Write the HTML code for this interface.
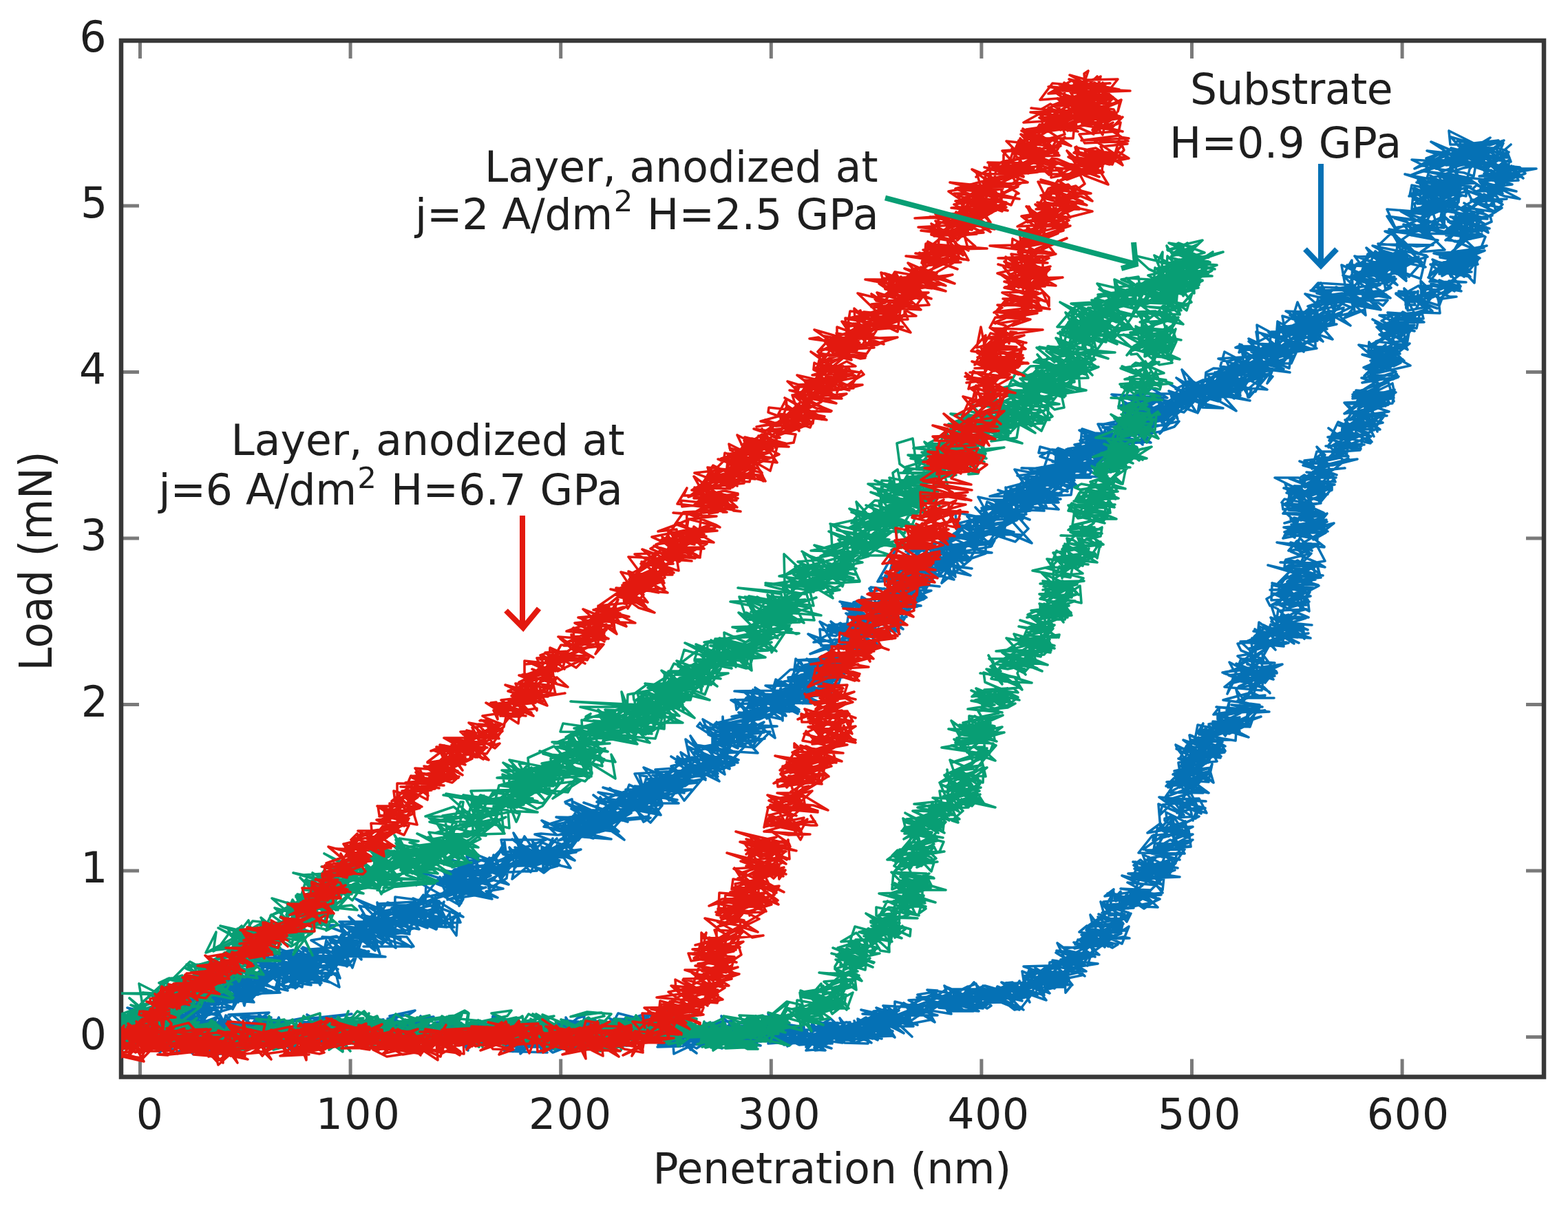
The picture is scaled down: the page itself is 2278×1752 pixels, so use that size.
<!DOCTYPE html>
<html><head><meta charset="utf-8"><title>Load vs Penetration</title>
<style>
html,body{margin:0;padding:0;background:#fff;}
svg{display:block;}
text{font-family:"DejaVu Sans","Liberation Sans",sans-serif;fill:#1e1e1e;}
</style></head>
<body>
<svg xmlns="http://www.w3.org/2000/svg" width="2278" height="1752" viewBox="0 0 2278 1752">
<rect x="0" y="0" width="2278" height="1752" fill="#fff"/>
<defs><clipPath id="ax"><rect x="176" y="59" width="2067" height="1505.5"/></clipPath></defs>
<g stroke="#7a7a7a" stroke-width="5">
<line x1="203.5" y1="1564.5" x2="203.5" y2="1538.5"/>
<line x1="203.5" y1="59.0" x2="203.5" y2="85.0"/>
<line x1="509.1" y1="1564.5" x2="509.1" y2="1538.5"/>
<line x1="509.1" y1="59.0" x2="509.1" y2="85.0"/>
<line x1="814.7" y1="1564.5" x2="814.7" y2="1538.5"/>
<line x1="814.7" y1="59.0" x2="814.7" y2="85.0"/>
<line x1="1120.3" y1="1564.5" x2="1120.3" y2="1538.5"/>
<line x1="1120.3" y1="59.0" x2="1120.3" y2="85.0"/>
<line x1="1425.9" y1="1564.5" x2="1425.9" y2="1538.5"/>
<line x1="1425.9" y1="59.0" x2="1425.9" y2="85.0"/>
<line x1="1731.5" y1="1564.5" x2="1731.5" y2="1538.5"/>
<line x1="1731.5" y1="59.0" x2="1731.5" y2="85.0"/>
<line x1="2037.1" y1="1564.5" x2="2037.1" y2="1538.5"/>
<line x1="2037.1" y1="59.0" x2="2037.1" y2="85.0"/>
<line x1="176.0" y1="1506.5" x2="202.0" y2="1506.5"/>
<line x1="2243.0" y1="1506.5" x2="2217.0" y2="1506.5"/>
<line x1="176.0" y1="1265.0" x2="202.0" y2="1265.0"/>
<line x1="2243.0" y1="1265.0" x2="2217.0" y2="1265.0"/>
<line x1="176.0" y1="1023.5" x2="202.0" y2="1023.5"/>
<line x1="2243.0" y1="1023.5" x2="2217.0" y2="1023.5"/>
<line x1="176.0" y1="782.0" x2="202.0" y2="782.0"/>
<line x1="2243.0" y1="782.0" x2="2217.0" y2="782.0"/>
<line x1="176.0" y1="540.5" x2="202.0" y2="540.5"/>
<line x1="2243.0" y1="540.5" x2="2217.0" y2="540.5"/>
<line x1="176.0" y1="299.0" x2="202.0" y2="299.0"/>
<line x1="2243.0" y1="299.0" x2="2217.0" y2="299.0"/>
</g>
<rect x="176" y="59" width="2067" height="1505.5" fill="none" stroke="#383838" stroke-width="6.5"/>
<g stroke-width="3.6" stroke-linejoin="round" stroke-linecap="round" clip-path="url(#ax)">
<path d="M185 1479L192 1500 182 1513 160 1514 188 1473 160 1490 168 1473 208 1510 192 1472 218 1494 214 1494 168 1500 164 1497 231 1516 205 1501 174 1486 168 1497 203 1481 206 1504 244 1500 234 1500 167 1516 213 1511 193 1493 157 1518 172 1522 189 1522 185 1496 237 1498 218 1510 171 1496 189 1498 229 1495 175 1498 168 1489 190 1502 199 1497 233 1488 167 1496 205 1492 214 1502 169 1488 194 1477 175 1495 218 1486 250 1463 233 1480 245 1509 220 1505 207 1478 226 1507 238 1507 260 1474 253 1520 223 1474 198 1481 206 1498 252 1492 199 1488 200 1481 205 1495 241 1489 230 1500 257 1480 205 1511 272 1509 224 1499 230 1477 216 1472 221 1497 247 1503 232 1487 185 1464 206 1469 204 1465 258 1485 276 1483 235 1472 244 1484 223 1480 262 1492 279 1466 284 1478 223 1487 307 1490 265 1456 271 1477 246 1488 263 1485 256 1497 268 1494 280 1464 226 1483 287 1483 275 1492 246 1465 252 1473 242 1455 258 1503 257 1465 230 1451 269 1470 241 1474 255 1451 291 1448 300 1462 253 1482 239 1473 281 1453 248 1466 302 1464 243 1490 263 1480 269 1494 242 1496 277 1459 249 1473 297 1478 278 1503 286 1486 240 1491 314 1503 252 1467 259 1491 266 1468 274 1475 272 1465 242 1486 275 1485 253 1489 269 1466 296 1453 297 1473 247 1454 248 1476 288 1472 252 1460 306 1472 284 1450 292 1440 300 1445 299 1453 307 1450 296 1472 284 1483 297 1472 294 1489 256 1482 314 1498 322 1506 279 1505 291 1488 303 1473 279 1483 279 1474 322 1510 305 1493 247 1475 298 1498 296 1469 296 1471 317 1475 267 1466 332 1463 257 1467 307 1503 283 1464 287 1469 309 1454 326 1486 313 1466 272 1475 277 1481 278 1462 328 1442 298 1463 316 1466 283 1459 270 1439 282 1458 275 1451 335 1445 307 1455 316 1454 307 1470 292 1444 339 1464 298 1476 325 1448 321 1470 274 1457 284 1441 322 1445 306 1436 283 1447 345 1444 283 1449 288 1460 310 1428 333 1449 274 1446 292 1443 298 1435 341 1454 355 1434 346 1456 317 1421 302 1461 307 1423 332 1453 324 1426 344 1445 317 1460 295 1428 366 1423 351 1443 338 1466 344 1439 364 1452 298 1442 293 1439 339 1431 357 1453 305 1460 355 1452 295 1438 324 1441 312 1451 369 1456 352 1433 363 1428 355 1461 347 1433 346 1437 343 1450 358 1445 381 1412 348 1421 351 1432 306 1436 342 1436 407 1442 314 1446 341 1414 372 1440 291 1432 319 1438 346 1422 311 1450 365 1452 381 1414 391 1416 361 1453 331 1415 355 1442 322 1421 377 1436 364 1429 351 1450 395 1440 328 1425 336 1439 325 1437 370 1443 333 1432 328 1451 387 1437 321 1428 363 1422 383 1406 374 1418 383 1434 327 1409 375 1445 354 1410 331 1442 338 1437 348 1444 359 1436 344 1411 332 1435 395 1420 358 1439 383 1431 407 1413 405 1440 362 1415 397 1419 341 1432 367 1450 404 1409 339 1443 342 1425 356 1436 384 1431 358 1416 390 1412 386 1411 418 1439 348 1423 414 1406 412 1432 430 1435 429 1396 360 1434 407 1391 352 1392 354 1398 431 1415 357 1393 361 1420 374 1389 402 1412 377 1384 432 1389 414 1423 438 1408 376 1387 384 1425 381 1421 426 1380 367 1392 441 1417 439 1400 424 1408 423 1385 395 1410 401 1420 398 1418 421 1412 407 1399 442 1407 382 1397 452 1428 384 1410 439 1434 442 1414 441 1402 416 1405 377 1427 390 1406 398 1407 439 1415 434 1396 424 1385 455 1387 433 1411 419 1394 444 1395 392 1384 440 1414 408 1414 462 1385 387 1394 396 1374 465 1403 433 1380 422 1404 430 1402 463 1393 390 1381 450 1401 405 1388 461 1410 471 1390 434 1403 468 1412 465 1431 447 1392 421 1398 429 1436 426 1430 429 1429 418 1436 441 1405 467 1428 449 1427 434 1410 435 1409 403 1407 432 1434 420 1399 410 1426 435 1419 401 1433 411 1397 470 1406 445 1402 433 1409 460 1410 418 1404 479 1427 429 1414 448 1422 431 1413 459 1412 451 1393 503 1403 414 1387 490 1389 457 1396 440 1386 494 1421 483 1392 430 1411 460 1425 414 1409 482 1416 436 1427 455 1393 440 1395 453 1416 491 1400 474 1424 493 1434 488 1414 441 1412 433 1428 452 1431 444 1425 435 1422 443 1415 431 1394 471 1425 486 1398 453 1395 454 1409 431 1412 490 1400 439 1408 481 1403 491 1408 438 1378 474 1384 508 1402 500 1385 483 1408 473 1396 471 1392 500 1392 488 1377 499 1399 498 1391 481 1409 482 1391 442 1396 440 1376 450 1380 519 1387 504 1404 484 1392 518 1377 476 1400 451 1384 536 1382 468 1392 509 1397 454 1405 519 1367 476 1397 511 1366 493 1367 512 1406 525 1367 475 1406 504 1384 479 1366 519 1371 525 1394 501 1370 528 1386 489 1360 452 1366 492 1390 474 1366 468 1395 451 1379 491 1376 530 1381 486 1384 494 1386 467 1379 480 1370 521 1367 481 1389 560 1390 511 1381 522 1351 533 1359 508 1350 503 1386 541 1388 528 1381 475 1362 468 1361 542 1364 545 1381 499 1344 472 1344 544 1372 538 1375 530 1349 494 1345 514 1367 555 1369 518 1357 533 1364 535 1350 552 1386 544 1359 483 1382 496 1358 495 1362 518 1347 499 1360 504 1384 502 1376 528 1341 501 1343 494 1344 501 1365 505 1375 501 1366 543 1333 538 1368 493 1339 575 1339 565 1333 561 1361 574 1347 532 1355 524 1341 518 1359 496 1374 521 1349 512 1339 575 1377 571 1352 580 1339 524 1360 534 1363 507 1332 555 1372 567 1358 521 1330 582 1364 522 1349 558 1355 529 1330 551 1360 582 1326 546 1325 512 1356 572 1324 520 1363 559 1346 530 1317 591 1330 585 1328 522 1316 532 1333 520 1349 518 1340 572 1358 553 1317 526 1357 561 1334 544 1349 561 1357 549 1361 551 1322 538 1338 582 1340 535 1350 587 1355 557 1359 600 1349 526 1329 554 1338 570 1375 528 1375 601 1375 591 1361 529 1359 562 1339 549 1361 598 1376 559 1353 541 1345 584 1352 540 1350 595 1357 572 1349 552 1315 609 1315 544 1345 546 1338 611 1325 571 1323 583 1341 574 1324 590 1325 603 1310 549 1313 561 1337 535 1341 617 1325 608 1344 584 1338 569 1344 599 1340 517 1306 589 1352 555 1329 548 1311 550 1331 592 1320 563 1311 546 1337 574 1326 609 1325 547 1326 615 1311 616 1337 615 1300 596 1326 568 1326 625 1309 627 1311 605 1325 582 1332 583 1320 609 1350 535 1335 603 1333 621 1348 594 1338 589 1323 591 1323 576 1315 628 1329 591 1329 633 1350 602 1321 642 1312 574 1303 573 1338 603 1336 577 1331 569 1319 634 1307 650 1339 626 1307 582 1328 634 1350 645 1310 636 1345 628 1325 592 1348 580 1333 639 1324 580 1339 603 1341 643 1332 592 1327 610 1332 605 1322 583 1338 642 1340 668 1327 658 1336 657 1348 653 1327 641 1344 607 1318 594 1357 590 1331 635 1319 663 1359 665 1331 669 1340 602 1343 660 1347 616 1324 635 1346 642 1341 600 1317 605 1319 644 1328 623 1338 638 1309 633 1319 600 1305 613 1324 620 1329 616 1344 649 1347 629 1315 673 1332 620 1299 600 1319 611 1334 627 1324 633 1301 658 1298 666 1314 607 1281 608 1282 605 1286 602 1282 619 1282 618 1310 653 1299 651 1272 682 1288 639 1277 649 1300 669 1265 632 1283 653 1291 678 1290 615 1304 639 1274 670 1312 673 1287 624 1271 605 1266 642 1286 678 1272 662 1283 662 1295 658 1288 648 1294 687 1283 677 1287 667 1316 673 1306 656 1284 645 1278 636 1281 639 1282 702 1298 694 1300 650 1307 706 1289 644 1297 691 1294 684 1287 669 1271 690 1292 665 1294 669 1262 705 1273 641 1264 676 1292 661 1285 647 1299 705 1279 657 1294 715 1306 660 1268 657 1290 691 1298 648 1293 640 1301 698 1277 695 1301 700 1289 648 1281 706 1302 646 1269 648 1277 663 1299 644 1274 699 1283 648 1303 710 1269 657 1272 731 1291 706 1295 723 1304 659 1285 681 1282 692 1288 669 1280 652 1267 669 1278 691 1259 651 1273 668 1268 666 1272 690 1283 723 1253 653 1285 658 1265 709 1264 723 1262 682 1271 680 1255 655 1249 693 1271 737 1244 720 1268 726 1257 678 1244 689 1272 670 1262 703 1248 728 1276 713 1257 672 1283 687 1274 672 1257 739 1263 713 1296 702 1268 666 1260 697 1282 676 1270 695 1242 689 1283 713 1272 679 1280 702 1283 712 1277 739 1285 726 1275 731 1268 696 1285 699 1267 714 1288 710 1291 736 1276 739 1253 726 1257 742 1247 716 1279 698 1284 712 1248 717 1268 726 1272 692 1256 702 1279 660 1263 704 1257 711 1246 701 1270 718 1248 700 1260 723 1264 707 1256 716 1246 708 1248 683 1238 678 1250 713 1249 731 1231 719 1249 733 1223 738 1262 726 1261 704 1272 771 1242 773 1257 715 1260 717 1242 723 1251 752 1239 744 1277 780 1248 771 1267 740 1231 749 1260 764 1237 780 1265 720 1268 790 1236 745 1235 789 1249 757 1256 775 1245 714 1268 739 1258 747 1256 732 1267 719 1249 727 1251 749 1243 788 1248 777 1225 776 1228 749 1233 757 1236 729 1238 731 1241 749 1247 766 1232 739 1252 727 1259 752 1235 793 1220 728 1220 732 1239 792 1255 799 1257 806 1234 762 1240 763 1238 764 1257 746 1210 772 1249 777 1232 793 1256 753 1233 762 1215 780 1241 759 1252 788 1224 797 1228 781 1241 785 1251 744 1219 810 1258 792 1263 803 1218 792 1240 779 1249 764 1252 781 1242 748 1231 813 1250 790 1268 776 1258 761 1234 792 1254 814 1257 790 1241 789 1266 789 1231 835 1250 826 1243 803 1237 801 1233 794 1264 751 1254 825 1223 782 1255 812 1252 787 1230 788 1252 825 1236 776 1255 829 1239 802 1239 844 1234 779 1257 806 1243 837 1238 826 1231 833 1223 838 1217 773 1254 809 1218 802 1226 792 1244 827 1227 788 1252 813 1230 809 1228 818 1237 798 1237 810 1254 782 1253 773 1220 783 1242 819 1246 829 1261 778 1249 809 1229 797 1235 825 1242 816 1204 849 1206 830 1232 777 1212 786 1211 809 1213 787 1192 824 1208 862 1218 832 1196 864 1214 865 1192 845 1216 833 1208 790 1201 792 1199 843 1183 849 1184 822 1188 829 1196 834 1207 888 1219 848 1216 869 1182 852 1180 830 1212 798 1203 858 1212 892 1203 811 1213 846 1203 854 1206 806 1198 826 1194 821 1223 852 1187 818 1211 866 1202 834 1184 813 1204 838 1196 808 1187 856 1188 840 1221 861 1194 811 1221 881 1205 880 1204 853 1185 820 1195 827 1210 877 1206 868 1185 874 1184 833 1165 862 1182 879 1186 822 1167 877 1188 844 1188 861 1177 859 1194 821 1165 831 1161 832 1171 892 1204 882 1202 886 1206 860 1206 878 1184 852 1196 819 1216 865 1177 831 1188 866 1181 885 1198 853 1191 849 1186 827 1199 897 1188 874 1199 866 1171 869 1186 886 1179 890 1180 860 1196 864 1195 830 1175 887 1182 842 1182 871 1188 824 1221 857 1213 870 1195 907 1220 894 1208 857 1204 859 1190 878 1197 864 1192 848 1195 846 1179 872 1176 886 1196 860 1209 838 1207 871 1194 884 1173 896 1175 885 1180 856 1181 878 1191 899 1208 851 1196 835 1182 841 1192 874 1206 917 1181 844 1188 876 1195 907 1188 848 1166 897 1183 842 1203 884 1172 879 1178 871 1209 900 1184 887 1196 859 1196 887 1196 868 1191 892 1203 894 1200 925 1165 886 1168 862 1197 882 1176 881 1200 893 1163 874 1177 880 1199 898 1191 872 1158 868 1173 888 1191 884 1185 912 1194 862 1155 903 1186 878 1168 867 1165 908 1150 886 1172 927 1144 941 1176 886 1169 904 1177 940 1169 881 1160 903 1167 921 1169 868 1164 939 1165 912 1158 869 1151 918 1177 900 1183 953 1159 903 1154 910 1163 886 1145 945 1195 957 1181 922 1171 935 1194 945 1188 904 1192 892 1183 949 1159 942 1186 890 1191 963 1157 904 1175 937 1148 960 1184 909 1174 943 1180 925 1170 913 1176 907 1168 924 1148 948 1155 959 1143 963 1144 947 1163 876 1144 936 1166 943 1143 962 1170 956 1177 910 1163 919 1155 927 1146 914 1140 904 1168 929 1174 962 1169 909 1152 984 1162 918 1150 961 1168 909 1147 1005 1147 951 1159 946 1154 945 1150 976 1128 919 1148 965 1127 920 1146 990 1128 932 1165 989 1137 943 1148 944 1167 986 1167 922 1142 983 1147 981 1118 916 1163 926 1163 962 1167 955 1147 992 1143 950 1159 943 1138 965 1133 945 1149 999 1119 922 1124 933 1145 1014 1137 938 1140 949 1139 947 1139 976 1118 936 1152 929 1126 940 1128 932 1151 950 1159 910 1163 966 1128 935 1115 972 1163 993 1136 940 1144 974 1159 932 1159 948 1152 960 1130 1007 1134 995 1142 976 1131 978 1150 968 1126 994 1163 1024 1127 938 1132 988 1142 939 1144 994 1152 981 1144 977 1143 956 1144 958 1129 1008 1127 948 1126 977 1141 970 1145 995 1118 1025 1131 988 1138 964 1144 984 1120 975 1113 987 1110 952 1143 976 1134 952 1118 979 1116 955 1134 965 1132 994 1125 993 1135 973 1130 1025 1117 969 1148 1002 1127 985 1122 973 1137 1002 1131 1005 1115 1036 1107 984 1124 978 1130 994 1116 982 1107 1024 1103 1019 1125 975 1099 992 1110 1041 1115 1022 1110 1047 1105 1021 1109 1004 1121 1043 1128 989 1093 1002 1130 1050 1117 1010 1116 1039 1123 1043 1124 1037 1113 1030 1105 997 1102 1022 1129 984 1099 986 1112 1016 1098 1045 1135 1003 1114 1007 1122 997 1109 1025 1133 984 1103 1013 1103 999 1115 1012 1127 1048 1106 1053 1125 1039 1116 1054 1108 986 1122 989 1126 1005 1120 1034 1098 1022 1100 1067 1111 1040 1118 1052 1107 1000 1085 1022 1116 1005 1100 1060 1116 1038 1077 1044 1099 1069 1104 1053 1096 1050 1079 1028 1088 1047 1111 1038 1104 1060 1099 1073 1104 1005 1116 996 1074 1040 1108 1042 1112 1008 1093 1059 1076 1055 1114 1050 1093 1060 1117 1032 1105 1072 1108 1011 1082 1074 1093 1051 1094 1055 1111 1065 1102 1083 1083 1053 1116 1022 1096 1003 1069 1015 1096 1049 1101 1062 1077 1019 1085 1035 1089 1035 1072 1038 1071 1013 1055 1017 1050 1022 1057 1082 1056 1078 1084 1042 1057 1021 1045 1031 1067 1048 1062 1033 1052 1032 1053 1095 1053 1095 1046 1086 1060 1070 1069 1072 1083 1101 1058 1072 1066 1041 1049 1072 1087 1029 1067 1098 1070 1040 1069 1023 1054 1054 1068 1074 1068 1038 1079 1068 1093 1037 1090 1101 1094 1078 1069 1036 1074 1059 1089 1075 1054 1099 1059 1076 1077 1069 1084 1111 1073 1061 1079 1051 1048 1110 1064 1088 1067 1073 1067 1055 1065 1075 1054 1099 1073 1071 1067 1110 1049 1087 1073 1093 1085 1111 1058 1043 1059 1072 1062 1119 1063 1096 1086 1041 1081 1101 1039 1078 1053 1080 1053 1075 1081 1073 1065 1094 1056 1065 1070 1105 1032 1081 1039 1076 1068 1052 1051 1097 1046 1073 1035 1116 1038 1126 1072 1088 1044 1050 1052 1050 1041 1051 1054 1074 1056 1054 1062 1129 1055 1039 1051 1125 1029 1063 1041 1095 1043 1092 1022 1087 1025 1090 1014 1114 1044 1133 1030 1094 1012 1096 1020 1131 1018 1085 1013 1070 1031 1068 1016 1088 1034 1062 1017 1135 1015 1137 1047 1137 1018 1093 1046 1103 1045 1127 1034 1092 1048 1111 1040 1089 1042 1127 1011 1067 1004 1143 1003 1125 1012 1142 1040 1105 1024 1146 1008 1125 1019 1126 1025 1135 997 1128 993 1119 1019 1080 1030 1076 1023 1109 1020 1112 1025 1091 1007 1122 1009 1103 1021 1081 1040 1155 1002 1114 1032 1082 1006 1116 1009 1132 1014 1080 1018 1095 1015 1136 1045 1081 1033 1093 1019 1100 1042 1116 1033 1092 1013 1135 1016 1115 1020 1147 1034 1141 1005 1145 998 1098 1026 1135 1011 1159 1037 1120 1017 1094 1002 1089 1029 1155 1033 1121 1035 1119 1012 1161 1034 1145 1030 1097 999 1114 1028 1161 1031 1145 1020 1159 993 1139 1025 1127 1023 1136 994 1154 1005 1164 1006 1135 990 1179 1022 1105 1020 1164 1004 1183 997 1112 996 1166 1022 1134 1003 1145 1002 1139 990 1183 984 1152 1009 1147 1013 1128 1029 1150 994 1179 999 1180 996 1170 988 1094 1020 1176 1020 1149 992 1125 1025 1173 1012 1192 1021 1139 1019 1121 1015 1181 1005 1144 1011 1171 990 1153 998 1170 1020 1177 1004 1122 1004 1127 987 1164 1010 1173 1003 1150 1008 1183 1019 1148 999 1143 1014 1201 1010 1134 1006 1144 1004 1159 1011 1152 1002 1149 1029 1169 1001 1155 990 1149 1017 1164 989 1137 1011 1194 1001 1143 1006 1158 1007 1203 983 1209 1013 1193 1006 1196 1010 1180 998 1196 1002 1182 981 1150 989 1219 998 1183 979 1164 980 1211 988 1194 980 1190 1008 1197 974 1219 996 1146 1022 1184 991 1186 975 1160 997 1216 988 1170 990 1146 990 1145 984 1172 982 1217 998 1225 972 1208 986 1200 999 1165 1003 1128 991 1148 973 1219 967 1227 979 1195 981 1158 972 1200 966 1173 980 1152 989 1156 957 1167 968 1162 959 1148 989 1193 972 1205 951 1202 985 1155 966 1199 987 1172 957 1195 972 1187 975 1184 962 1154 975 1181 962 1212 971 1194 973 1225 974 1217 986 1157 986 1228 955 1157 959 1229 960 1153 984 1169 966 1220 955 1176 992 1156 985 1204 987 1205 951 1177 983 1216 952 1181 984 1218 969 1158 975 1235 963 1216 976 1208 993 1214 984 1177 987 1187 966 1176 972 1230 968 1194 953 1177 966 1179 987 1196 962 1224 984 1210 974 1203 966 1172 970 1169 976 1216 954 1233 953 1194 972 1226 958 1247 931 1223 960 1174 921 1247 948 1251 917 1177 950 1231 933 1251 908 1248 942 1215 942 1191 903 1250 936 1207 903 1229 928 1182 933 1257 894 1214 924 1207 923 1216 908 1221 905 1232 915 1255 915 1247 936 1220 908 1240 917 1259 904 1204 908 1238 925 1191 914 1193 938 1260 934 1256 942 1244 945 1236 916 1257 937 1234 911 1257 922 1202 913 1265 940 1229 922 1225 932 1261 932 1232 905 1253 940 1228 934 1212 929 1277 940 1237 910 1231 911 1275 937 1247 896 1222 929 1267 922 1212 911 1271 917 1263 923 1238 930 1294 898 1280 877 1264 905 1249 893 1292 894 1220 874 1280 885 1257 884 1232 879 1239 904 1255 891 1223 877 1275 916 1304 917 1224 881 1271 912 1230 910 1233 891 1269 925 1229 891 1261 897 1285 903 1257 894 1236 889 1266 925 1231 915 1252 893 1255 904 1241 912 1287 881 1278 903 1245 901 1241 904 1247 893 1252 867 1288 887 1304 875 1304 890 1284 898 1253 881 1303 869 1257 871 1267 890 1265 870 1304 867 1270 880 1311 862 1253 903 1317 896 1277 900 1289 888 1262 888 1256 880 1284 897 1240 875 1247 873 1298 886 1252 899 1245 877 1305 907 1304 876 1312 891 1323 883 1308 909 1313 878 1276 886 1307 921 1276 884 1312 914 1264 887 1273 910 1291 877 1270 892 1299 890 1276 910 1298 881 1281 880 1286 892 1320 884 1261 881 1304 899 1280 887 1264 889 1313 860 1283 861 1308 892 1313 856 1273 877 1263 855 1290 883 1310 886 1333 881 1294 890 1264 898 1287 901 1273 888 1261 881 1298 865 1307 870 1261 905 1291 863 1302 858 1276 874 1342 865 1306 886 1339 862 1319 882 1338 880 1288 871 1334 862 1265 853 1266 860 1285 855 1291 862 1309 856 1336 865 1332 847 1320 836 1331 860 1297 868 1352 830 1342 855 1304 830 1297 854 1290 856 1353 858 1342 862 1355 837 1289 842 1346 839 1350 849 1286 870 1322 863 1284 869 1315 882 1344 869 1341 871 1299 854 1319 875 1318 871 1292 864 1346 868 1305 833 1349 845 1364 834 1295 862 1286 836 1332 856 1291 840 1300 801 1275 845 1291 844 1314 841 1346 844 1346 810 1322 848 1295 848 1338 843 1323 830 1299 827 1328 843 1288 860 1317 838 1332 861 1329 862 1311 848 1278 840 1375 825 1323 824 1371 837 1309 839 1284 839 1342 832 1308 841 1320 800 1320 815 1302 827 1322 800 1366 797 1305 822 1342 798 1362 838 1375 803 1355 828 1321 850 1335 805 1333 846 1323 845 1368 825 1318 848 1325 817 1315 846 1324 818 1316 854 1353 819 1348 850 1365 852 1327 848 1351 846 1362 814 1388 838 1383 808 1366 824 1330 808 1384 811 1358 801 1356 791 1369 787 1345 792 1379 819 1329 783 1316 801 1336 802 1320 811 1339 817 1335 820 1344 826 1343 808 1375 794 1403 812 1397 791 1327 811 1369 801 1373 818 1372 817 1381 801 1373 784 1381 833 1356 818 1373 829 1386 842 1364 836 1397 804 1378 827 1341 832 1344 814 1412 826 1345 818 1348 819 1410 813 1368 847 1387 800 1385 833 1337 797 1410 836 1373 828 1381 803 1395 815 1382 803 1394 824 1358 815 1394 811 1402 797 1376 798 1415 786 1360 802 1403 814 1373 793 1400 820 1385 802 1429 783 1428 780 1409 812 1432 804 1432 789 1357 774 1397 800 1409 811 1358 798 1387 775 1410 781 1376 783 1383 777 1402 777 1358 799 1386 775 1368 794 1417 787 1421 775 1408 783 1407 778 1403 777 1375 777 1418 798 1398 769 1370 796 1442 790 1374 796 1445 785 1440 794 1388 803 1441 803 1415 798 1408 774 1434 773 1444 770 1385 796 1452 770 1401 775 1441 793 1412 766 1410 780 1410 757 1383 778 1413 782 1391 764 1459 780 1398 765 1427 751 1415 753 1451 778 1437 774 1392 782 1417 782 1422 751 1388 744 1390 769 1393 763 1444 766 1417 737 1454 778 1424 752 1390 761 1427 781 1433 776 1483 777 1416 771 1455 760 1435 791 1459 772 1419 756 1416 782 1420 765 1461 773 1499 789 1470 757 1406 786 1420 769 1475 787 1494 768 1481 753 1453 768 1473 773 1443 775 1463 754 1474 757 1485 750 1459 745 1426 771 1405 750 1445 750 1442 754 1418 774 1428 777 1418 766 1460 747 1457 780 1468 729 1441 752 1418 755 1470 746 1444 739 1463 737 1429 752 1432 742 1413 765 1477 756 1454 746 1438 731 1496 755 1447 737 1423 743 1489 718 1506 721 1456 751 1460 714 1457 742 1451 747 1495 738 1421 722 1442 760 1426 738 1497 742 1461 746 1435 735 1444 742 1451 732 1460 748 1464 725 1503 725 1485 753 1425 756 1439 752 1491 747 1487 748 1428 751 1434 729 1474 746 1482 751 1451 750 1493 737 1465 747 1486 754 1442 726 1502 727 1456 714 1493 721 1438 746 1472 721 1438 721 1474 711 1503 705 1500 737 1485 743 1516 711 1480 706 1477 721 1450 712 1496 734 1481 730 1511 740 1515 715 1476 715 1478 745 1494 742 1472 717 1476 737 1469 715 1462 724 1483 730 1453 735 1486 699 1455 732 1447 731 1523 700 1470 724 1515 714 1503 724 1517 742 1429 738 1470 738 1468 709 1521 738 1509 709 1464 738 1461 708 1474 752 1494 723 1462 737 1511 713 1538 740 1480 735 1517 720 1508 714 1470 711 1534 699 1513 726 1518 702 1517 694 1464 708 1545 688 1525 726 1482 712 1492 698 1541 708 1499 695 1484 713 1542 717 1493 711 1527 710 1517 681 1496 700 1494 713 1474 682 1548 696 1530 697 1546 683 1478 691 1528 715 1557 685 1476 729 1487 720 1497 704 1538 725 1500 695 1530 702 1560 706 1523 724 1525 724 1487 694 1551 714 1538 709 1499 733 1541 725 1489 731 1538 730 1490 692 1558 695 1496 722 1556 719 1561 685 1542 706 1538 683 1498 685 1557 694 1498 707 1538 685 1532 703 1538 705 1513 684 1525 705 1558 673 1532 701 1496 682 1533 675 1566 707 1507 681 1484 680 1580 682 1556 698 1553 709 1505 685 1549 670 1518 686 1532 687 1582 673 1529 698 1562 670 1529 671 1582 662 1542 660 1561 698 1530 689 1539 694 1585 694 1529 658 1509 658 1511 649 1554 661 1569 684 1511 663 1525 655 1515 685 1592 669 1583 657 1566 645 1561 646 1589 661 1549 679 1545 675 1534 659 1533 683 1586 658 1528 653 1568 680 1597 680 1532 678 1518 690 1535 685 1583 664 1588 655 1581 665 1581 668 1561 659 1565 684 1563 678 1574 658 1569 676 1599 693 1527 689 1555 668 1553 691 1583 689 1586 685 1558 657 1536 652 1571 684 1606 663 1603 655 1565 657 1607 643 1577 653 1600 674 1568 678 1569 662 1570 658 1551 652 1604 643 1563 665 1538 694 1577 680 1558 663 1534 657 1551 656 1595 675 1609 653 1612 660 1586 680 1614 686 1599 652 1579 655 1588 676 1537 664 1537 675 1577 686 1554 684 1537 651 1605 676 1555 658 1549 653 1551 679 1592 636 1585 656 1562 674 1612 641 1563 658 1573 660 1523 687 1590 676 1571 678 1601 664 1615 667 1605 680 1579 667 1535 656 1560 677 1547 688 1602 647 1594 685 1600 673 1563 646 1577 642 1615 651 1590 677 1619 657 1571 666 1566 665 1549 670 1612 646 1558 665 1620 663 1569 640 1596 632 1569 654 1572 623 1629 642 1603 638 1557 660 1582 652 1623 642 1572 662 1638 632 1608 638 1602 665 1591 648 1560 654 1572 653 1596 630 1574 634 1625 651 1614 653 1612 656 1568 625 1617 634 1633 646 1641 651 1607 628 1663 620 1641 632 1572 628 1606 632 1625 631 1578 639 1645 640 1594 641 1573 652 1626 648 1621 636 1629 614 1635 625 1632 632 1637 625 1633 644 1600 617 1659 604 1643 618 1596 632 1641 637 1607 621 1590 662 1630 633 1592 640 1651 649 1633 649 1609 639 1617 651 1629 638 1648 657 1627 645 1668 636 1613 615 1610 646 1668 642 1602 630 1595 616 1657 617 1660 646 1647 633 1602 621 1640 618 1633 639 1667 619 1658 611 1625 632 1614 635 1672 643 1628 615 1663 604 1631 627 1645 608 1621 610 1637 639 1609 636 1660 605 1641 594 1648 624 1693 608 1643 598 1678 594 1645 618 1677 579 1663 601 1615 573 1696 578 1673 564 1640 593 1701 593 1682 597 1629 589 1685 594 1648 597 1625 590 1686 574 1686 579 1655 601 1645 585 1678 593 1717 572 1650 572 1650 602 1697 600 1632 577 1676 586 1658 592 1674 626 1650 610 1704 601 1713 599 1637 586 1633 599 1671 613 1656 612 1681 593 1649 625 1715 597 1697 612 1685 630 1706 608 1647 618 1695 618 1682 605 1660 632 1685 627 1706 620 1713 612 1645 627 1703 587 1695 605 1722 581 1686 598 1691 597 1659 599 1689 594 1699 604 1672 608 1723 585 1695 602 1721 571 1689 604 1709 582 1736 579 1714 591 1696 589 1663 598 1672 578 1704 584 1695 586 1669 582 1664 598 1700 582 1684 587 1698 593 1720 599 1734 584 1685 593 1683 599 1672 620 1696 585 1711 609 1701 573 1719 590 1716 579 1725 583 1678 609 1694 605 1684 605 1736 576 1737 580 1685 593 1701 587 1683 577 1694 608 1688 614 1707 598 1714 590 1738 599 1718 567 1716 598 1695 585 1746 564 1740 600 1748 584 1698 568 1760 592 1696 556 1712 566 1704 576 1746 563 1730 583 1739 566 1709 549 1752 586 1744 560 1721 558 1726 556 1754 578 1770 583 1708 565 1720 559 1715 575 1737 557 1774 572 1723 563 1746 568 1717 537 1726 563 1714 568 1728 579 1732 584 1715 580 1714 585 1755 550 1747 592 1777 593 1743 585 1766 553 1719 594 1750 562 1726 554 1726 577 1746 563 1766 563 1796 597 1730 559 1774 565 1750 573 1784 562 1751 584 1770 547 1773 581 1719 570 1763 579 1792 565 1739 567 1731 565 1802 570 1783 560 1802 575 1795 537 1735 558 1748 552 1796 561 1773 561 1772 537 1749 569 1744 569 1796 539 1753 544 1793 579 1762 560 1792 550 1789 547 1768 556 1740 561 1816 582 1760 572 1727 550 1765 577 1796 576 1792 548 1765 541 1818 567 1813 577 1809 559 1777 562 1757 567 1760 571 1842 545 1815 577 1794 544 1800 578 1751 552 1752 541 1763 535 1808 538 1787 537 1751 554 1805 520 1772 547 1828 543 1784 533 1765 542 1804 567 1815 551 1786 559 1767 541 1811 567 1831 550 1824 569 1834 548 1789 540 1774 560 1784 572 1794 543 1805 560 1803 542 1769 572 1783 572 1758 565 1832 540 1812 539 1837 538 1830 546 1790 557 1801 552 1817 553 1841 566 1796 562 1807 561 1810 545 1790 528 1818 534 1807 534 1780 543 1849 537 1841 557 1849 547 1770 521 1851 516 1814 550 1847 542 1816 516 1802 506 1801 504 1814 526 1826 540 1773 532 1779 511 1800 522 1811 535 1815 515 1833 524 1781 535 1850 524 1858 500 1855 537 1819 534 1874 541 1795 525 1859 532 1868 522 1823 538 1783 545 1837 503 1789 545 1820 544 1837 514 1843 529 1782 542 1822 525 1850 527 1790 543 1782 525 1859 507 1811 518 1801 500 1865 536 1838 529 1809 538 1808 531 1871 499 1842 510 1799 503 1819 503 1821 503 1800 512 1804 501 1795 505 1823 509 1873 500 1863 512 1840 512 1869 507 1818 511 1873 535 1876 510 1804 508 1806 519 1806 535 1884 511 1825 514 1822 532 1811 546 1858 535 1844 515 1840 513 1819 537 1809 540 1834 516 1881 517 1848 527 1868 508 1855 509 1865 517 1890 507 1855 515 1818 502 1826 517 1890 497 1876 528 1837 528 1830 520 1913 506 1872 508 1814 496 1821 502 1814 492 1878 522 1833 485 1858 507 1883 502 1839 504 1848 503 1855 500 1843 500 1823 499 1844 488 1889 501 1825 482 1829 507 1826 472 1878 500 1847 484 1894 511 1879 503 1866 519 1856 491 1843 483 1905 507 1871 501 1870 518 1912 488 1870 514 1897 486 1874 486 1843 511 1847 482 1918 482 1855 508 1862 511 1853 489 1863 494 1883 502 1907 495 1856 467 1853 507 1881 500 1860 489 1900 483 1922 496 1911 482 1911 504 1859 476 1857 506 1912 466 1885 470 1914 495 1871 503 1916 472 1855 494 1858 471 1870 498 1863 459 1904 471 1859 475 1918 487 1875 493 1865 471 1878 460 1909 495 1920 459 1868 481 1904 470 1926 461 1853 485 1900 462 1925 473 1898 469 1863 483 1928 478 1924 476 1926 460 1932 457 1882 493 1899 469 1887 488 1891 473 1879 454 1890 473 1937 471 1920 475 1936 493 1912 485 1880 472 1891 479 1945 455 1918 484 1875 485 1904 467 1898 453 1901 478 1872 474 1911 467 1874 458 1910 450 1893 473 1946 457 1904 479 1928 445 1938 472 1938 437 1896 427 1930 457 1889 470 1907 473 1881 452 1885 439 1897 466 1905 449 1918 470 1918 474 1948 443 1886 458 1930 465 1918 465 1889 469 1882 467 1942 471 1882 484 1903 471 1906 486 1914 454 1868 452 1899 470 1889 466 1933 452 1921 454 1887 481 1933 457 1962 473 1947 460 1952 447 1932 453 1928 460 1896 453 1915 437 1971 421 1900 445 1963 437 1968 452 1963 414 1915 411 1906 421 1919 411 1938 451 1942 439 1959 433 1904 422 1968 421 1911 453 1915 432 1950 426 1915 446 1909 446 1941 417 1973 432 1962 426 1917 439 1962 438 1970 419 1912 417 1952 436 1944 429 1958 425 1952 440 1924 429 1913 426 1969 414 1956 418 1993 430 1980 430 1984 458 1950 426 1929 429 2000 446 1986 433 1932 434 1998 445 1994 431 1931 462 1983 450 1953 462 1966 448 1926 431 1959 429 2006 422 1966 443 2006 450 1985 425 1964 424 2001 427 1956 427 1998 447 1951 430 2005 414 1951 400 1970 419 2009 444 2016 436 1966 437 2014 428 1979 428 1993 417 1979 443 1991 412 2020 433 2002 430 1964 419 2018 410 1991 395 1968 405 1998 429 1973 396 1974 423 1955 419 1949 385 2003 409 1970 403 1966 385 1987 387 1963 407 1995 389 1971 407 1982 396 1965 420 1964 378 1951 400 1982 410 2028 405 2013 421 2009 400 1991 396 2021 418 1996 429 1986 408 2026 402 2023 403 1988 387 2030 414 2003 386 2036 396 2006 400 1961 402 1974 407 1987 369 2034 371 2008 403 2011 401 2015 372 1972 373 2012 388 1985 400 2043 380 2011 389 1963 401 1971 383 2045 384 2029 398 1992 371 1976 383 1968 372 2032 392 2003 362 2033 399 2032 371 2000 388 1979 385 2039 391 1957 385 1971 397 2023 377 1978 405 2041 370 2033 397 2025 378 1986 391 2014 380 2043 404 2040 401 1993 372 2066 381 2047 402 2002 368 2014 369 2006 396 2055 380 2002 409 1998 392 1994 399 2040 384 2043 378 1989 366 1985 360 2043 408 2032 365 1992 384 2030 392 2018 389 1990 369 2042 383 2028 374 2033 393 1998 365 1987 391 2042 359 2042 397 2064 405 2072 371 2035 364 1990 400 2014 386 2032 366 2039 377 2019 401 2037 365 2071 388 2021 377 2033 388 2025 396 2035 387 2046 384 2061 373 1997 387 2036 370 2034 384 2038 366 1994 357 2040 383 2074 373 2034 357 2002 354 2008 364 2045 375 2029 355 2032 350 2065 380 2003 367 2015 376 2029 366 2031 345 2057 368 2037 348 2047 341 2089 349 2064 366 2099 363 2070 334 2012 336 2030 344 2023 337 2004 355 2082 356 2058 358 2031 353 2021 336 2073 343 2018 333 2079 345 2056 327 2051 337 2045 323 2026 317 2077 322 2015 314 2026 331 2055 326 2051 342 2039 326 2063 336 2069 302 2077 309 2015 304 2028 333 2095 305 2096 328 2047 311 2081 305 2070 327 2093 316 2096 299 2074 312 2035 307 2069 326 2074 324 2047 339 2081 330 2085 321 2072 336 2072 330 2098 331 2099 306 2083 305 2061 318 2091 337 2049 326 2110 340 2092 319 2074 339 2109 340 2067 339 2054 328 2063 327 2136 347 2098 314 2107 324 2126 329 2091 339 2081 306 2040 308 2063 305 2100 306 2104 290 2099 303 2060 306 2118 286 2101 308 2104 306 2044 311 2121 279 2084 283 2063 265 2090 267 2055 296 2057 307 2102 297 2111 295 2059 296 2082 290 2085 287 2114 306 2123 302 2084 299 2084 273 2090 296 2086 289 2053 274 2074 297 2048 284 2051 269 2130 285 2130 278 2105 285 2117 298 2124 261 2117 296 2086 275 2078 255 2095 265 2049 282 2075 297 2120 273 2047 285 2099 273 2066 278 2083 269 2131 266 2069 282 2127 260 2064 273 2081 270 2096 290 2107 270 2102 263 2119 294 2121 269 2107 281 2054 290 2120 301 2054 273 2051 304 2114 291 2119 276 2054 309 2076 293 2072 278 2070 302 2121 310 2098 303 2080 284 2095 297 2073 277 2084 299 2124 284 2058 265 2123 260 2091 282 2099 273 2089 253 2098 259 2119 255 2072 249 2073 235 2095 249 2131 237 2051 232 2078 245 2087 243 2051 254 2123 225 2100 231 2105 221 2067 241 2126 232 2065 248 2137 262 2073 277 2076 271 2122 269 2041 253 2109 275 2072 282 2060 262 2137 271 2098 281 2088 279 2103 267 2104 273 2095 267 2111 270 2112 261 2114 278 2074 263 2066 271 2143 266 2090 256 2073 259 2080 237 2108 234 2072 230 2109 217 2124 227 2145 234 2141 256 2127 251 2086 245 2142 220 2121 218 2055 245 2099 219 2079 206 2124 225 2135 222 2108 215 2120 220 2145 217 2114 219 2126 236 2087 223 2111 224 2117 253 2107 243 2156 234 2102 252 2132 258 2135 246 2156 219 2128 224 2153 228 2073 219 2162 249 2107 225 2154 243 2163 239 2113 239 2159 220 2101 240 2172 235 2127 244 2160 224 2095 234 2176 227 2119 239 2165 200 2111 232 2144 218 2122 233 2120 216 2132 206 2163 219 2105 190 2107 210 2145 210 2108 199 2119 212 2174 208 2114 218 2122 230 2150 209 2117 205 2121 206 2124 230 2122 223 2177 215 2164 215 2132 207 2148 216 2131 207 2141 208 2177 204 2124 214 2124 231 2139 239 2184 208 2174 231 2131 223 2182 230 2151 223 2148 223 2133 223 2153 230 2192 221 2156 248 2156 210 2158 210 2137 229 2158 215 2143 223 2142 233 2155 208 2164 211 2185 204 2153 228 2193 229 2147 211 2170 224 2175 227 2195 210 2169 232 2195 235 2189 219 2172 214 2186 234 2153 227 2175 241 2155 235 2158 228 2190 250 2193 232 2175 243 2213 246 2198 253 2153 235 2159 243 2168 251 2186 233 2175 245 2188 246 2187 239 2213 259 2196 241 2206 262 2174 264 2190 262 2216 252 2208 243 2167 239 2188 253 2163 238 2180 253 2198 247 2172 253 2198 256 2177 250 2197 256 2186 242 2191 245 2232 245 2205 250 2187 237 2182 250 2208 257 2149 256 2202 246 2199 242 2205 254 2156 252 2171 253 2205 251 2154 265 2175 244 2188 261 2166 247 2156 252 2166 254 2178 272 2170 272 2203 278 2156 265 2159 277 2150 263 2193 258 2165 278 2168 283 2168 271 2151 266 2149 263 2168 288 2173 277 2165 281 2149 289 2184 277 2170 269 2208 289 2186 285 2151 272 2154 273 2167 278 2156 255 2197 268 2162 272 2147 280 2163 258 2182 266 2174 271 2184 269 2168 278 2193 261 2157 256 2195 258 2174 263 2179 277 2145 278 2185 264 2131 258 2176 287 2159 265 2183 281 2171 278 2145 269 2139 275 2153 283 2132 271 2131 276 2138 290 2182 293 2128 276 2164 289 2171 298 2168 288 2173 306 2183 297 2156 282 2161 302 2171 291 2149 286 2125 301 2173 308 2137 291 2189 289 2147 293 2132 307 2148 295 2182 302 2163 314 2127 295 2156 311 2120 303 2158 326 2167 322 2165 314 2126 324 2144 329 2155 327 2158 326 2127 312 2126 316 2115 316 2137 318 2136 317 2156 306 2131 311 2113 309 2152 317 2146 331 2111 307 2131 315 2130 324 2168 313 2121 321 2152 328 2149 329 2164 332 2107 315 2161 318 2132 310 2097 338 2142 311 2118 329 2115 312 2112 336 2125 321 2140 341 2111 317 2121 321 2106 334 2128 341 2144 316 2148 338 2104 322 2127 321 2131 340 2137 347 2140 324 2122 353 2130 336 2141 328 2153 336 2154 333 2122 334 2139 337 2155 334 2159 330 2162 338 2148 330 2124 342 2123 337 2132 327 2112 332 2128 344 2107 341 2145 333 2111 333 2127 344 2115 336 2101 342 2153 340 2122 346 2127 336 2127 347 2134 331 2158 344 2152 359 2160 357 2139 361 2114 350 2104 349 2114 338 2100 349 2107 348 2114 351 2155 343 2131 348 2109 366 2156 360 2143 362 2124 344 2109 370 2148 363 2145 365 2148 362 2127 376 2157 364 2122 369 2138 367 2117 380 2125 378 2083 368 2150 364 2131 379 2131 367 2141 371 2103 387 2146 382 2130 375 2117 395 2124 374 2102 389 2143 376 2132 376 2135 364 2145 374 2144 382 2142 411 2112 379 2147 377 2097 381 2108 402 2100 383 2127 402 2149 375 2116 401 2106 377 2091 398 2138 395 2089 390 2108 377 2146 380 2092 368 2092 374 2147 384 2118 388 2111 384 2104 367 2150 375 2145 372 2130 371 2118 395 2104 392 2086 392 2140 373 2104 372 2121 397 2110 376 2131 388 2100 391 2095 401 2122 387 2078 384 2093 395 2136 402 2134 400 2081 377 2095 392 2137 384 2101 393 2110 374 2081 396 2126 390 2125 390 2100 391 2110 392 2116 393 2133 391 2083 379 2076 402 2095 386 2077 409 2130 410 2105 408 2108 414 2091 407 2121 419 2097 410 2122 416 2104 395 2124 399 2124 397 2098 416 2080 415 2123 423 2075 403 2088 409 2113 423 2099 416 2079 412 2081 432 2119 414 2090 435 2089 435 2116 431 2106 431 2067 415 2070 430 2105 415 2064 429 2060 429 2065 433 2064 408 2090 434 2080 424 2094 435 2105 413 2067 416 2073 419 2068 422 2070 432 2080 428 2050 431 2091 444 2102 415 2043 438 2028 427 2042 429 2043 425 2061 415 2076 437 2088 421 2072 420 2057 449 2066 434 2040 436 2060 423 2059 438 2088 448 2047 432 2078 449 2081 452 2062 454 2092 455 2089 429 2051 439 2042 431 2056 457 2075 453 2040 419 2043 448 2056 424 2028 426 2056 435 2032 423 2050 425 2056 443 2042 443 2045 427 2045 451 2078 445 2071 448 2061 436 2073 449 2019 467 2038 454 2030 462 2068 463 2066 455 2027 457 2068 453 2062 458 2058 477 2016 469 2069 468 2038 453 2021 470 2026 466 2008 478 2033 465 2062 465 2046 456 2037 479 2016 454 2060 457 2004 458 2055 481 1998 469 2045 481 2001 471 2043 472 2058 457 2056 459 2019 465 2032 476 2021 459 2007 466 2046 485 2055 472 2014 475 2019 472 2024 479 1994 464 2002 469 2032 492 2002 471 2011 492 2022 485 2025 497 2041 495 2047 483 2044 500 2041 493 2040 483 2034 492 2028 477 1996 502 2031 475 2042 479 2010 492 1999 496 2041 501 2033 491 2015 486 1993 503 2036 477 2004 486 2023 498 2000 475 2040 483 2019 494 2045 508 2037 493 2042 491 1992 516 1974 501 2016 508 1994 515 1991 501 2015 488 2032 506 2013 514 1991 518 2013 501 2000 519 2048 499 2030 513 2015 504 2004 504 2023 507 2019 496 2034 506 2019 510 1999 503 2004 505 2003 518 2034 514 2026 504 2000 536 1994 519 2020 503 2017 529 2023 531 2009 518 2005 528 1999 526 2003 515 1989 497 1988 510 1995 520 2033 522 1979 515 2010 525 2035 527 2025 532 2030 520 1999 521 2040 524 2007 516 2030 511 1988 509 1997 518 2023 538 2008 531 2011 516 1996 510 1992 529 2008 514 2000 507 2001 516 2014 535 1998 524 2017 531 1997 520 2038 522 2004 522 1989 534 1984 536 2005 539 2002 541 2030 515 2037 522 2004 512 2026 522 1991 524 2023 528 2009 523 2008 537 2030 529 2003 526 2001 542 2049 531 2027 519 2013 526 1982 546 2005 523 2000 535 1981 534 2016 519 2012 531 1992 548 2005 526 1990 546 1999 532 2028 540 1979 556 2032 547 2024 551 2026 545 1988 546 1992 553 1993 540 1997 564 2003 557 1978 549 2022 544 2016 544 1981 566 2031 548 2029 543 2013 555 1988 572 2018 549 1996 569 1990 573 2023 557 2025 567 2021 574 1965 579 2017 555 2025 583 2018 571 1970 567 1979 588 1993 579 1971 576 2005 574 2028 570 1980 596 2025 568 1991 573 1995 578 1989 576 2026 566 2023 586 1982 590 2009 590 2014 573 1971 568 1989 580 1992 584 1982 566 1967 570 2004 578 1973 594 2009 571 2019 586 2014 585 1978 580 2025 578 1974 591 1999 576 1986 599 2012 589 1953 601 1977 583 1984 574 2015 575 1965 573 1987 582 1995 577 2017 588 1984 597 2018 569 1986 583 1991 581 1965 576 1981 572 1972 582 2013 590 1966 576 2012 585 1957 587 1963 593 1959 599 1978 585 2018 598 1976 604 1993 583 1983 583 1983 605 2015 604 1970 600 1961 610 1983 606 1990 587 1997 605 1999 603 1974 584 1953 585 1969 602 1998 591 1976 606 1978 602 1977 621 2009 614 1971 604 1984 619 2011 601 1999 620 1965 618 1953 625 2012 603 1999 620 2001 627 1993 605 1962 616 1987 599 1976 608 1981 605 1963 600 1950 623 2005 624 1983 608 1954 610 1965 623 1969 602 1996 625 1949 617 1956 638 1957 608 1955 629 1986 616 1996 634 1986 613 1945 618 1989 629 1997 614 1937 632 1969 635 1971 616 1993 642 1950 622 1949 633 1985 632 1946 629 1931 640 1944 613 1963 621 1992 634 1957 647 1956 635 1941 633 1929 635 1952 638 1930 622 1967 648 1951 635 1971 629 1991 644 1938 632 1961 633 1960 634 1930 650 1947 643 1982 646 1926 648 1978 648 1979 632 1942 647 1976 654 1935 657 1975 646 1977 652 1958 650 1957 658 1937 662 1941 643 1942 660 1954 645 1936 639 1930 647 1952 669 1972 667 1936 676 1915 677 1938 662 1959 663 1946 650 1926 669 1930 676 1913 649 1925 661 1918 674 1922 658 1896 677 1955 656 1922 656 1913 656 1906 681 1911 679 1948 670 1959 666 1908 685 1954 680 1918 683 1913 666 1957 662 1895 669 1926 689 1934 684 1938 682 1950 672 1937 674 1940 674 1909 673 1947 665 1893 676 1942 690 1888 670 1898 674 1927 672 1940 700 1912 699 1917 679 1893 696 1888 699 1923 692 1890 693 1895 690 1926 707 1937 697 1937 689 1898 686 1941 694 1897 694 1905 687 1911 684 1916 691 1920 682 1898 696 1892 704 1931 707 1895 704 1927 688 1896 708 1911 696 1917 700 1917 692 1915 709 1939 704 1917 702 1887 724 1913 698 1905 720 1932 710 1880 706 1935 707 1935 712 1932 713 1917 731 1914 714 1872 712 1896 726 1892 717 1929 718 1902 726 1905 703 1920 723 1887 694 1852 694 1897 716 1924 715 1873 695 1913 708 1910 717 1932 687 1925 712 1879 715 1874 723 1867 702 1903 718 1886 717 1869 716 1901 721 1865 709 1890 710 1870 732 1876 710 1909 736 1891 710 1886 717 1916 727 1924 717 1891 733 1891 741 1892 739 1887 729 1892 718 1892 741 1868 731 1908 735 1894 738 1902 726 1894 730 1866 725 1862 730 1869 735 1919 731 1864 740 1863 733 1894 735 1906 746 1923 745 1905 737 1883 722 1864 746 1901 749 1893 737 1906 733 1908 740 1872 741 1920 745 1912 741 1926 747 1895 754 1906 739 1884 742 1899 733 1890 756 1908 743 1925 748 1868 745 1882 758 1887 772 1882 764 1889 751 1929 772 1903 764 1882 763 1924 760 1896 769 1921 769 1920 771 1921 751 1866 773 1928 758 1918 754 1928 765 1880 752 1881 763 1927 755 1893 776 1878 757 1866 760 1913 746 1896 749 1906 758 1876 772 1892 744 1919 762 1865 766 1882 771 1928 746 1914 763 1919 762 1892 768 1875 754 1890 772 1899 765 1918 755 1924 767 1924 764 1926 762 1873 768 1866 778 1938 760 1908 784 1926 774 1875 774 1887 773 1914 783 1879 777 1897 761 1876 762 1882 773 1881 781 1870 773 1864 782 1900 775 1921 792 1924 794 1924 795 1855 788 1884 794 1920 773 1892 771 1886 788 1906 800 1889 782 1872 800 1884 786 1902 802 1898 803 1891 794 1883 794 1884 799 1901 803 1895 789 1905 790 1894 796 1874 800 1906 795 1873 791 1917 790 1891 804 1875 788 1895 794 1913 792 1925 815 1889 821 1905 804 1868 813 1925 824 1915 818 1875 801 1894 808 1887 825 1867 815 1866 825 1885 814 1917 833 1914 822 1867 823 1892 827 1876 831 1922 836 1877 838 1911 823 1907 821 1880 839 1882 821 1901 819 1860 817 1912 818 1919 839 1885 836 1894 845 1911 835 1907 833 1892 828 1870 845 1905 845 1897 824 1899 838 1876 838 1915 850 1866 849 1911 842 1908 819 1871 826 1880 824 1857 847 1898 824 1879 832 1842 821 1919 839 1901 841 1876 844 1865 851 1889 833 1893 852 1870 852 1908 854 1904 857 1861 849 1870 836 1886 856 1848 847 1895 859 1902 862 1888 858 1848 850 1847 872 1898 869 1858 856 1872 871 1892 859 1893 847 1916 851 1882 869 1862 857 1881 855 1845 857 1896 856 1860 871 1854 879 1904 866 1883 867 1874 871 1873 883 1902 874 1851 878 1898 879 1866 873 1858 855 1864 863 1872 854 1886 873 1869 859 1893 869 1869 864 1877 853 1902 857 1889 883 1903 860 1862 867 1878 862 1890 871 1893 882 1849 862 1890 866 1858 860 1840 870 1845 880 1864 870 1863 869 1857 878 1901 897 1861 895 1870 871 1902 888 1900 871 1871 907 1878 899 1855 899 1857 885 1847 880 1855 905 1882 889 1898 885 1858 887 1891 915 1867 906 1906 908 1866 904 1855 902 1868 904 1900 915 1853 895 1861 920 1870 910 1875 919 1847 903 1885 926 1849 923 1904 927 1881 919 1864 898 1895 928 1893 908 1859 923 1846 897 1893 918 1851 899 1872 893 1851 919 1853 913 1843 915 1897 898 1869 899 1858 918 1870 923 1901 920 1839 933 1886 915 1839 935 1859 937 1872 934 1838 936 1834 921 1874 910 1842 922 1894 907 1842 917 1881 923 1862 909 1875 911 1882 917 1836 911 1887 934 1836 908 1856 936 1843 916 1846 907 1851 909 1880 935 1863 924 1882 921 1821 917 1855 921 1819 927 1843 925 1840 910 1823 924 1826 934 1829 904 1853 921 1830 910 1834 940 1826 920 1829 924 1843 930 1823 914 1853 944 1838 925 1850 919 1834 934 1830 932 1869 933 1868 934 1808 933 1865 939 1864 929 1806 934 1854 914 1827 941 1819 941 1854 929 1828 943 1841 936 1840 943 1820 930 1840 942 1822 925 1825 934 1820 948 1818 933 1798 935 1803 945 1833 957 1846 934 1855 930 1802 932 1815 944 1815 942 1861 934 1816 946 1820 959 1841 941 1799 968 1825 942 1820 969 1798 953 1816 950 1823 980 1819 979 1825 983 1832 988 1855 977 1835 990 1849 978 1838 992 1833 964 1852 963 1814 960 1836 964 1834 950 1855 978 1802 981 1851 977 1834 972 1807 984 1795 978 1803 957 1834 959 1806 980 1796 964 1826 976 1826 968 1812 965 1837 971 1850 987 1798 971 1778 978 1797 984 1807 980 1854 975 1800 997 1798 1000 1832 992 1804 969 1810 981 1852 968 1837 991 1836 971 1835 969 1776 977 1822 969 1822 965 1839 976 1863 965 1793 975 1786 962 1822 981 1799 971 1825 976 1785 981 1831 998 1844 1005 1845 1007 1836 998 1795 988 1814 986 1817 985 1796 983 1783 1008 1791 986 1852 982 1806 987 1827 986 1807 1018 1823 998 1812 984 1820 1011 1831 982 1784 994 1789 990 1779 998 1833 1003 1835 989 1807 1013 1838 1010 1836 1014 1818 1006 1777 1017 1830 1024 1801 1021 1796 1002 1805 1014 1851 1014 1813 1014 1798 1018 1834 1027 1789 1024 1821 1031 1782 1032 1786 1019 1784 1034 1813 1034 1810 1049 1832 1041 1797 1050 1799 1051 1818 1036 1830 1028 1772 1041 1817 1047 1813 1048 1825 1035 1844 1034 1790 1030 1784 1033 1781 1050 1772 1051 1771 1028 1763 1038 1827 1033 1786 1032 1790 1036 1838 1032 1771 1037 1813 1054 1814 1032 1767 1027 1830 1032 1822 1026 1770 1052 1816 1056 1823 1036 1821 1029 1767 1037 1793 1050 1810 1042 1792 1059 1769 1040 1769 1045 1801 1062 1780 1065 1786 1066 1817 1051 1817 1045 1761 1052 1813 1054 1770 1048 1814 1071 1764 1056 1780 1046 1801 1042 1786 1064 1812 1052 1762 1048 1762 1064 1799 1049 1783 1065 1793 1044 1756 1052 1800 1048 1761 1069 1775 1058 1794 1051 1778 1050 1803 1054 1742 1067 1795 1076 1797 1048 1740 1065 1748 1051 1745 1062 1781 1064 1738 1075 1763 1072 1738 1080 1784 1062 1780 1069 1769 1055 1788 1050 1787 1065 1772 1059 1738 1075 1736 1075 1740 1053 1771 1060 1752 1071 1776 1078 1731 1075 1785 1075 1743 1065 1757 1054 1780 1091 1736 1071 1732 1069 1729 1068 1753 1081 1744 1082 1772 1090 1736 1078 1744 1091 1750 1067 1780 1084 1751 1081 1774 1099 1752 1087 1744 1089 1773 1101 1746 1097 1774 1079 1736 1105 1774 1083 1752 1109 1724 1083 1714 1102 1728 1102 1755 1108 1728 1082 1731 1109 1774 1090 1733 1085 1749 1105 1757 1105 1737 1102 1717 1092 1779 1093 1721 1102 1727 1090 1724 1086 1741 1071 1772 1086 1728 1068 1733 1096 1738 1097 1744 1084 1719 1075 1748 1097 1759 1089 1768 1106 1751 1108 1769 1080 1756 1106 1708 1082 1710 1087 1725 1107 1753 1100 1757 1094 1754 1086 1734 1109 1729 1087 1709 1088 1751 1109 1734 1111 1732 1094 1714 1114 1730 1109 1704 1125 1730 1120 1745 1113 1712 1102 1745 1105 1717 1109 1731 1105 1747 1123 1758 1120 1763 1137 1731 1112 1737 1123 1706 1120 1724 1116 1725 1120 1717 1109 1756 1133 1761 1110 1751 1131 1743 1122 1711 1131 1736 1122 1760 1115 1714 1121 1712 1108 1745 1099 1738 1099 1741 1119 1731 1125 1756 1105 1721 1115 1745 1117 1714 1126 1728 1134 1756 1136 1725 1113 1728 1146 1729 1125 1745 1134 1732 1148 1740 1135 1722 1127 1756 1152 1725 1145 1747 1127 1755 1130 1722 1136 1700 1139 1743 1129 1717 1151 1746 1148 1715 1131 1728 1153 1706 1135 1695 1136 1713 1139 1713 1126 1736 1139 1694 1142 1706 1130 1728 1146 1707 1127 1722 1124 1697 1144 1740 1128 1714 1144 1724 1125 1724 1149 1754 1125 1712 1125 1748 1152 1698 1151 1712 1128 1740 1140 1693 1158 1697 1152 1725 1137 1718 1163 1718 1162 1725 1148 1724 1152 1734 1166 1725 1171 1693 1163 1730 1152 1745 1182 1729 1174 1692 1159 1751 1174 1735 1178 1710 1159 1719 1178 1737 1189 1742 1172 1710 1181 1732 1165 1739 1176 1733 1192 1731 1182 1727 1165 1719 1172 1753 1181 1742 1160 1703 1161 1720 1184 1684 1158 1752 1164 1724 1163 1733 1165 1689 1169 1685 1184 1706 1164 1715 1169 1713 1187 1718 1183 1683 1168 1686 1204 1702 1185 1695 1189 1694 1180 1722 1194 1687 1206 1693 1209 1742 1186 1703 1188 1692 1189 1692 1192 1712 1206 1718 1201 1667 1210 1686 1196 1692 1204 1704 1188 1707 1213 1733 1201 1681 1203 1725 1216 1706 1188 1701 1196 1720 1200 1713 1208 1686 1204 1726 1217 1721 1200 1698 1215 1722 1193 1724 1206 1704 1220 1725 1212 1681 1205 1676 1235 1730 1230 1727 1206 1675 1221 1676 1213 1733 1212 1683 1239 1699 1228 1679 1231 1672 1237 1730 1229 1680 1235 1704 1225 1733 1220 1721 1227 1681 1225 1683 1241 1730 1223 1706 1226 1714 1238 1703 1212 1721 1240 1654 1239 1674 1214 1692 1212 1668 1229 1661 1234 1696 1209 1695 1206 1680 1232 1700 1220 1716 1230 1713 1225 1676 1240 1717 1240 1690 1243 1668 1247 1717 1239 1710 1239 1706 1255 1661 1263 1705 1257 1721 1234 1664 1235 1714 1249 1673 1240 1691 1240 1688 1245 1695 1237 1689 1252 1700 1262 1697 1241 1702 1250 1685 1239 1667 1260 1660 1241 1697 1259 1711 1261 1687 1256 1701 1249 1676 1256 1701 1267 1703 1264 1703 1249 1709 1247 1704 1256 1664 1272 1658 1261 1677 1275 1684 1260 1667 1259 1667 1271 1685 1267 1655 1265 1714 1274 1660 1276 1671 1250 1665 1249 1661 1267 1647 1257 1657 1249 1683 1272 1705 1258 1699 1257 1680 1281 1708 1254 1665 1256 1649 1252 1665 1283 1668 1253 1688 1269 1648 1262 1675 1268 1661 1266 1656 1260 1671 1273 1672 1258 1648 1278 1680 1276 1678 1270 1690 1258 1661 1275 1644 1274 1707 1264 1686 1271 1669 1245 1667 1272 1646 1276 1700 1271 1692 1253 1684 1273 1685 1264 1646 1252 1698 1260 1675 1265 1659 1269 1647 1272 1650 1264 1692 1261 1682 1261 1696 1267 1659 1258 1688 1285 1639 1269 1664 1268 1696 1271 1655 1277 1651 1289 1638 1282 1680 1286 1689 1297 1671 1299 1657 1293 1666 1297 1644 1306 1644 1295 1665 1303 1669 1296 1691 1274 1689 1293 1673 1282 1630 1272 1660 1286 1638 1303 1671 1293 1628 1291 1687 1300 1622 1304 1663 1299 1672 1309 1648 1293 1651 1288 1682 1318 1661 1317 1685 1306 1683 1305 1662 1320 1637 1303 1621 1309 1667 1293 1682 1306 1642 1293 1620 1321 1647 1319 1636 1310 1633 1321 1644 1299 1674 1311 1626 1321 1628 1295 1619 1305 1638 1311 1658 1306 1659 1300 1641 1309 1626 1307 1649 1316 1657 1313 1649 1307 1627 1317 1644 1312 1609 1298 1618 1296 1606 1317 1632 1317 1662 1293 1605 1302 1618 1292 1612 1321 1650 1311 1604 1315 1621 1317 1643 1312 1651 1313 1639 1320 1614 1297 1647 1308 1645 1304 1649 1313 1659 1306 1603 1326 1655 1304 1603 1310 1614 1329 1599 1310 1606 1335 1634 1334 1640 1326 1606 1316 1627 1328 1601 1326 1640 1331 1619 1342 1620 1327 1611 1330 1634 1328 1627 1327 1637 1339 1643 1327 1608 1351 1619 1337 1596 1328 1626 1340 1624 1353 1631 1321 1620 1314 1621 1335 1613 1348 1595 1332 1623 1341 1619 1319 1582 1344 1640 1332 1599 1348 1584 1329 1588 1346 1609 1324 1580 1349 1624 1355 1598 1354 1626 1341 1628 1355 1631 1343 1599 1359 1603 1364 1641 1363 1632 1361 1586 1369 1605 1369 1640 1346 1630 1371 1599 1357 1583 1357 1632 1342 1578 1347 1619 1341 1606 1344 1628 1340 1631 1340 1619 1360 1598 1354 1603 1362 1579 1349 1600 1359 1630 1351 1605 1345 1634 1352 1591 1351 1593 1344 1602 1348 1596 1374 1585 1363 1624 1372 1616 1377 1576 1355 1605 1361 1580 1369 1613 1371 1610 1375 1578 1351 1609 1359 1585 1375 1616 1373 1572 1362 1592 1373 1629 1356 1613 1351 1578 1355 1585 1358 1603 1372 1605 1376 1579 1345 1568 1354 1617 1362 1592 1380 1566 1365 1589 1370 1571 1358 1582 1358 1566 1366 1562 1372 1606 1371 1574 1358 1572 1373 1582 1367 1561 1378 1576 1375 1574 1380 1578 1360 1585 1374 1589 1386 1555 1390 1547 1378 1584 1373 1547 1392 1575 1384 1591 1390 1560 1369 1578 1373 1573 1377 1543 1376 1571 1396 1578 1384 1597 1387 1583 1375 1564 1392 1535 1381 1585 1386 1555 1397 1589 1389 1551 1381 1536 1370 1546 1391 1575 1393 1582 1385 1541 1394 1595 1400 1550 1407 1560 1400 1535 1402 1573 1401 1586 1383 1580 1403 1547 1391 1534 1384 1578 1411 1526 1412 1544 1415 1560 1390 1527 1403 1536 1396 1529 1395 1576 1418 1567 1409 1537 1397 1554 1398 1572 1398 1569 1412 1513 1426 1567 1405 1571 1417 1522 1427 1525 1398 1549 1395 1527 1415 1544 1412 1547 1413 1574 1398 1533 1403 1553 1420 1540 1429 1504 1406 1515 1413 1551 1430 1548 1417 1559 1406 1543 1413 1543 1429 1523 1426 1552 1410 1558 1408 1522 1403 1508 1414 1515 1417 1500 1429 1558 1431 1541 1410 1535 1406 1530 1407 1523 1408 1501 1438 1512 1413 1529 1426 1557 1431 1548 1442 1547 1422 1540 1414 1553 1423 1487 1419 1514 1439 1552 1430 1535 1423 1517 1442 1504 1424 1515 1411 1512 1418 1527 1421 1538 1414 1546 1433 1519 1433 1515 1420 1545 1421 1533 1424 1547 1434 1517 1434 1525 1443 1504 1434 1494 1412 1541 1417 1494 1427 1530 1413 1495 1409 1488 1430 1485 1411 1521 1426 1527 1416 1504 1420 1517 1431 1520 1403 1487 1404 1519 1415 1537 1398 1501 1417 1497 1430 1523 1429 1478 1428 1512 1434 1487 1418 1526 1410 1532 1436 1521 1431 1528 1414 1529 1421 1517 1431 1514 1419 1505 1434 1513 1412 1527 1436 1494 1415 1494 1430 1514 1440 1513 1430 1506 1439 1504 1432 1520 1453 1480 1439 1512 1432 1486 1427 1492 1448 1477 1433 1517 1446 1512 1429 1461 1428 1504 1445 1473 1431 1484 1451 1455 1427 1507 1446 1458 1438 1463 1437 1478 1432 1462 1428 1471 1427 1447 1442 1449 1443 1492 1447 1505 1445 1473 1442 1481 1425 1496 1456 1483 1433 1503 1432 1457 1440 1480 1437 1447 1438 1464 1431 1468 1446 1456 1445 1473 1431 1460 1444 1444 1444 1485 1454 1443 1441 1480 1449 1435 1439 1456 1441 1471 1456 1465 1432 1441 1450 1449 1433 1463 1439 1429 1462 1464 1445 1436 1435 1435 1454 1475 1437 1427 1457 1456 1456 1481 1467 1457 1454 1474 1467 1485 1464 1430 1447 1477 1452 1497 1447 1483 1465 1465 1446 1441 1448 1423 1461 1449 1452 1464 1459 1430 1446 1469 1462 1438 1442 1487 1467 1431 1439 1403 1446 1456 1455 1463 1441 1455 1447 1409 1450 1430 1452 1440 1461 1434 1465 1402 1447 1408 1451 1414 1442 1425 1443 1436 1455 1437 1446 1431 1445 1460 1436 1410 1449 1391 1464 1447 1444 1404 1455 1406 1459 1445 1436 1431 1432 1407 1441 1433 1446 1415 1427 1400 1444 1446 1439 1405 1441 1432 1445 1449 1441 1424 1435 1405 1443 1423 1452 1428 1432 1440 1435 1392 1448 1385 1446 1406 1433 1386 1443 1433 1461 1384 1458 1444 1445 1431 1457 1389 1452 1382 1437 1429 1437 1404 1457 1386 1438 1413 1437 1370 1461 1430 1459 1403 1462 1428 1465 1414 1459 1381 1439 1382 1462 1431 1442 1356 1450 1378 1435 1426 1457 1373 1433 1427 1460 1418 1429 1403 1435 1404 1438 1424 1440 1414 1456 1412 1445 1391 1451 1407 1461 1415 1454 1420 1454 1380 1455 1372 1432 1422 1469 1364 1464 1399 1455 1401 1456 1392 1453 1417 1467 1371 1454 1383 1453 1364 1451 1400 1450 1376 1448 1399 1467 1414 1469 1377 1469 1362 1445 1376 1450 1378 1444 1380 1452 1397 1461 1347 1438 1362 1439 1346 1461 1407 1452 1357 1458 1368 1461 1350 1461 1391 1463 1355 1446 1344 1450 1349 1448 1338 1449 1350 1454 1345 1462 1350 1462 1365 1460 1352 1468 1382 1473 1373 1452 1374 1459 1332 1449 1386 1463 1350 1455 1333 1445 1363 1440 1381 1443 1323 1464 1329 1459 1322 1460 1358 1443 1350 1462 1377 1449 1369 1450 1320 1453 1340 1464 1323 1474 1365 1458 1328 1463 1333 1475 1362 1475 1331 1466 1354 1470 1310 1474 1334 1476 1361 1462 1332 1477 1322 1484 1322 1472 1339 1461 1303 1477 1333 1489 1332 1488 1324 1487 1355 1481 1310 1460 1297 1477 1343 1459 1358 1485 1313 1457 1322 1470 1311 1474 1341 1463 1294 1482 1321 1477 1297 1481 1300 1460 1300 1455 1340 1465 1305 1474 1289 1469 1283 1461 1336 1464 1306 1490 1279 1471 1290 1489 1313 1501 1292 1484 1328 1487 1282 1481 1290 1493 1286 1505 1283 1486 1300 1494 1295 1483 1320 1483 1300 1482 1325 1506 1300 1483 1327 1491 1273 1491 1290 1483 1315 1487 1319 1482 1321 1477 1316 1483 1319 1487 1295 1484 1277 1491 1300 1476 1264 1483 1299 1470 1287 1497 1282 1489 1302 1465 1301 1478 1277 1472 1306 1468 1289 1476 1273 1464 1310 1478 1288 1462 1258 1492 1272 1470 1253 1473 1293 1476 1251 1467 1291 1481 1265 1471 1274 1485 1295 1467 1269 1469 1274 1486 1291 1477 1286 1474 1280 1484 1296 1469 1258 1487 1303 1486 1301 1475 1265 1486 1297 1498 1245 1492 1257 1493 1296 1505 1267 1506 1279 1483 1303 1487 1245 1505 1254 1506 1251 1507 1271 1482 1250 1503 1281 1492 1299 1485 1238 1490 1258 1478 1300 1507 1288 1488 1252 1494 1274 1478 1276 1479 1273 1474 1245 1487 1284 1477 1276 1491 1267 1479 1230 1490 1289 1477 1293 1502 1280 1487 1247 1488 1246 1480 1276 1496 1276 1481 1266 1501 1283 1480 1275 1511 1237 1492 1266 1515 1233 1499 1280 1505 1289 1496 1242 1515 1227 1492 1269 1487 1258 1493 1236 1507 1248 1505 1275 1507 1218 1491 1281 1509 1277 1484 1249 1502 1270 1505 1247 1502 1241 1483 1246 1495 1228 1504 1231 1501 1268 1509 1260 1495 1261 1516 1227 1515 1213 1493 1222 1498 1208 1502 1222 1498 1261 1494 1262 1491 1227 1504 1214 1495 1260 1511 1240 1509 1206 1503 1238 1493 1249 1483 1232 1501 1257 1505 1252 1494 1237 1491 1250 1501 1201 1489 1230 1485 1249 1497 1225 1502 1215 1489 1243 1510 1214 1509 1226 1491 1216 1494 1218 1507 1194 1488 1235 1485 1241 1513 1210 1505 1224 1504 1202 1512 1224 1515 1189 1495 1224 1502 1240 1511 1215 1511 1216 1495 1219 1492 1227 1488 1220 1479 1229 1500 1230 1492 1221 1498 1231 1502 1207 1480 1177 1497 1237 1500 1207 1499 1190 1491 1214 1492 1195 1492 1234 1507 1207 1493 1226 1498 1189 1486 1217 1486 1181 1507 1237 1506 1189 1494 1173 1489 1206 1504 1203 1492 1226 1505 1182 1509 1177 1509 1180 1486 1196 1506 1196 1494 1208 1493 1226 1507 1182 1484 1224 1507 1230 1496 1169 1496 1177 1509 1229 1491 1226 1502 1167 1504 1228 1502 1189 1484 1209 1509 1168 1515 1210 1513 1206 1516 1195 1508 1188 1509 1211 1508 1160 1502 1160 1508 1209 1499 1184 1526 1195 1525 1196 1500 1183 1522 1206 1515 1182 1505 1186 1502 1206 1507 1191 1514 1230 1495 1151 1507 1157 1512 1195 1509 1205 1509 1209 1516 1169 1509 1208 1523 1154 1507 1147 1503 1192 1522 1196 1520 1176 1505 1171 1521 1183 1514 1140 1516 1198 1514 1174 1506 1199 1526 1183 1525 1171 1526 1188 1507 1185 1503 1193 1500 1168 1517 1169 1497 1144 1520 1191 1493 1194 1496 1165 1516 1192 1516 1143 1507 1141 1509 1132 1504 1157 1500 1127 1496 1177 1516 1173 1517 1161 1518 1123 1499 1145 1514 1137 1504 1141 1512 1168 1495 1141 1494 1139 1518 1180 1510 1171 1497 1133 1494 1135 1494 1160 1493 1171 1501 1134 1489 1130 1513 1142 1508 1158 1513 1116 1516 1168 1492 1142 1488 1149 1499 1154 1504 1163 1491 1168 1492 1168 1504 1143 1491 1137 1501 1107 1508 1150 1499 1125 1486 1116 1473 1141 1495 1102 1496 1135 1491 1157 1499 1108 1483 1111 1499 1121 1501 1132 1492 1116 1514 1114 1507 1138 1515 1114 1495 1110 1496 1123 1489 1098 1500 1093 1486 1138 1506 1109 1476 1142 1486 1104 1504 1104 1490 1143 1507 1097 1496 1080 1496 1077 1490 1128 1510 1084 1497 1083 1484 1089 1496 1128 1492 1092 1482 1071 1497 1074 1512 1106 1513 1068 1495 1081 1516 1074 1494 1078 1497 1116 1509 1122 1498 1077 1503 1086 1517 1098 1494 1067 1516 1077 1508 1105 1519 1083 1517 1078 1499 1091 1498 1084 1516 1109 1498 1096 1513 1081 1513 1077 1494 1060 1500 1095 1485 1058 1514 1034 1511 1057 1514 1088 1488 1074 1485 1068 1495 1085 1509 1048 1476 1057 1513 1052 1487 1046 1497 1063 1487 1083 1494 1103 1496 1103 1498 1040 1504 1093 1497 1100 1514 1059 1493 1088 1519 1071 1520 1053 1508 1082 1516 1086 1499 1064 1500 1055 1496 1060 1518 1087 1521 1064 1495 1061 1501 1079 1504 1076 1521 1094 1518 1073 1504 1092 1509 1083 1511 1073 1517 1070 1495 1031 1491 1049 1523 1030 1515 1054 1493 1075 1504 1060 1499 1067 1501 1064 1483 1035 1486 1085 1507 1047 1487 1035 1487 1025 1488 1055 1496 1074 1488 1049 1495 1026 1493 1075 1512 1033 1514 1054 1488 1024 1503 1047 1503 1033 1511 1055 1504 1015 1511 1016 1489 1012 1502 1061 1496 1017 1509 1073 1491 1021 1507 1019 1504 1029 1492 1060 1496 1029 1487 1024 1486 1005 1513 1021 1496 1025 1513 1019 1509 1041 1502 1032 1496 1002 1501 1036 1512 1051 1496 995 1506 1042 1492 1050 1492 1034 1502 978 1495 1009 1488 997 1508 1017 1507 1006 1495 997 1514 1048 1506 1041 1496 1000 1489 1019 1498 985 1502 1032 1505 1029 1493 992 1520 1022 1500 1003 1525 1011 1506 1033 1518 996 1517 1012 1530 978 1506 1012 1523 1034 1509 977 1504 979 1531 1031 1506 975 1515 983 1504 970 1500 968 1496 1029 1493 1019 1514 1008 1490 1012 1496 1019 1506 1002 1507 976 1487 975 1494 1020 1513 976 1513 994 1505 1016 1496 983 1491 1007 1493 999 1504 1006 1503 982 1494 958 1505 961 1498 998 1500 964 1511 1011 1495 1004 1487 956 1491 982 1485 1013 1497 962 1517 988 1497 984 1494 987 1518 972 1514 969 1511 962 1506 989 1520 955 1521 982 1519 956 1518 1006 1505 960 1498 977 1501 971 1512 984 1497 987 1515 944 1496 966 1504 986 1490 992 1499 975 1498 990 1512 965 1483 952 1481 945 1508 988 1487 955 1489 991 1491 976 1504 945 1503 965 1494 986 1484 972 1483 982 1477 966 1478 982 1504 928 1503 981 1500 967 1501 963 1490 943 1502 957 1472 978 1472 935 1494 993 1484 964 1480 907 1482 971 1498 938 1476 970 1469 930 1490 957 1485 975 1494 940 1478 951 1488 956 1504 929 1485 945 1480 921 1490 934 1501 938 1481 934 1506 921 1486 923 1491 945 1493 950 1498 946 1477 960 1480 940 1502 917 1487 921 1496 957 1501 946 1474 934 1480 928 1498 917 1492 913 1494 959 1503 928 1476 938 1473 929 1494 916 1487 943 1500 923 1496 937 1502 960 1478 932 1482 892 1480 909 1483 905 1488 892 1494 935 1496 941 1498 929 1491 893 1494 922 1499 913 1500 944 1491 942 1493 932 1492 941 1483 898 1472 885 1496 939 1493 910 1490 942 1488 899 1483 913 1503 917 1481 893 1480 890 1489 927 1493 895 1500 902 1494 892 1497 926 1493 892 1499 938 1494 894 1486 932 1500 930 1503 924 1500 878 1508 873 1491 888 1497 896 1513 874 1501 875 1498 914 1491 904 1506 892 1505 888 1507 880 1516 914 1505 927 1501 895 1497 913 1515 917 1519 868 1519 889 1504 862 1481 887 1511 903 1483 897 1507 904 1484 905 1493 885 1479 899 1486 889 1492 911 1478 909 1493 887 1493 887 1503 862 1495 875 1496 867 1502 882 1497 898 1505 894 1509 866 1493 903 1502 844 1484 881 1501 892 1480 879 1502 887 1490 849 1495 840 1509 860 1496 842 1508 868 1509 880 1489 838 1504 877 1498 853 1491 832 1503 855 1496 824 1514 885 1495 828 1510 854 1508 824 1505 873 1491 824 1495 827 1503 828 1483 860 1515 831 1490 866 1484 869 1512 838 1492 849 1491 847 1485 865 1482 873 1511 812 1499 819 1498 810 1498 809 1510 833 1493 808 1486 861 1506 836 1500 821 1510 820 1483 836 1495 831 1504 811 1494 837 1513 825 1496 822 1478 842 1511 819 1508 810 1515 833 1487 859 1493 857 1516 816 1498 859 1515 842 1510 817 1498 847 1510 816 1512 825 1501 821 1511 819 1505 806 1509 811 1488 814 1505 813 1499 851 1512 833 1484 804 1510 846 1497 849 1476 839 1479 810 1503 818 1485 851 1486 819 1482 812 1487 797 1489 837 1505 798 1493 840 1484 804 1509 828 1508 822 1489 798 1505 841 1496 801 1500 842 1492 812 1504 803 1519 836 1499 800 1509 780 1506 828 1511 837 1524 789 1524 832 1516 793 1513 801 1517 831 1518 803 1529 776 1507 769 1505 820 1498 805 1504 787 1527 779 1499 795 1505 790 1524 817 1519 797 1510 779 1501 771 1519 765 1496 762 1497 809 1503 806 1492 763 1491 769 1495 794 1498 791 1494 780 1497 781 1497 770 1488 757 1508 761 1516 769 1485 786 1517 758 1522 774 1514 793 1513 750 1508 792 1511 756 1525 756 1511 756 1531 771 1517 804 1519 734 1521 754 1507 779 1505 758 1517 746 1507 802 1520 741 1508 759 1516 779 1501 794 1512 745 1528 754 1521 789 1521 795 1529 733 1527 737 1515 732 1526 785 1499 760 1511 773 1506 749 1512 770 1504 728 1514 760 1493 744 1497 757 1498 767 1492 767 1485 744 1492 763 1508 769 1514 766 1505 759 1502 763 1508 762 1511 726 1489 721 1515 764 1515 735 1511 717 1499 761 1517 735 1506 749 1511 765 1490 727 1491 734 1485 769 1489 746 1512 758 1486 710 1510 729 1487 761 1486 771 1489 730 1490 742 1483 764 1487 756 1493 716 1476 714 1490 730 1498 739 1486 763 1507 721 1486 723 1484 710 1499 728 1499 743 1504 741 1481 697 1496 741 1504 743 1490 751 1482 753 1486 710 1507 696 1506 691 1486 692 1499 715 1488 723 1496 697 1506 708 1494 730 1486 708 1501 694 1483 694 1488 703 1493 731 1487 735 1508 723 1504 703 1484 710 1508 741 1507 709 1487 676 1519 729 1514 681 1510 710 1488 708 1515 674 1501 688 1510 698 1502 687 1496 696 1500 697 1506 669 1487 685 1509 698 1498 722 1485 720 1483 701 1505 721 1491 654 1497 709 1491 715 1493 712 1508 688 1507 694 1498 668 1504 658 1504 683 1514 686 1511 702 1500 686 1493 656 1507 656 1491 680 1526 678 1489 665 1505 680 1516 675 1500 691 1503 662 1508 691 1518 653 1502 686 1518 668 1515 700 1508 691 1501 655 1506 668 1518 647 1496 707 1502 679 1519 668 1507 670 1517 681 1493 702 1517 695 1496 646 1488 666 1498 642 1487 702 1502 641 1490 685 1497 673 1507 663 1495 649 1493 691 1491 692 1500 677 1514 641 1497 653 1491 662 1490 649 1504 636 1501 665 1504 688 1502 658 1512 670 1486 656 1509 668 1502 657 1495 687 1495 677 1501 645 1519 649 1505 652 1491 615 1489 627 1519 682 1496 650 1490 604 1495 632 1496 644 1507 666 1513 645 1515 638 1486 670 1512 644 1505 648 1492 664 1485 637 1511 633 1500 653 1485 634 1485 615 1503 621 1508 636 1514 646 1491 610 1509 646 1491 642 1504 639 1505 622 1505 633 1496 604 1512 611 1505 619 1517 642 1505 625 1515 615 1498 618 1500 589 1496 639 1509 617 1499 599 1498 603 1502 595 1519 603 1519 580 1512 618 1510 603 1495 600 1487 599 1512 590 1504 623 1502 613 1482 614 1490 581 1506 628 1492 571 1497 596 1486 636 1501 592 1482 626 1502 609 1502 578 1485 630 1477 569 1500 616 1497 607 1505 576 1485 567 1484 593 1504 594 1504 564 1505 599 1504 612 1506 564 1495 618 1504 594 1485 587 1505 599 1500 569 1506 597 1494 566 1501 574 1500 580 1513 616 1494 574 1509 605 1504 614 1511 586 1493 613 1507 620 1494 606 1485 585 1489 591 1494 574 1483 580 1489 557 1502 586 1492 559 1504 604 1488 572 1501 573 1503 558 1503 601 1489 611 1476 609 1506 600 1482 611 1505 599 1486 583 1512 590 1502 594 1484 600 1498 568 1491 597 1493 579 1491 590 1513 568 1506 582 1511 595 1492 586 1484 579 1503 550 1501 545 1485 606 1497 537 1492 544 1505 586 1488 566 1476 603 1468 594 1474 563 1480 588 1492 570 1481 585 1474 566 1484 564 1484 551 1495 596 1481 585 1495 539 1482 591 1492 572 1489 532 1492 560 1486 592 1488 571 1506 565 1483 583 1510 583 1507 578 1511 549 1511 545 1495 540 1482 557 1496 536 1502 557 1497 590 1486 532 1495 543 1506 548 1495 540 1500 564 1493 531 1487 519 1488 538 1482 549 1499 550 1500 569 1495 522 1506 567 1502 515 1509 551 1493 530 1489 546 1500 565 1502 554 1498 501 1492 533 1511 549 1495 537 1505 552 1503 553 1482 557 1481 535 1484 495 1497 553 1492 532 1489 546 1492 550 1499 527 1483 542 1483 489 1496 513 1477 488 1489 521 1489 526 1497 529 1499 533 1494 521 1484 488 1483 488 1488 489 1488 485 1507 529 1484 516 1503 542 1499 509 1513 477 1493 536 1490 503 1504 488 1518 524 1514 504 1495 501 1503 489 1508 525 1512 487 1508 529 1515 478 1513 501 1511 491 1498 515 1494 473 1499 523 1506 479 1491 505 1488 469 1508 485 1488 525 1484 468 1499 473 1510 480 1498 492 1502 509 1512 500 1504 463 1515 497 1488 511 1493 500 1505 470 1500 480 1521 504 1498 495 1519 486 1504 495 1504 456 1498 480 1514 488 1495 516 1516 483 1514 503 1495 492 1507 503 1510 503 1487 498 1505 470 1517 507 1507 483 1490 480 1490 469 1517 472 1502 461 1497 486 1508 468 1494 452 1494 473 1490 458 1495 464 1492 442 1489 445 1485 511 1473 427 1482 474 1490 435 1485 477 1499 473 1493 481 1494 446 1474 458 1495 447 1485 490 1498 449 1485 476 1500 427 1491 446 1503 433 1516 464 1502 425 1511 424 1507 467 1517 478 1518 447 1504 452 1497 458 1497 435 1502 436 1517 447 1507 440 1515 419 1516 422 1517 431 1504 448 1514 464 1507 427 1501 437 1506 470 1509 435 1513 452 1506 468 1498 461 1496 416 1503 414 1506 427 1516 464 1512 447 1513 404 1520 422 1520 421 1497 446 1491 449 1485 398 1513 448 1488 401 1509 457 1504 415 1507 405 1478 398 1491 431 1504 415 1498 421 1486 440 1479 399 1487 422 1492 394 1504 432 1504 426 1510 368 1512 409 1508 417 1503 442 1500 441 1525 435 1525 402 1505 425 1528 437 1509 409 1503 405 1517 412 1518 387 1503 390 1494 417 1499 397 1492 416 1487 400 1487 379 1503 383 1497 420 1492 423 1503 402 1507 389 1483 416 1491 372 1490 422 1492 370 1497 412 1502 378 1485 370 1497 404 1511 393 1488 375 1506 364 1502 366 1502 383 1492 356 1487 390 1486 389 1499 369 1499 374 1485 410 1489 400 1510 353 1495 356 1506 402 1509 350 1478 404 1482 416 1487 346 1508 354 1492 394 1478 332 1474 391 1471 363 1491 377 1474 398 1498 363 1476 352 1501 363 1498 394 1501 380 1482 345 1495 388 1496 358 1511 336 1503 336 1500 381 1492 364 1492 342 1504 379 1496 337 1512 328 1513 337 1496 385 1511 366 1520 378 1512 351 1512 364 1501 367 1511 379 1513 347 1492 360 1505 379 1512 372 1507 379 1515 341 1501 323 1518 380 1521 330 1499 359 1509 361 1497 315 1509 361 1494 358 1511 330 1490 348 1508 333 1497 343 1498 367 1494 316 1491 310 1487 370 1491 312 1506 313 1478 307 1481 341 1503 345 1501 321 1501 321 1499 328 1475 344 1494 363 1495 329 1482 310 1500 300 1492 344 1499 326 1482 308 1503 337 1474 352 1487 298 1485 331 1489 349 1485 346 1502 307 1502 315 1477 338 1500 338 1490 319 1503 320 1481 307 1496 315 1487 307 1493 297 1489 292 1478 293 1493 302 1485 331 1510 311 1491 293 1490 324 1496 332 1507 293 1513 318 1512 305 1492 334 1522 315 1512 290 1512 335 1505 300 1502 322 1510 301 1526 282 1527 322 1531 281 1512 322 1531 336 1518 286 1531 310 1513 352 1511 332 1522 311 1536 306 1512 283 1523 314 1516 307 1506 277 1514 274 1523 306 1503 281 1514 307 1508 319 1511 285 1509 287 1509 286 1509 320 1498 282 1497 281 1490 309 1480 283 1509 314 1507 261 1485 306 1496 318 1487 279 1487 299 1520 311 1492 289 1513 264 1490 271 1510 277 1514 262 1521 255 1516 310 1504 275 1501 291 1518 254 1515 272 1517 265 1515 273 1521 298 1512 250 1531 263 1500 271 1509 266 1513 280 1531 283 1512 298 1531 262 1508 292 1528 280 1518 248 1511 280 1509 299 1523 281 1501 248 1514 279 1507 274 1510 271 1521 290 1514 294 1503 243 1514 242 1496 275 1502 242 1504 293 1499 245 1491 266 1508 275 1498 269 1506 258 1488 260 1508 235 1494 254 1499 227 1489 245 1518 270 1513 264 1517 239 1511 227 1520 225 1499 274 1488 266 1510 277 1521 263 1516 247 1502 270 1520 261 1504 262 1508 238 1523 250 1524 231 1497 240 1521 232 1529 229 1506 261 1521 246 1497 255 1506 225 1508 227 1490 220 1510 224 1490 198 1511 237 1498 225 1511 195 1487 196 1509 201 1497 244 1488 215 1496 215 1507 239 1502 252 1493 217 1501 193 1498 214 1502 202 1507 245 1486 234 1491 188 1495 241 1521 237 1504 198 1500 247 1515 191 1514 186 1523 218 1499 178 1514 211 1519 175 1508 160 1511 200 1501 210 1509 222 1507 196 1511 162 1494 175 1496 192 1490 183 1516 200 1518 174 1500 173 1516 222 1487 186 1495 194 1498 176 1506 215 1499 164 1509 217 1491 166 1478 213 1477 199 1482 201 1480 164 1498 186 1481 202 1489 170 1481 188 1500 184 1478 173 1490 154 1502 166 1495 152 1498 187 1501 150 1503 149 1502 201 1511 208 1495 145 1511 180 1502 154 1503 149 1503 203 1500 150 1503 147 1495 158 1488 174 1518 166 1515 153 1512 152 1484 180 1499 195 1516 178 1492 139 1494 162 1489 193 1502 143 1493 134 1488 193 1498 193 1472 157 1503 193 1490 185 1484 167 1508 140 1500 186 1511 183 1495 134 1513 188 1494 189 1500 141 1498 157 1513" stroke="#0571b5" fill="none"/>
<path d="M156 1514L195 1494 229 1481 235 1508 223 1477 214 1482 183 1511 200 1486 154 1516 205 1502 170 1501 225 1512 150 1501 236 1503 209 1505 223 1501 211 1473 153 1479 157 1482 163 1510 235 1509 227 1504 158 1498 150 1489 177 1524 185 1523 172 1509 159 1500 157 1505 187 1502 220 1514 214 1524 186 1501 189 1489 215 1491 160 1482 171 1512 163 1502 174 1503 204 1514 177 1479 240 1480 205 1478 235 1498 225 1480 218 1478 226 1484 209 1498 187 1508 195 1480 239 1497 161 1481 226 1485 236 1503 263 1514 237 1502 189 1518 169 1519 246 1493 232 1475 220 1496 219 1494 208 1475 207 1487 233 1469 270 1465 176 1496 203 1473 183 1481 236 1462 182 1498 157 1483 211 1487 217 1496 244 1481 221 1458 244 1488 190 1460 258 1481 209 1493 225 1461 186 1473 228 1487 188 1450 212 1470 205 1460 250 1488 258 1457 251 1446 177 1473 180 1475 262 1466 214 1470 259 1457 158 1484 261 1451 255 1466 260 1477 256 1445 202 1443 165 1443 244 1445 207 1442 222 1443 204 1459 276 1454 221 1486 277 1465 234 1486 222 1449 244 1465 292 1462 262 1485 238 1465 239 1443 224 1463 248 1486 264 1471 260 1434 255 1456 202 1429 207 1460 244 1448 243 1423 208 1455 249 1421 293 1423 215 1445 273 1439 269 1450 248 1432 221 1447 274 1451 243 1431 278 1432 243 1422 290 1432 246 1421 231 1428 282 1458 286 1446 280 1438 261 1459 267 1425 263 1434 306 1433 298 1451 263 1427 307 1431 286 1462 263 1457 297 1434 296 1450 293 1459 288 1433 268 1430 307 1455 253 1444 321 1431 261 1426 236 1455 271 1438 315 1439 268 1447 265 1417 252 1421 276 1397 302 1411 288 1414 273 1429 294 1407 247 1443 318 1438 296 1445 313 1412 294 1453 296 1441 310 1455 292 1436 311 1421 288 1452 328 1440 338 1419 317 1429 284 1422 338 1444 295 1417 300 1422 328 1412 269 1427 307 1410 303 1450 294 1412 274 1420 300 1443 284 1427 310 1430 264 1421 333 1418 293 1454 291 1441 271 1437 337 1451 339 1449 294 1423 340 1410 309 1407 320 1400 317 1408 334 1411 271 1401 288 1417 337 1430 272 1408 270 1407 322 1392 349 1388 330 1397 353 1408 305 1404 321 1418 323 1409 335 1407 347 1426 352 1416 318 1436 297 1407 383 1416 365 1391 292 1431 333 1416 284 1406 303 1399 356 1420 374 1404 281 1401 288 1418 322 1418 288 1408 331 1397 301 1399 342 1410 320 1417 298 1403 333 1396 351 1395 350 1399 302 1434 330 1421 335 1411 331 1421 360 1398 306 1406 374 1396 298 1401 314 1412 374 1421 359 1392 354 1400 374 1405 354 1410 377 1414 309 1395 368 1360 299 1384 314 1354 310 1382 382 1345 372 1376 366 1367 331 1356 382 1365 354 1351 370 1354 362 1376 384 1339 305 1381 366 1375 317 1348 384 1381 350 1352 320 1345 347 1355 355 1378 374 1357 367 1389 352 1381 360 1372 368 1371 367 1381 367 1390 361 1357 385 1378 341 1351 337 1387 347 1368 349 1384 331 1349 379 1367 373 1378 378 1363 341 1354 400 1386 333 1349 332 1357 318 1376 330 1377 361 1337 375 1390 393 1386 393 1354 357 1393 350 1389 407 1396 343 1396 326 1384 321 1398 350 1365 323 1392 407 1377 363 1368 382 1366 325 1390 394 1355 345 1349 367 1372 335 1359 351 1345 338 1378 404 1350 402 1364 354 1351 360 1367 402 1382 378 1373 396 1339 398 1354 385 1356 382 1364 384 1373 395 1364 360 1373 402 1357 365 1350 369 1381 344 1367 346 1376 406 1386 401 1344 372 1362 354 1383 405 1353 406 1383 350 1379 418 1343 399 1373 370 1361 414 1359 377 1363 364 1377 377 1355 379 1358 386 1373 416 1361 396 1363 355 1355 367 1338 398 1341 413 1352 418 1351 355 1361 441 1365 440 1332 426 1332 442 1348 426 1352 394 1329 379 1360 440 1348 362 1367 370 1354 420 1335 441 1341 370 1359 387 1365 434 1338 393 1369 402 1341 405 1361 369 1377 424 1341 439 1363 373 1352 374 1344 406 1340 453 1354 379 1342 404 1357 415 1359 456 1353 442 1363 454 1388 436 1352 422 1346 379 1350 423 1375 453 1356 449 1356 426 1387 434 1366 375 1357 436 1360 389 1344 408 1372 389 1352 379 1333 424 1371 431 1346 460 1325 411 1323 407 1333 452 1355 460 1308 449 1320 418 1345 447 1309 393 1330 447 1303 421 1337 416 1329 425 1307 448 1340 446 1316 445 1319 458 1316 461 1325 395 1305 433 1338 471 1340 406 1345 474 1343 468 1306 431 1327 419 1348 473 1339 399 1319 422 1340 445 1315 476 1344 474 1352 484 1328 420 1342 485 1339 421 1338 476 1351 491 1343 453 1310 432 1304 453 1304 491 1322 448 1312 437 1302 420 1330 417 1311 468 1330 483 1316 467 1345 444 1324 477 1307 485 1287 481 1336 469 1296 416 1324 447 1317 427 1312 440 1308 487 1310 476 1308 432 1299 442 1314 465 1310 488 1310 448 1281 457 1309 487 1268 441 1271 426 1268 480 1284 454 1268 463 1303 436 1275 476 1311 445 1277 434 1313 434 1322 500 1294 430 1301 439 1324 426 1320 442 1330 455 1334 507 1301 488 1322 452 1298 430 1303 538 1289 475 1300 480 1298 451 1296 435 1305 499 1293 470 1317 519 1322 511 1315 433 1324 520 1290 478 1322 509 1278 437 1305 485 1279 505 1287 450 1301 521 1296 445 1282 477 1273 463 1300 521 1293 443 1293 511 1299 444 1278 466 1290 466 1291 505 1296 445 1272 496 1285 502 1265 491 1298 480 1291 528 1298 487 1281 483 1301 470 1276 512 1308 530 1281 487 1271 554 1264 473 1293 531 1285 501 1261 527 1291 455 1278 461 1278 476 1258 509 1270 494 1305 496 1281 519 1262 467 1259 515 1258 471 1277 543 1265 544 1250 493 1251 471 1240 519 1268 507 1240 564 1254 528 1270 526 1272 551 1277 490 1280 560 1261 512 1285 552 1287 541 1263 531 1264 488 1255 532 1258 531 1285 504 1270 555 1267 562 1283 557 1283 523 1288 543 1282 486 1276 490 1269 519 1247 562 1242 549 1291 499 1286 580 1285 555 1297 543 1287 534 1279 571 1277 573 1288 555 1279 531 1270 552 1290 559 1263 548 1286 554 1299 573 1261 510 1270 578 1275 519 1263 500 1281 513 1278 531 1262 533 1275 546 1274 580 1244 560 1262 539 1237 546 1229 536 1236 611 1239 533 1234 599 1269 584 1236 530 1252 516 1262 524 1239 556 1253 586 1260 552 1251 584 1256 522 1267 548 1267 560 1240 557 1263 551 1251 566 1244 527 1252 565 1281 534 1261 597 1252 567 1265 583 1280 547 1235 605 1255 605 1240 540 1271 590 1245 571 1245 537 1278 552 1248 529 1271 578 1249 598 1239 599 1256 594 1237 587 1240 536 1276 637 1262 547 1255 621 1251 616 1250 585 1269 573 1236 595 1261 589 1259 571 1254 558 1252 593 1264 595 1252 580 1253 590 1271 628 1284 557 1284 567 1275 616 1278 561 1277 548 1293 561 1267 580 1278 559 1284 636 1280 558 1249 632 1283 557 1290 620 1242 609 1278 597 1241 591 1239 582 1264 616 1267 636 1269 594 1235 616 1243 655 1270 555 1232 605 1261 630 1260 581 1228 579 1232 639 1241 575 1225 608 1266 633 1225 595 1230 587 1234 563 1269 587 1239 573 1213 600 1253 648 1240 595 1224 608 1222 580 1218 604 1261 575 1220 596 1262 646 1234 611 1239 570 1247 649 1238 620 1232 590 1238 657 1259 642 1252 626 1257 620 1264 594 1251 573 1230 622 1239 628 1259 610 1259 648 1237 606 1267 587 1242 621 1255 663 1224 648 1241 597 1258 622 1235 601 1226 649 1246 612 1233 626 1230 625 1261 597 1255 644 1236 640 1233 610 1248 649 1253 664 1230 604 1268 674 1239 636 1231 652 1257 678 1254 657 1260 631 1219 621 1236 675 1240 606 1229 686 1225 647 1254 685 1226 661 1256 630 1250 685 1253 644 1251 679 1226 650 1238 630 1229 645 1256 647 1232 666 1248 622 1216 686 1238 687 1245 606 1211 680 1252 660 1230 695 1249 664 1220 615 1251 661 1200 641 1241 668 1213 679 1239 669 1213 636 1236 687 1238 674 1229 695 1231 669 1217 666 1222 659 1221 683 1229 696 1244 648 1222 665 1236 655 1223 619 1217 679 1230 672 1228 665 1235 698 1219 688 1208 634 1229 662 1233 687 1185 687 1209 628 1219 623 1209 670 1215 630 1239 682 1220 703 1204 679 1216 653 1211 656 1231 633 1193 721 1195 677 1229 652 1210 623 1188 663 1196 655 1223 653 1216 708 1202 735 1187 692 1203 681 1179 643 1185 650 1192 697 1182 624 1194 706 1214 633 1210 686 1193 693 1185 667 1187 673 1179 715 1200 682 1198 722 1189 733 1211 660 1213 651 1218 646 1186 677 1187 618 1186 659 1172 705 1208 725 1181 693 1178 705 1184 676 1189 684 1185 648 1153 713 1164 644 1155 708 1166 703 1156 705 1175 690 1197 668 1199 673 1165 669 1165 654 1206 706 1195 740 1203 738 1177 696 1173 678 1193 688 1157 732 1210 728 1176 688 1195 734 1169 738 1172 761 1163 689 1167 698 1155 751 1173 673 1155 743 1165 697 1187 743 1163 694 1192 675 1157 722 1186 693 1169 686 1173 686 1165 697 1188 749 1178 728 1149 697 1166 688 1177 698 1167 761 1169 738 1173 735 1166 760 1147 684 1149 695 1177 700 1178 716 1151 774 1160 758 1167 727 1169 707 1184 729 1167 725 1174 720 1171 737 1158 713 1166 707 1161 729 1165 781 1180 739 1178 755 1182 752 1190 750 1194 740 1169 723 1164 727 1159 706 1162 760 1161 752 1164 758 1163 787 1145 729 1174 755 1148 771 1146 778 1144 769 1153 787 1150 716 1150 781 1164 717 1172 725 1141 746 1144 746 1155 780 1175 788 1171 800 1155 796 1133 768 1136 723 1175 726 1160 762 1134 760 1151 754 1155 751 1140 768 1133 722 1130 772 1123 804 1142 733 1140 730 1125 807 1153 751 1133 756 1139 828 1120 729 1119 798 1153 797 1121 725 1141 793 1135 735 1141 834 1121 748 1136 746 1125 772 1141 758 1133 802 1136 756 1157 768 1128 737 1159 769 1150 775 1131 783 1139 765 1137 803 1140 752 1121 745 1127 784 1119 809 1118 740 1104 772 1140 791 1148 797 1109 817 1104 801 1119 807 1141 779 1127 805 1130 784 1128 775 1151 731 1108 779 1131 778 1121 804 1131 768 1117 752 1136 755 1126 797 1113 738 1121 742 1150 821 1129 804 1115 744 1149 804 1140 743 1113 790 1161 778 1147 750 1129 768 1110 754 1109 763 1126 772 1115 743 1154 757 1120 750 1154 781 1121 767 1120 748 1132 812 1116 764 1147 809 1119 817 1119 776 1116 810 1140 813 1127 793 1115 758 1140 800 1155 782 1125 756 1152 754 1162 789 1167 818 1133 781 1118 769 1151 757 1145 844 1134 803 1160 836 1132 825 1151 774 1146 769 1142 818 1130 847 1127 796 1117 810 1099 833 1114 812 1098 814 1096 828 1095 780 1116 769 1125 767 1101 805 1084 835 1116 784 1091 811 1099 853 1127 846 1092 791 1117 850 1135 860 1124 787 1109 815 1104 800 1142 824 1099 837 1094 856 1130 809 1109 806 1133 806 1124 808 1108 794 1108 798 1121 803 1116 859 1128 859 1114 789 1095 830 1099 869 1092 851 1094 878 1103 837 1091 800 1102 802 1127 860 1122 830 1088 849 1090 802 1108 872 1099 819 1085 845 1083 886 1080 802 1078 870 1078 844 1081 832 1089 876 1107 828 1071 805 1080 870 1080 808 1085 856 1098 852 1119 823 1113 879 1087 858 1111 847 1108 819 1082 833 1099 814 1082 894 1131 888 1096 894 1107 838 1098 852 1078 883 1092 842 1087 813 1096 875 1113 866 1072 849 1073 845 1084 878 1078 864 1085 856 1071 878 1051 842 1076 837 1067 895 1064 814 1063 818 1051 880 1060 822 1071 847 1056 894 1073 876 1076 901 1048 834 1058 880 1070 842 1062 823 1072 869 1090 824 1093 858 1105 857 1095 854 1105 830 1067 822 1087 864 1098 874 1101 852 1096 847 1066 926 1081 902 1052 845 1046 847 1077 910 1063 843 1057 915 1036 887 1049 894 1033 878 1054 894 1066 887 1041 888 1052 840 1072 913 1073 877 1067 923 1069 915 1056 857 1055 910 1056 855 1061 925 1047 892 1045 924 1079 864 1062 874 1059 910 1025 829 1019 932 1024 904 1023 915 1029 915 1051 904 1042 851 1041 858 1037 849 1045 917 1025 888 1045 923 1067 921 1046 843 1027 912 1027 907 1054 895 1067 896 1070 869 1031 889 1046 870 1039 887 1060 947 1066 871 1035 893 1035 910 1059 862 1047 922 1052 957 1046 952 1037 945 1041 913 1036 930 1040 924 1067 879 1031 957 1035 890 1025 946 1025 950 1059 870 1041 938 1067 955 1050 957 1051 935 1022 956 1037 930 1064 927 1061 937 1052 897 1053 941 1027 940 1055 965 1059 966 1036 883 1073 870 1066 952 1073 964 1037 945 1046 916 1051 944 1079 911 1071 896 1065 964 1057 944 1046 960 1040 896 1050 942 1066 981 1040 898 1051 958 1029 951 1035 919 1025 918 1054 902 1047 966 1018 945 1044 928 1019 925 1050 960 1019 986 1050 979 1048 942 1025 920 1036 932 1010 927 1020 954 1039 964 1032 923 1055 903 1005 910 1050 992 1050 976 1042 958 1013 987 1040 932 1027 926 1007 985 1017 923 1034 993 1009 939 995 920 1009 921 1017 992 1024 971 1006 959 1000 912 1009 911 1030 975 1006 931 1050 956 1021 928 1023 940 1004 922 1019 926 1038 935 1046 952 1029 988 1008 935 1015 921 1039 986 1028 958 1028 936 1009 1005 1009 951 1021 939 1013 948 1016 942 1006 993 1027 1009 1043 943 1008 995 1017 1002 1000 971 1032 954 1030 989 1022 993 1032 991 1019 970 1009 941 999 1004 1002 950 1004 987 1028 970 1010 994 1019 960 1030 996 999 937 993 983 1005 937 1018 1011 999 970 995 961 1021 970 1010 952 1019 962 993 1002 999 972 996 957 1020 1004 1013 973 981 987 1003 988 1005 961 974 975 981 1005 1007 1009 998 991 999 975 979 948 996 979 990 1024 989 1006 995 993 1017 1003 1017 1006 1006 1031 1017 961 1000 1010 973 972 1009 964 1006 1006 980 1009 1004 1004 989 1007 1000 980 986 1021 997 1013 977 1011 963 981 980 1035 985 1009 1002 978 1002 1007 993 957 993 981 1000 1028 975 971 975 991 996 1024 1009 1029 996 1030 991 995 1004 1007 991 972 988 985 999 1058 978 966 977 962 1010 1011 980 1019 1004 1020 989 997 980 1031 973 1024 994 1023 973 995 981 1047 986 1003 972 979 964 961 999 994 968 1040 961 1008 974 979 993 1038 993 1009 977 985 968 1021 987 1014 996 1047 971 1033 995 987 985 997 983 995 968 1008 975 1042 997 1014 975 986 986 1046 966 1033 979 983 960 1003 983 1035 949 1046 960 1031 980 1013 967 991 980 1039 965 1036 943 1063 971 1009 960 1065 967 1011 968 1025 975 1038 986 1027 977 1028 934 988 964 994 944 1040 958 1065 958 1011 936 1051 965 995 934 1069 963 1047 941 1036 967 1038 930 1079 951 1032 938 1076 939 1008 972 1051 946 1069 969 1053 944 1077 937 1023 933 1035 931 1033 930 1075 960 1035 952 1050 958 1009 958 1016 938 1036 959 1030 945 1054 961 1039 940 1058 935 1094 955 1045 949 1045 944 1035 967 1017 951 1084 971 1091 970 1032 957 1070 950 1085 965 1089 936 1091 966 1092 974 1077 962 1099 934 1090 967 1052 927 1094 955 1090 954 1032 970 1048 930 1088 957 1112 955 1079 940 1057 935 1073 955 1042 936 1044 939 1045 927 1116 945 1059 948 1112 955 1059 956 1072 955 1098 937 1074 953 1121 933 1066 941 1112 931 1102 927 1088 956 1044 931 1103 921 1089 942 1087 938 1048 961 1097 945 1039 928 1120 924 1069 948 1053 928 1136 911 1083 933 1052 919 1054 953 1116 932 1093 929 1128 946 1090 910 1093 942 1143 906 1078 912 1121 946 1121 948 1147 909 1069 944 1116 909 1071 917 1106 902 1130 927 1064 911 1117 909 1073 890 1114 931 1150 914 1096 900 1080 893 1119 900 1086 921 1106 902 1092 880 1061 874 1129 872 1085 901 1074 867 1095 871 1155 888 1089 898 1125 890 1082 867 1151 877 1116 910 1137 901 1144 902 1140 882 1109 881 1118 886 1164 873 1147 897 1084 871 1100 901 1146 904 1117 866 1159 870 1137 850 1143 876 1160 889 1115 864 1121 889 1129 886 1186 868 1120 891 1125 899 1156 877 1160 877 1147 885 1086 900 1162 904 1121 905 1094 887 1091 889 1133 884 1111 921 1084 890 1157 921 1161 920 1088 916 1139 896 1086 896 1129 917 1155 902 1134 899 1148 905 1121 901 1120 914 1115 901 1158 900 1130 910 1118 894 1089 876 1170 871 1099 898 1145 884 1156 889 1176 883 1088 866 1154 878 1168 905 1100 867 1148 891 1111 875 1098 894 1130 887 1122 899 1102 892 1134 879 1161 885 1125 895 1150 899 1147 867 1146 875 1103 875 1141 873 1167 861 1158 870 1136 872 1152 864 1158 863 1139 892 1135 863 1072 854 1169 863 1152 860 1144 863 1132 901 1116 879 1135 876 1135 881 1121 862 1132 883 1160 863 1171 860 1183 901 1079 895 1134 897 1146 876 1144 892 1132 911 1144 879 1135 899 1131 868 1142 890 1193 894 1123 875 1153 876 1182 880 1174 848 1156 845 1151 844 1112 850 1163 863 1197 855 1112 847 1165 856 1182 860 1144 840 1184 855 1186 855 1164 846 1155 823 1185 827 1176 854 1187 823 1151 859 1149 846 1208 841 1188 821 1149 830 1212 839 1159 816 1196 813 1159 851 1170 822 1164 820 1138 837 1164 826 1178 841 1139 805 1140 848 1152 842 1174 832 1194 827 1245 835 1219 829 1149 850 1189 845 1220 857 1198 861 1222 850 1189 821 1179 860 1189 832 1210 869 1153 835 1186 836 1210 862 1166 824 1171 860 1214 826 1205 820 1132 837 1185 844 1223 848 1182 823 1171 831 1160 850 1200 852 1184 824 1179 810 1194 813 1205 833 1222 825 1167 804 1175 822 1214 824 1244 826 1206 831 1173 824 1226 843 1216 823 1238 803 1214 833 1200 833 1246 806 1218 804 1181 812 1165 801 1203 823 1248 798 1222 831 1223 819 1222 805 1232 828 1181 830 1240 825 1214 828 1228 832 1231 828 1241 820 1238 826 1182 821 1180 849 1249 845 1164 833 1168 829 1199 847 1236 818 1224 852 1212 841 1249 844 1239 822 1174 822 1227 808 1209 836 1240 840 1220 833 1229 836 1176 832 1253 817 1201 805 1183 792 1242 808 1209 823 1262 808 1252 804 1257 778 1187 799 1236 807 1232 810 1227 818 1249 791 1192 808 1251 780 1237 781 1240 816 1256 802 1178 800 1229 790 1260 789 1213 824 1213 795 1219 814 1254 794 1252 782 1240 799 1231 778 1224 802 1243 778 1253 772 1206 761 1265 798 1243 755 1207 763 1209 797 1295 773 1262 792 1204 772 1240 791 1275 774 1260 792 1212 812 1269 797 1291 790 1216 770 1292 784 1257 809 1245 800 1252 789 1259 807 1244 790 1295 807 1250 807 1283 786 1281 772 1281 784 1277 782 1243 775 1251 799 1249 780 1261 803 1236 804 1218 784 1273 777 1297 759 1288 766 1279 780 1256 792 1265 764 1246 785 1310 796 1252 772 1292 760 1255 762 1295 758 1301 749 1268 750 1309 758 1241 762 1241 779 1246 765 1258 759 1314 736 1291 750 1233 767 1305 729 1271 727 1242 753 1237 760 1315 724 1273 761 1244 729 1246 738 1242 769 1343 740 1258 760 1234 739 1273 750 1266 733 1309 743 1307 747 1242 763 1250 762 1320 764 1252 748 1297 765 1269 781 1303 750 1268 745 1261 751 1314 775 1320 759 1258 734 1283 746 1300 748 1264 779 1287 777 1272 761 1265 770 1305 757 1272 760 1302 760 1303 797 1295 799 1325 781 1249 797 1270 790 1263 783 1303 795 1322 789 1303 767 1279 785 1301 741 1327 740 1257 768 1305 773 1324 743 1308 769 1237 744 1325 763 1339 729 1267 749 1285 763 1274 756 1334 731 1287 754 1333 765 1288 751 1261 766 1307 759 1281 736 1304 751 1307 762 1281 725 1298 720 1334 738 1274 719 1323 738 1305 706 1302 730 1277 729 1279 738 1281 698 1298 699 1277 730 1339 706 1261 703 1274 710 1281 726 1280 754 1331 729 1302 707 1343 739 1348 750 1307 747 1346 744 1269 748 1328 741 1265 715 1333 735 1270 709 1349 723 1329 714 1352 732 1282 720 1331 718 1289 735 1323 728 1322 701 1344 723 1308 703 1316 713 1340 731 1271 698 1345 727 1346 698 1300 711 1286 723 1278 715 1285 704 1297 712 1335 700 1284 706 1337 725 1290 738 1355 728 1359 711 1298 716 1292 702 1338 737 1344 725 1311 720 1346 711 1365 735 1308 699 1339 690 1336 713 1343 696 1307 710 1322 683 1343 720 1350 722 1338 704 1312 719 1304 682 1297 687 1301 712 1292 694 1331 702 1363 714 1300 708 1354 690 1356 682 1304 704 1307 708 1314 702 1373 701 1324 718 1381 719 1370 683 1384 692 1317 693 1388 688 1364 674 1316 684 1313 685 1317 680 1383 686 1308 687 1372 689 1377 688 1329 697 1324 698 1389 690 1332 701 1394 666 1360 662 1319 661 1373 682 1375 666 1393 673 1358 660 1342 684 1359 665 1314 679 1307 674 1303 644 1326 637 1332 680 1365 643 1396 682 1387 663 1390 667 1371 656 1395 677 1368 658 1339 657 1375 676 1323 666 1392 647 1362 683 1331 682 1368 684 1330 670 1347 657 1375 639 1376 646 1350 670 1407 647 1375 652 1399 653 1343 654 1412 655 1361 654 1371 632 1349 644 1382 646 1403 680 1343 642 1359 665 1387 685 1374 664 1397 658 1415 649 1414 661 1407 689 1421 688 1396 680 1366 652 1412 645 1377 674 1359 650 1415 652 1388 643 1407 655 1407 643 1424 647 1344 669 1386 658 1387 662 1383 656 1425 662 1399 654 1410 647 1345 645 1398 663 1390 671 1427 666 1372 646 1422 684 1387 640 1421 661 1327 651 1427 639 1378 672 1420 631 1384 644 1362 661 1430 671 1354 644 1433 666 1414 665 1399 650 1397 646 1375 637 1374 627 1399 665 1394 656 1459 650 1391 663 1432 659 1416 633 1380 644 1425 662 1373 664 1425 627 1431 663 1377 649 1413 671 1386 645 1421 636 1446 635 1389 635 1387 642 1349 649 1414 654 1398 633 1418 632 1376 649 1387 648 1385 639 1398 644 1378 616 1429 617 1408 606 1386 613 1406 643 1374 624 1432 636 1432 630 1428 613 1417 608 1379 625 1400 605 1398 604 1428 604 1450 606 1381 601 1439 628 1460 635 1409 617 1399 628 1445 620 1413 622 1402 630 1408 631 1431 603 1462 610 1464 608 1457 591 1406 623 1407 597 1449 608 1393 626 1408 607 1421 603 1466 594 1411 588 1426 603 1474 621 1460 622 1482 608 1438 608 1462 599 1460 628 1441 621 1452 610 1404 603 1468 629 1464 623 1466 614 1434 630 1404 613 1485 644 1410 626 1486 604 1453 609 1426 642 1509 600 1420 600 1474 614 1440 641 1477 636 1483 601 1414 627 1409 606 1465 633 1443 610 1392 613 1466 630 1487 609 1421 617 1417 612 1459 616 1464 626 1447 621 1423 601 1498 613 1467 588 1437 601 1442 592 1470 612 1498 596 1504 588 1481 609 1484 594 1462 595 1516 615 1437 619 1467 586 1487 580 1451 620 1491 595 1461 610 1469 612 1484 583 1498 619 1461 590 1517 597 1486 593 1434 576 1504 629 1454 602 1443 584 1452 622 1491 614 1499 586 1451 583 1513 626 1522 606 1523 593 1479 616 1457 601 1522 608 1510 593 1498 619 1529 605 1492 563 1500 610 1525 610 1459 583 1491 568 1428 567 1480 611 1492 573 1484 557 1432 569 1510 584 1462 572 1492 594 1482 580 1505 586 1506 574 1508 582 1490 558 1489 572 1524 584 1526 587 1504 569 1492 567 1494 565 1543 562 1477 540 1470 552 1464 564 1507 584 1531 579 1473 567 1551 566 1479 589 1514 561 1473 589 1515 565 1488 592 1471 598 1540 570 1524 574 1542 565 1503 590 1539 587 1466 571 1475 587 1522 592 1541 568 1546 592 1532 595 1519 584 1467 549 1506 572 1482 550 1547 559 1578 567 1506 578 1517 556 1471 558 1546 577 1514 538 1486 548 1520 563 1512 554 1516 542 1548 573 1486 542 1541 576 1489 558 1559 562 1529 549 1533 560 1493 560 1548 575 1493 548 1560 569 1502 566 1524 538 1568 543 1491 563 1532 563 1557 545 1545 553 1542 562 1542 563 1569 543 1509 562 1544 527 1500 547 1559 540 1561 555 1491 566 1565 533 1508 567 1563 537 1567 549 1568 529 1554 563 1556 540 1526 558 1505 535 1558 533 1530 537 1596 533 1538 556 1568 529 1497 532 1484 544 1502 549 1569 567 1567 540 1562 539 1495 555 1560 534 1551 524 1555 528 1509 550 1522 520 1496 548 1575 536 1558 516 1574 543 1554 507 1568 543 1560 528 1559 539 1520 510 1577 541 1579 540 1502 526 1510 521 1562 544 1529 546 1557 514 1529 539 1507 515 1524 536 1577 534 1587 545 1554 514 1510 504 1566 513 1506 505 1532 526 1526 506 1592 532 1540 501 1578 535 1575 500 1587 530 1529 522 1577 544 1594 508 1509 524 1532 533 1553 549 1538 528 1547 541 1548 552 1566 516 1581 549 1537 551 1591 522 1568 514 1620 512 1522 503 1563 507 1537 496 1559 536 1554 517 1594 490 1607 497 1540 482 1545 517 1526 510 1591 483 1545 504 1551 477 1601 498 1589 515 1529 507 1605 478 1560 514 1553 528 1570 477 1593 516 1610 521 1534 491 1558 526 1583 521 1588 494 1558 492 1582 494 1552 504 1559 480 1602 475 1592 480 1584 482 1587 486 1592 505 1537 484 1610 478 1552 468 1589 467 1587 485 1601 474 1553 487 1581 497 1620 457 1581 466 1619 488 1544 481 1564 460 1584 447 1576 476 1571 441 1559 448 1536 475 1608 475 1616 474 1590 459 1593 444 1609 479 1622 441 1543 479 1616 453 1584 454 1623 479 1540 439 1561 453 1576 469 1558 465 1547 476 1569 445 1622 468 1613 451 1581 447 1567 471 1610 453 1560 472 1623 437 1556 441 1606 459 1599 441 1564 444 1591 467 1572 467 1598 481 1595 485 1548 454 1567 487 1577 482 1589 475 1562 476 1612 474 1555 453 1587 495 1591 456 1556 478 1597 496 1633 473 1616 495 1572 447 1573 504 1574 459 1559 479 1561 489 1609 471 1562 468 1601 471 1636 459 1607 492 1622 481 1642 478 1575 471 1568 454 1577 472 1587 464 1607 476 1593 458 1623 500 1604 492 1608 494 1602 487 1643 504 1594 461 1601 456 1593 487 1591 468 1633 463 1610 453 1652 460 1601 453 1623 448 1652 486 1593 488 1639 476 1587 444 1592 453 1587 482 1600 455 1617 458 1644 478 1577 472 1580 457 1661 435 1634 476 1586 436 1626 439 1633 442 1597 420 1654 439 1587 456 1620 439 1662 440 1689 438 1590 444 1660 415 1614 447 1623 422 1624 445 1619 406 1652 421 1595 428 1612 427 1591 434 1650 449 1650 432 1617 442 1630 427 1595 431 1654 426 1594 412 1621 445 1665 440 1633 435 1648 448 1673 406 1599 445 1668 408 1609 448 1645 457 1664 413 1687 439 1671 410 1655 415 1667 407 1684 404 1661 445 1675 410 1620 418 1637 439 1694 441 1619 407 1637 439 1686 405 1650 430 1618 426 1659 444 1654 402 1629 406 1706 439 1679 436 1636 404 1704 408 1657 414 1709 397 1695 433 1697 442 1674 429 1677 426 1703 430 1658 444 1672 419 1687 422 1706 405 1680 420 1639 427 1645 414 1708 433 1706 420 1652 445 1643 416 1657 433 1661 422 1637 421 1670 415 1699 388 1648 428 1712 389 1708 422 1713 410 1669 391 1647 371 1710 386 1696 372 1694 410 1677 371 1716 391 1710 411 1694 407 1724 381 1675 416 1711 418 1737 395 1678 408 1733 413 1677 411 1739 394 1694 433 1652 412 1740 409 1718 399 1692 429 1729 412 1715 423 1705 425 1687 413 1725 393 1678 405 1692 421 1713 420 1686 424 1742 412 1674 418 1768 385 1745 383 1709 406 1687 423 1698 418 1668 400 1739 384 1706 418 1669 412 1704 419 1738 383 1698 396 1720 422 1678 389 1676 413 1729 400 1708 412 1719 397 1726 402 1706 421 1725 378 1710 384 1679 396 1725 410 1715 402 1735 386 1759 384 1713 377 1735 381 1688 391 1689 366 1682 380 1752 397 1723 362 1746 387 1721 397 1727 389 1755 399 1681 390 1735 377 1699 393 1777 366 1748 373 1706 370 1725 353 1703 369 1695 357 1697 364 1717 358 1719 368 1755 382 1756 380 1726 376 1696 363 1718 357 1726 377 1738 388 1696 383 1750 367 1712 353 1706 357 1729 370 1736 359 1698 353 1744 373 1707 379 1737 373 1722 368 1740 355 1702 372 1729 366 1747 349 1709 358 1720 374 1715 358 1727 381 1705 383 1717 380 1751 373 1762 366 1756 374 1727 379 1730 369 1746 379 1736 381 1735 388 1709 382 1699 382 1765 391 1700 374 1727 383 1724 398 1747 401 1753 394 1710 402 1704 389 1725 382 1738 397 1726 390 1758 381 1708 391 1708 383 1742 399 1761 393 1729 412 1740 405 1742 397 1712 401 1728 397 1761 401 1715 403 1738 402 1697 413 1720 394 1727 399 1747 408 1703 400 1745 407 1738 416 1720 398 1718 409 1694 411 1701 392 1745 395 1718 419 1699 394 1721 410 1740 389 1724 396 1732 405 1715 394 1709 392 1728 399 1694 404 1712 405 1728 414 1735 426 1734 405 1740 416 1705 426 1741 418 1708 407 1719 430 1708 409 1731 404 1724 424 1742 414 1736 413 1726 419 1727 423 1747 407 1702 424 1698 411 1694 404 1708 412 1721 424 1702 418 1681 420 1721 428 1711 418 1709 441 1690 433 1696 416 1734 422 1686 424 1706 449 1731 439 1718 421 1688 446 1723 444 1723 442 1683 435 1704 428 1716 451 1682 428 1717 443 1732 426 1724 451 1687 423 1694 439 1709 436 1704 435 1671 426 1676 437 1692 434 1711 448 1714 456 1704 428 1697 444 1695 440 1714 457 1679 455 1707 450 1670 446 1695 449 1719 471 1685 464 1660 445 1688 447 1696 456 1658 454 1706 461 1703 476 1710 465 1656 468 1671 462 1659 453 1659 478 1712 461 1692 464 1679 452 1653 453 1700 457 1685 467 1672 470 1664 460 1651 453 1674 484 1659 471 1685 451 1698 491 1702 479 1663 488 1681 468 1660 482 1657 491 1689 484 1704 472 1694 479 1654 476 1679 479 1697 498 1650 474 1656 495 1678 478 1642 483 1667 484 1716 494 1640 477 1669 481 1702 478 1659 510 1700 479 1702 474 1709 495 1671 502 1695 474 1680 501 1684 481 1705 492 1655 495 1693 496 1697 490 1643 505 1661 498 1682 493 1676 519 1680 508 1674 500 1682 514 1697 506 1675 518 1694 519 1664 511 1677 509 1669 503 1693 490 1701 495 1646 507 1676 490 1676 488 1650 501 1657 510 1691 503 1657 485 1694 510 1674 509 1632 486 1685 502 1683 498 1666 493 1702 508 1704 500 1670 512 1708 478 1698 509 1707 492 1690 493 1699 491 1667 516 1688 487 1672 499 1674 497 1665 493 1663 518 1701 501 1694 519 1670 494 1709 496 1697 522 1703 523 1646 507 1637 516 1648 502 1681 495 1672 498 1698 511 1702 498 1684 513 1694 501 1687 500 1703 527 1684 530 1662 511 1682 516 1714 522 1669 501 1643 510 1643 515 1652 514 1668 533 1655 538 1652 544 1678 521 1672 532 1650 527 1645 531 1662 531 1669 546 1691 542 1658 527 1667 548 1694 552 1680 551 1664 525 1662 542 1684 561 1630 532 1649 540 1642 534 1648 542 1684 526 1628 535 1654 545 1634 551 1665 550 1650 537 1678 559 1655 560 1671 541 1653 557 1641 548 1646 561 1643 558 1688 556 1685 566 1678 564 1635 563 1703 557 1679 550 1650 560 1643 548 1639 570 1627 558 1663 555 1629 562 1685 576 1663 569 1667 555 1669 559 1650 570 1671 557 1679 540 1686 558 1643 554 1636 576 1664 580 1656 573 1677 557 1660 577 1688 581 1614 578 1680 581 1682 581 1661 566 1648 573 1637 563 1627 579 1625 593 1655 588 1673 581 1646 576 1629 579 1653 579 1629 595 1651 599 1664 582 1665 596 1648 578 1630 578 1633 591 1651 613 1643 586 1667 588 1627 610 1665 604 1685 602 1682 598 1646 624 1630 603 1643 615 1641 621 1655 615 1660 610 1669 597 1674 612 1647 599 1633 593 1670 595 1654 588 1623 612 1634 615 1669 601 1632 597 1631 608 1678 625 1680 601 1646 622 1656 611 1658 631 1676 609 1664 636 1648 608 1637 628 1648 634 1625 625 1629 636 1673 623 1683 637 1626 613 1674 616 1650 629 1674 625 1633 623 1639 617 1653 626 1666 643 1672 634 1629 613 1630 612 1619 630 1645 630 1614 602 1666 630 1619 608 1661 603 1638 623 1667 601 1650 624 1631 603 1666 627 1629 602 1665 609 1650 633 1618 621 1620 620 1662 609 1636 619 1592 636 1656 640 1634 623 1645 625 1623 639 1627 612 1616 637 1626 649 1633 627 1673 626 1630 647 1632 657 1647 646 1654 656 1622 638 1619 658 1615 653 1649 666 1604 645 1666 666 1655 667 1619 649 1620 649 1614 649 1619 669 1635 677 1629 677 1652 658 1607 658 1646 673 1613 655 1618 650 1648 651 1629 670 1649 639 1588 664 1652 650 1653 654 1633 648 1636 668 1608 638 1646 663 1594 675 1605 664 1630 660 1625 669 1605 671 1640 670 1673 649 1649 655 1618 642 1660 668 1637 649 1644 668 1616 641 1641 650 1611 649 1609 665 1660 652 1605 669 1645 650 1655 669 1625 646 1647 659 1615 667 1626 676 1619 653 1618 661 1636 676 1595 682 1617 673 1600 658 1647 659 1604 677 1636 681 1621 669 1625 664 1638 663 1618 685 1597 687 1610 680 1638 672 1594 677 1611 685 1593 680 1642 679 1595 675 1608 688 1586 677 1609 701 1588 687 1604 679 1638 680 1613 697 1626 684 1593 687 1629 703 1621 694 1631 703 1636 679 1595 687 1617 703 1622 711 1595 677 1590 683 1609 692 1584 700 1596 706 1635 710 1594 697 1590 705 1593 704 1604 706 1609 695 1603 716 1613 700 1571 712 1561 708 1571 703 1615 711 1620 696 1597 721 1578 727 1619 715 1603 706 1571 711 1565 725 1608 731 1619 719 1580 711 1589 723 1569 736 1586 701 1592 708 1625 724 1567 727 1585 708 1583 716 1606 731 1566 730 1581 709 1572 732 1597 713 1621 725 1587 717 1624 714 1596 709 1619 737 1565 727 1600 728 1594 730 1591 716 1562 727 1568 716 1606 712 1584 720 1596 723 1621 724 1568 721 1574 738 1613 745 1597 726 1616 724 1560 728 1576 731 1591 741 1580 732 1620 733 1589 737 1596 728 1593 745 1584 737 1585 737 1586 730 1571 752 1613 745 1611 732 1587 741 1607 746 1560 742 1604 756 1583 731 1575 744 1605 760 1562 749 1563 746 1587 749 1571 734 1582 735 1580 743 1591 754 1622 754 1580 737 1606 738 1605 749 1557 731 1552 742 1604 751 1588 759 1577 745 1561 739 1589 750 1579 751 1566 753 1552 734 1584 751 1568 751 1573 734 1555 733 1601 743 1562 736 1558 763 1609 751 1555 765 1598 769 1571 771 1601 775 1563 775 1575 775 1572 761 1576 779 1601 766 1599 779 1570 786 1599 794 1599 793 1578 783 1595 778 1570 769 1593 794 1596 792 1588 777 1590 766 1559 765 1552 770 1586 765 1588 767 1558 779 1589 760 1577 769 1571 779 1574 788 1563 777 1555 773 1567 772 1555 785 1543 798 1603 791 1585 779 1541 778 1592 779 1564 776 1579 798 1564 777 1571 794 1552 789 1583 793 1554 800 1550 782 1560 785 1592 809 1545 793 1591 804 1594 811 1599 787 1588 803 1558 817 1547 790 1594 817 1544 812 1546 799 1567 795 1579 803 1534 810 1571 810 1560 806 1574 817 1548 799 1546 815 1544 801 1530 803 1547 827 1532 808 1560 823 1587 810 1558 810 1575 817 1582 797 1552 820 1546 802 1546 804 1525 826 1535 800 1549 809 1548 817 1547 818 1583 807 1537 832 1567 820 1544 823 1580 808 1543 829 1539 823 1535 833 1521 812 1581 820 1543 816 1543 840 1545 831 1541 836 1573 833 1549 817 1560 816 1555 839 1500 829 1531 822 1530 842 1567 817 1573 822 1570 821 1566 825 1560 823 1519 825 1574 840 1566 846 1526 845 1513 832 1557 852 1530 845 1575 844 1516 852 1533 850 1540 847 1511 848 1544 844 1567 864 1550 845 1557 857 1543 852 1547 849 1515 857 1565 849 1522 862 1515 844 1554 849 1531 851 1511 870 1535 875 1557 865 1518 866 1520 856 1557 858 1550 873 1527 867 1564 848 1514 870 1526 864 1557 868 1558 846 1535 864 1554 854 1538 878 1540 869 1571 876 1569 851 1545 867 1515 865 1510 863 1532 861 1521 874 1534 865 1566 863 1519 878 1540 871 1562 873 1512 891 1511 883 1547 884 1510 877 1556 890 1555 889 1528 898 1530 875 1546 891 1518 893 1519 893 1544 876 1556 891 1532 890 1550 872 1511 889 1525 883 1526 893 1538 895 1557 894 1527 883 1536 873 1553 880 1498 887 1551 897 1542 869 1551 885 1542 878 1521 896 1517 877 1541 891 1509 888 1507 898 1493 893 1516 883 1544 875 1548 891 1530 883 1511 879 1513 898 1524 886 1534 900 1547 900 1550 892 1504 901 1531 909 1523 901 1528 894 1539 886 1545 904 1533 888 1492 897 1527 889 1518 895 1518 905 1519 911 1529 913 1499 915 1537 899 1495 911 1522 903 1500 923 1507 912 1510 898 1512 919 1515 932 1493 919 1532 908 1509 914 1530 913 1513 932 1484 934 1493 912 1514 912 1538 926 1539 922 1494 929 1525 934 1483 926 1520 916 1480 910 1513 918 1515 911 1482 901 1525 916 1491 923 1523 926 1536 926 1498 897 1530 910 1503 934 1513 926 1478 930 1532 938 1473 921 1476 927 1532 942 1462 927 1481 948 1519 922 1526 935 1527 945 1489 933 1508 942 1525 929 1480 936 1525 940 1517 951 1492 953 1513 946 1515 943 1499 954 1486 945 1502 949 1486 931 1526 948 1515 946 1509 930 1482 930 1520 948 1483 932 1463 944 1512 954 1515 943 1513 946 1465 944 1508 951 1469 952 1520 946 1447 946 1471 943 1496 936 1501 948 1506 963 1491 954 1497 941 1502 944 1486 949 1477 946 1462 956 1498 947 1501 970 1514 975 1476 958 1507 971 1456 962 1511 964 1474 965 1490 980 1469 956 1505 959 1522 966 1474 958 1488 949 1504 959 1488 977 1484 976 1474 965 1453 969 1474 948 1439 968 1449 975 1458 967 1478 965 1461 968 1493 963 1451 961 1467 956 1456 948 1493 959 1490 954 1478 978 1481 985 1443 977 1443 961 1437 957 1473 957 1452 970 1464 972 1493 966 1454 960 1486 977 1489 972 1443 964 1436 952 1450 977 1499 992 1460 990 1440 986 1448 974 1485 1002 1474 984 1424 978 1465 983 1436 973 1480 997 1438 979 1454 975 1433 972 1450 987 1456 994 1449 972 1439 979 1479 994 1429 977 1431 991 1457 1002 1473 1000 1479 1006 1430 1002 1464 1000 1432 1006 1481 1017 1451 1002 1479 999 1424 1004 1450 1011 1460 1019 1450 1003 1427 1020 1427 1032 1464 1028 1475 1022 1435 1032 1465 1024 1479 1013 1460 1004 1469 1022 1460 1004 1453 1013 1456 1017 1446 998 1459 1011 1444 1017 1462 1008 1461 1015 1433 1010 1450 1009 1417 1017 1452 1010 1467 1020 1418 1000 1429 1016 1449 1014 1457 1023 1411 1003 1458 1025 1466 1007 1412 1012 1423 1004 1456 1027 1446 1033 1424 1028 1456 1035 1406 1030 1445 1024 1415 1009 1467 1020 1411 1018 1442 1024 1416 1018 1446 1030 1421 1033 1427 1043 1408 1040 1408 1052 1414 1053 1443 1057 1431 1050 1426 1047 1428 1059 1427 1041 1451 1036 1420 1043 1433 1051 1415 1055 1409 1060 1457 1039 1399 1050 1419 1045 1432 1059 1407 1053 1408 1059 1446 1041 1422 1063 1413 1068 1413 1048 1441 1060 1429 1048 1416 1040 1392 1061 1395 1065 1425 1052 1451 1066 1394 1053 1403 1057 1431 1072 1459 1064 1431 1065 1400 1068 1440 1073 1448 1077 1378 1059 1424 1060 1424 1079 1456 1056 1406 1067 1441 1069 1397 1084 1418 1070 1402 1056 1388 1079 1428 1077 1406 1064 1442 1063 1391 1078 1445 1074 1441 1054 1445 1055 1394 1053 1408 1060 1440 1070 1423 1067 1411 1061 1439 1050 1436 1064 1408 1066 1382 1047 1393 1068 1445 1063 1421 1070 1431 1070 1418 1061 1407 1082 1408 1072 1395 1078 1390 1072 1413 1073 1426 1073 1410 1069 1447 1083 1432 1100 1429 1073 1407 1090 1413 1105 1399 1079 1395 1086 1430 1085 1437 1097 1446 1105 1382 1083 1421 1079 1443 1080 1437 1096 1368 1086 1409 1079 1386 1074 1401 1088 1420 1097 1405 1093 1432 1101 1423 1094 1382 1108 1432 1097 1414 1084 1439 1092 1420 1093 1434 1087 1429 1095 1408 1114 1425 1112 1388 1120 1414 1117 1400 1113 1380 1104 1387 1124 1425 1099 1432 1128 1397 1126 1414 1122 1434 1098 1379 1123 1419 1127 1422 1139 1418 1138 1400 1126 1434 1115 1397 1143 1406 1130 1397 1118 1394 1123 1381 1128 1379 1139 1376 1118 1379 1136 1375 1124 1392 1120 1421 1131 1392 1138 1429 1114 1428 1137 1391 1125 1386 1128 1395 1129 1393 1131 1402 1126 1365 1137 1392 1120 1394 1129 1424 1134 1391 1132 1377 1140 1377 1151 1407 1126 1396 1138 1377 1159 1425 1144 1382 1138 1384 1160 1446 1173 1416 1163 1413 1152 1408 1156 1408 1164 1424 1138 1382 1161 1378 1162 1423 1149 1377 1142 1406 1149 1410 1137 1430 1168 1372 1126 1392 1150 1407 1138 1391 1148 1410 1147 1408 1159 1366 1139 1381 1173 1385 1149 1421 1154 1376 1175 1424 1154 1393 1163 1424 1161 1374 1142 1412 1148 1370 1157 1402 1154 1419 1163 1412 1171 1397 1161 1396 1175 1375 1150 1365 1149 1369 1174 1399 1166 1407 1172 1419 1163 1377 1174 1385 1162 1390 1157 1394 1172 1395 1171 1359 1164 1361 1175 1407 1173 1385 1155 1374 1160 1355 1159 1393 1179 1381 1164 1379 1185 1352 1171 1391 1170 1399 1178 1383 1192 1392 1195 1384 1176 1364 1195 1372 1182 1377 1189 1367 1182 1343 1189 1346 1195 1369 1178 1396 1172 1372 1178 1341 1192 1334 1190 1394 1190 1373 1175 1383 1184 1333 1173 1378 1166 1353 1178 1379 1192 1371 1179 1347 1179 1356 1165 1328 1168 1340 1169 1358 1174 1378 1172 1331 1189 1361 1180 1343 1186 1326 1178 1372 1175 1334 1178 1373 1180 1370 1207 1317 1190 1365 1185 1335 1198 1333 1199 1321 1195 1370 1202 1349 1201 1347 1189 1372 1210 1315 1181 1363 1210 1345 1194 1333 1200 1361 1218 1312 1189 1315 1201 1312 1205 1354 1209 1348 1223 1374 1194 1314 1202 1327 1203 1342 1205 1313 1219 1359 1188 1349 1190 1361 1208 1369 1188 1330 1206 1332 1197 1365 1193 1331 1190 1370 1197 1348 1205 1314 1194 1366 1199 1358 1193 1360 1194 1322 1203 1346 1212 1370 1217 1310 1207 1337 1209 1330 1209 1314 1211 1346 1211 1350 1220 1357 1226 1339 1235 1334 1214 1326 1223 1335 1205 1326 1210 1316 1237 1333 1213 1371 1223 1365 1237 1345 1242 1329 1212 1307 1238 1348 1218 1356 1221 1308 1236 1363 1221 1324 1224 1289 1249 1345 1248 1313 1255 1362 1252 1308 1259 1310 1246 1316 1233 1361 1238 1357 1230 1332 1260 1360 1247 1342 1229 1341 1241 1301 1253 1355 1230 1307 1234 1322 1243 1354 1254 1347 1251 1332 1238 1303 1241 1315 1251 1323 1261 1330 1249 1326 1251 1300 1243 1372 1237 1297 1250 1339 1258 1333 1239 1321 1250 1325 1239 1341 1240 1353 1246 1357 1253 1353 1266 1325 1236 1352 1250 1322 1256 1308 1249 1296 1243 1304 1235 1339 1253 1339 1244 1322 1251 1344 1243 1341 1238 1304 1252 1299 1258 1310 1264 1345 1244 1324 1244 1298 1268 1314 1247 1323 1267 1313 1278 1307 1268 1348 1282 1307 1279 1295 1267 1348 1279 1315 1279 1312 1272 1314 1282 1305 1289 1339 1283 1321 1282 1315 1275 1321 1289 1335 1285 1349 1291 1346 1269 1342 1271 1356 1275 1322 1271 1357 1276 1308 1273 1308 1274 1374 1293 1306 1293 1350 1269 1296 1292 1298 1267 1345 1269 1348 1276 1354 1288 1317 1293 1314 1302 1328 1284 1306 1282 1340 1292 1340 1299 1340 1282 1307 1305 1352 1290 1319 1288 1315 1304 1311 1293 1329 1295 1348 1287 1305 1285 1296 1285 1328 1298 1300 1283 1328 1307 1297 1299 1306 1310 1298 1309 1327 1312 1308 1303 1299 1310 1339 1301 1301 1288 1329 1305 1292 1301 1342 1312 1344 1312 1293 1298 1309 1293 1341 1317 1327 1317 1313 1321 1328 1296 1277 1298 1345 1317 1328 1313 1345 1320 1335 1327 1342 1301 1295 1324 1308 1304 1341 1310 1345 1308 1327 1304 1307 1309 1307 1321 1325 1302 1303 1321 1321 1301 1359 1311 1314 1296 1306 1317 1294 1331 1338 1309 1284 1310 1309 1311 1319 1309 1319 1322 1323 1314 1321 1309 1330 1328 1308 1320 1291 1318 1277 1332 1289 1309 1335 1330 1273 1318 1273 1330 1282 1335 1287 1333 1333 1334 1277 1329 1307 1326 1306 1346 1277 1342 1320 1329 1306 1324 1274 1354 1311 1348 1311 1345 1304 1355 1291 1360 1287 1350 1282 1352 1266 1345 1310 1346 1323 1350 1322 1360 1268 1335 1316 1349 1300 1362 1293 1332 1306 1356 1259 1360 1311 1332 1280 1342 1294 1356 1279 1341 1265 1338 1283 1339 1258 1327 1291 1351 1265 1340 1271 1337 1276 1356 1270 1344 1310 1363 1276 1353 1287 1335 1307 1341 1294 1339 1303 1344 1274 1335 1289 1366 1248 1354 1299 1342 1272 1339 1276 1335 1295 1355 1296 1337 1280 1352 1255 1360 1302 1346 1300 1360 1261 1349 1264 1362 1296 1368 1289 1354 1275 1360 1274 1354 1294 1350 1297 1357 1290 1379 1262 1353 1279 1381 1292 1383 1291 1353 1272 1366 1255 1367 1260 1377 1277 1366 1257 1356 1271 1381 1234 1382 1262 1375 1244 1355 1222 1368 1270 1365 1261 1377 1256 1352 1279 1369 1268 1359 1262 1349 1274 1368 1283 1353 1261 1358 1264 1368 1286 1353 1283 1357 1242 1346 1236 1364 1237 1368 1253 1378 1265 1356 1283 1365 1243 1365 1265 1385 1278 1385 1256 1390 1249 1387 1277 1377 1233 1369 1260 1387 1217 1377 1262 1363 1271 1385 1232 1374 1256 1381 1257 1393 1222 1386 1243 1384 1247 1383 1250 1376 1237 1379 1225 1385 1270 1398 1249 1392 1210 1377 1269 1399 1230 1377 1226 1409 1264 1392 1250 1402 1218 1386 1240 1403 1215 1389 1237 1398 1234 1402 1257 1409 1258 1401 1268 1405 1220 1383 1251 1399 1227 1381 1213 1404 1213 1408 1258 1391 1258 1390 1240 1394 1208 1385 1255 1397 1214 1394 1222 1399 1221 1402 1261 1396 1223 1419 1226 1407 1258 1401 1223 1416 1246 1411 1239 1409 1225 1403 1230 1396 1252 1425 1213 1407 1226 1424 1203 1433 1222 1416 1236 1427 1244 1422 1197 1426 1212 1438 1235 1430 1212 1436 1245 1418 1206 1414 1222 1414 1222 1437 1210 1441 1209 1438 1248 1417 1190 1413 1227 1419 1206 1433 1184 1442 1241 1412 1244 1438 1222 1424 1237 1426 1241 1433 1196 1445 1193 1429 1180 1444 1216 1433 1214 1435 1207 1443 1207 1449 1237 1428 1194 1457 1213 1446 1227 1457 1229 1445 1199 1441 1197 1437 1230 1467 1239 1442 1191 1468 1223 1462 1209 1473 1198 1451 1210 1444 1177 1463 1217 1447 1218 1465 1225 1446 1213 1465 1214 1459 1225 1456 1233 1465 1194 1465 1176 1440 1218 1457 1227 1438 1208 1457 1179 1460 1196 1453 1196 1432 1192 1437 1167 1441 1197 1441 1187 1466 1229 1458 1165 1446 1225 1451 1200 1458 1206 1463 1180 1446 1192 1457 1177 1448 1184 1456 1178 1446 1218 1464 1218 1460 1163 1439 1164 1455 1162 1442 1202 1458 1214 1466 1159 1466 1168 1468 1163 1448 1215 1457 1167 1474 1207 1467 1184 1475 1202 1454 1191 1454 1184 1466 1188 1452 1164 1474 1196 1460 1190 1465 1155 1466 1184 1457 1196 1480 1170 1480 1189 1461 1192 1482 1206 1479 1181 1462 1159 1471 1157 1471 1158 1453 1192 1459 1209 1467 1184 1458 1175 1471 1146 1474 1164 1473 1181 1481 1156 1472 1180 1484 1155 1476 1189 1484 1161 1476 1196 1489 1162 1474 1185 1467 1172 1471 1185 1471 1163 1471 1168 1483 1189 1487 1162 1479 1194 1475 1156 1469 1179 1498 1164 1463 1151 1466 1174 1472 1142 1464 1127 1490 1146 1456 1129 1469 1121 1474 1143 1455 1165 1460 1134 1485 1131 1486 1129 1488 1165 1497 1162 1484 1116 1471 1134 1482 1144 1466 1169 1489 1133 1495 1120 1494 1130 1477 1145 1480 1132 1495 1117 1490 1129 1493 1147 1491 1113 1487 1147 1486 1136 1479 1111 1484 1153 1475 1145 1480 1099 1491 1118 1497 1097 1489 1151 1473 1108 1483 1145 1478 1138 1495 1099 1500 1098 1477 1143 1488 1145 1474 1140 1484 1140 1491 1083 1481 1141 1500 1116 1494 1140 1482 1138 1498 1132 1484 1120 1511 1126 1493 1119 1514 1100 1494 1147 1519 1105 1509 1110 1509 1131 1497 1131 1499 1088 1503 1106 1487 1107 1503 1124 1484 1101 1486 1122 1504 1137 1496 1066 1500 1131 1502 1087 1499 1103 1495 1090 1492 1120 1477 1074 1475 1088 1496 1112 1483 1104 1492 1099 1479 1080 1483 1101 1488 1072 1486 1104 1477 1119 1486 1111 1504 1085 1479 1108 1475 1102 1509 1116 1500 1092 1507 1060 1485 1077 1506 1060 1498 1113 1513 1071 1512 1071 1513 1088 1520 1054 1519 1101 1524 1086 1524 1055 1508 1082 1520 1099 1521 1054 1523 1079 1493 1108 1490 1073 1501 1112 1486 1088 1492 1098 1482 1092 1483 1051 1476 1117 1501 1098 1476 1100 1503 1065 1485 1073 1492 1092 1500 1107 1504 1081 1490 1069 1518 1070 1506 1057 1506 1101 1498 1091 1509 1085 1505 1079 1496 1060 1513 1095 1505 1063 1510 1064 1509 1102 1518 1052 1514 1064 1522 1067 1494 1096 1496 1064 1501 1070 1498 1082 1507 1090 1508 1042 1497 1039 1512 1074 1496 1093 1502 1048 1489 1072 1497 1041 1516 1060 1498 1055 1493 1046 1519 1082 1504 1033 1522 1076 1522 1027 1509 1034 1511 1061 1509 1029 1499 1025 1522 1073 1510 1058 1511 1036 1526 1036 1500 1028 1515 1093 1496 1062 1495 1063 1508 1020 1521 1060 1508 1030 1520 1037 1509 1013 1517 1062 1505 1049 1509 1052 1508 1033 1493 1061 1494 1008 1500 1051 1479 1045 1510 1055 1493 1025 1496 1053 1486 1055 1510 1034 1509 1056 1503 998 1504 1057 1498 1035 1508 1024 1492 1021 1491 1047 1512 1051 1496 1015 1493 1032 1485 1028 1490 1025 1494 1045 1497 1025 1510 1014 1492 1008 1491 1038 1489 1041 1506 995 1487 1005 1487 993 1495 1030 1503 986 1504 1029 1496 1019 1493 1027 1498 989 1488 1002 1507 1024 1506 980 1490 985 1520 1021 1492 1023 1484 1018 1515 1030 1499 994 1492 976 1500 994 1504 1029 1503 986 1507 1013 1497 999 1502 965 1502 967 1514 977 1490 965 1512 962 1494 988 1500 998 1482 1011 1490 1003 1492 961 1499 1001 1485 957 1469 965 1472 1008 1501 1012 1480 979 1472 982 1498 1005 1474 996 1498 1000 1484 951 1479 977 1487 957 1511 998 1488 948 1502 1003 1501 983 1508 989 1505 978 1509 970 1516 982 1490 971 1517 995 1512 963 1507 942 1490 991 1513 983 1499 969 1500 959 1499 944 1483 941 1497 974 1484 991 1505 1007 1501 945 1491 944 1487 986 1496 985 1485 982 1499 944 1499 982 1493 939 1496 954 1505 984 1502 935 1493 929 1490 929 1497 964 1506 946 1480 959 1489 976 1510 961 1484 981 1509 920 1499 931 1504 946 1503 930 1501 978 1487 946 1497 944 1499 959 1479 940 1483 917 1500 973 1503 969 1492 960 1508 935 1486 964 1494 971 1509 932 1499 944 1494 919 1483 924 1475 948 1504 928 1510 904 1495 952 1484 962 1502 947 1481 906 1490 953 1493 920 1495 927 1504 909 1484 954 1489 917 1480 909 1478 915 1500 911 1485 938 1493 956 1476 943 1483 909 1485 949 1493 949 1501 956 1501 895 1480 912 1491 892 1480 898 1481 918 1492 897 1484 910 1504 933 1496 899 1507 896 1505 923 1504 890 1486 937 1504 905 1483 929 1506 901 1502 905 1509 907 1498 889 1512 897 1513 925 1491 901 1484 920 1490 901 1503 890 1506 879 1496 885 1497 889 1498 871 1487 931 1499 911 1495 928 1498 901 1493 872 1492 922 1483 916 1484 895 1493 868 1496 858 1490 871 1482 934 1496 900 1481 883 1487 894 1498 922 1513 883 1492 863 1515 899 1510 877 1509 868 1520 908 1506 911 1517 882 1495 916 1500 866 1496 893 1494 896 1508 872 1497 916 1489 880 1506 867 1507 870 1495 908 1499 897 1513 883 1514 894 1505 894 1515 913 1498 906 1491 881 1501 902 1520 853 1496 897 1497 903 1500 907 1515 902 1526 904 1498 861 1524 869 1526 872 1527 901 1518 903 1521 874 1522 865 1493 893 1495 888 1518 865 1505 843 1504 869 1492 855 1478 837 1489 846 1484 869 1484 895 1498 871 1504 843 1484 878 1476 874 1471 829 1477 853 1470 888 1473 876 1486 852 1483 887 1485 833 1498 824 1483 835 1499 841 1512 857 1506 827 1492 823 1498 842 1518 861 1521 860 1518 853 1501 819 1515 859 1497 857 1522 835 1519 856 1510 860 1524 825 1501 820 1501 834 1510 817 1517 839 1506 852 1498 822 1504 826 1519 857 1500 813 1495 808 1508 831 1516 819 1511 826 1491 828 1495 813 1510 862 1505 788 1474 805 1496 849 1494 837 1504 813 1508 807 1483 843 1493 815 1481 852 1501 816 1508 816 1483 841 1505 809 1490 796 1513 844 1508 843 1498 853 1505 808 1498 841 1502 832 1499 803 1509 844 1487 846 1513 811 1495 842 1516 819 1493 856 1521 817 1494 792 1504 839 1497 806 1524 799 1512 808 1502 839 1501 779 1500 806 1504 797 1512 790 1521 795 1522 808 1503 822 1522 780 1509 825 1507 797 1521 825 1520 828 1500 795 1498 828 1514 788 1487 794 1491 786 1494 796 1487 813 1492 774 1473 819 1495 768 1502 821 1497 779 1473 785 1483 772 1490 773 1499 771 1480 784 1499 774 1509 805 1499 770 1495 786 1504 808 1488 796 1489 767 1503 765 1511 790 1485 807 1497 743 1489 782 1507 792 1493 792 1499 776 1496 774 1493 781 1475 766 1500 752 1480 748 1503 768 1473 799 1489 731 1489 805 1476 753 1503 796 1485 791 1505 780 1486 795 1497 753 1487 797 1504 753 1509 774 1501 773 1484 747 1511 741 1492 749 1501 782 1491 763 1504 759 1476 731 1496 778 1513 731 1508 733 1497 732 1487 739 1497 778 1497 782 1491 763 1488 743 1491 722 1512 733 1485 736 1483 754 1501 766 1507 774 1497 762 1484 720 1494 769 1516 772 1498 746 1515 740 1512 729 1496 770 1513 759 1503 716 1507 768 1499 749 1512 769 1514 724 1493 752 1495 748 1506 762 1496 717 1510 755 1488 720 1506 716 1499 727 1489 711 1484 758 1478 706 1490 744 1492 723 1496 699 1484 737 1476 743 1468 714 1472 748 1486 742 1495 750 1478 714 1486 707 1490 687 1507 701 1491 740 1483 697 1503 742 1497 718 1512 740 1491 686 1506 728 1498 716 1502 740 1502 719 1493 729 1483 698 1501 691 1494 664 1496 695 1482 717 1498 734 1505 711 1501 722 1505 736 1503 718 1492 693 1485 675 1507 678 1488 691 1504 724 1479 686 1488 673 1509 675 1514 718 1506 693 1494 712 1515 733 1517 684 1485 732 1518 672 1489 702 1498 693 1502 676 1508 669 1497 691 1504 701 1521 688 1493 684 1499 718 1500 714 1521 693 1495 722 1492 670 1502 719 1495 704 1508 726 1498 708 1515 690 1498 720 1487 712 1505 700 1506 707 1492 687 1513 669 1493 661 1495 696 1521 658 1493 712 1512 715 1498 693 1503 677 1499 664 1499 688 1509 665 1492 662 1507 686 1498 709 1501 668 1506 683 1506 679 1512 688 1499 690 1493 679 1491 651 1523 684 1484 695 1507 665 1512 698 1483 696 1499 691 1500 648 1498 666 1498 697 1483 647 1478 656 1497 681 1506 688 1490 642 1488 668 1506 635 1492 685 1501 642 1476 693 1502 639 1481 642 1492 663 1493 671 1474 662 1480 640 1500 671 1471 681 1472 678 1492 677 1490 680 1471 675 1468 655 1478 620 1482 654 1480 649 1477 676 1490 652 1476 664 1475 636 1488 644 1503 637 1504 634 1488 611 1497 669 1509 644 1493 617 1500 632 1485 618 1512 622 1492 615 1496 612 1515 640 1509 594 1519 623 1486 607 1496 647 1507 608 1513 605 1514 628 1511 595 1490 648 1494 632 1509 615 1486 606 1478 595 1495 584 1486 640 1478 614 1487 610 1481 602 1481 589 1475 622 1486 615 1492 622 1495 587 1506 618 1483 628 1484 622 1482 570 1511 601 1490 596 1498 622 1511 603 1499 579 1515 622 1493 610 1487 580 1499 624 1497 596 1506 601 1505 617 1506 563 1492 577 1484 607 1500 606 1495 575 1473 569 1481 566 1483 600 1495 589 1481 608 1492 593 1486 559 1502 595 1483 624 1475 576 1485 563 1500 554 1483 556 1485 587 1513 575 1513 575 1494 566 1506 586 1494 527 1519 555 1516 555 1502 568 1508 582 1516 598 1517 540 1505 545 1496 538 1503 587 1516 586 1490 546 1498 582 1498 557 1492 542 1514 555 1498 575 1495 591 1487 540 1486 549 1478 541 1498 571 1482 536 1485 535 1495 572 1479 564 1486 570 1508 581 1494 549 1484 562 1505 522 1495 556 1500 564 1485 529 1474 560 1503 542 1494 567 1499 533 1497 549 1485 528 1491 514 1500 527 1502 562 1493 575 1513 526 1507 515 1499 535 1495 564 1491 550 1496 512 1483 509 1503 556 1493 553 1506 515 1499 507 1494 548 1476 549 1484 549 1479 556 1488 531 1496 536 1472 525 1497 539 1477 552 1504 536 1499 510 1492 523 1492 504 1478 512 1481 514 1504 554 1488 505 1488 536 1485 493 1507 509 1502 544 1507 516 1494 508 1505 544 1488 512 1486 516 1493 489 1489 533 1482 545 1494 523 1495 511 1479 519 1469 536 1477 529 1469 495 1495 506 1469 495 1498 485 1482 496 1489 520 1493 497 1490 531 1484 486 1482 528 1479 507 1493 523 1495 515 1507 491 1477 517 1504 521 1486 482 1486 474 1483 534 1491 513 1502 478 1482 481 1503 481 1502 489 1502 480 1486 513 1503 501 1517 491 1508 518 1515 514 1506 478 1507 514 1494 486 1514 502 1501 473 1495 504 1511 469 1507 479 1504 514 1494 514 1510 510 1515 489 1493 512 1506 524 1511 499 1496 499 1516 509 1527 493 1506 475 1521 486 1515 493 1517 471 1514 498 1524 498 1507 498 1528 459 1500 510 1502 469 1516 506 1497 496 1513 478 1525 502 1505 468 1504 453 1507 506 1506 468 1505 461 1490 509 1516 502 1499 458 1486 480 1487 466 1483 493 1480 490 1505 481 1478 489 1500 498 1486 454 1492 478 1487 498 1492 489 1494 473 1502 500 1495 442 1492 454 1495 482 1495 484 1506 482 1498 442 1490 499 1511 441 1497 456 1505 444 1504 486 1505 446 1491 445 1496 490 1496 453 1485 483 1482 482 1499 442 1513 464 1482 453 1492 437 1494 437 1499 472 1488 473 1481 477 1484 463 1499 460 1491 455 1486 441 1476 434 1496 418 1500 445 1492 463 1492 470 1493 457 1498 416 1483 431 1506 465 1505 465 1472 431 1483 429 1505 417 1494 454 1492 456 1501 410 1493 421 1508 453 1493 447 1511 402 1498 421 1498 444 1513 444 1512 428 1494 425 1481 394 1502 425 1504 446 1509 405 1511 433 1516 397 1525 457 1506 399 1496 447 1504 439 1506 394 1496 387 1495 417 1494 416 1520 381 1516 433 1514 378 1498 391 1514 413 1503 424 1503 394 1515 417 1513 367 1502 404 1520 382 1500 412 1508 421 1502 400 1520 383 1515 413 1491 387 1514 406 1485 373 1501 392 1494 428 1506 413 1481 402 1483 372 1480 390 1492 395 1486 391 1476 389 1487 424 1493 409 1509 390 1493 421 1487 405 1490 405 1513 355 1493 378 1495 376 1513 399 1497 400 1512 375 1501 363 1506 355 1509 412 1487 377 1500 374 1497 363 1493 397 1508 361 1495 378 1489 382 1507 354 1506 354 1507 382 1495 382 1492 380 1491 406 1519 377 1498 381 1504 394 1520 355 1523 373 1520 353 1503 377 1503 385 1520 364 1516 382 1518 380 1507 341 1526 390 1519 346 1513 394 1514 348 1493 338 1499 345 1491 346 1507 355 1496 386 1516 377 1500 330 1489 386 1495 385 1487 379 1492 350 1498 370 1502 379 1498 388 1515 339 1499 372 1515 384 1503 334 1515 358 1513 359 1519 344 1493 379 1500 348 1506 347 1499 333 1519 361 1522 351 1519 334 1513 339 1503 304 1511 364 1516 358 1512 363 1507 343 1499 376 1497 333 1500 327 1513 350 1496 324 1498 318 1497 323 1519 349 1502 360 1505 327 1497 325 1508 339 1502 364 1502 333 1503 360 1504 347 1505 343 1512 355 1519 356 1525 315 1516 366 1506 314 1506 335 1514 322 1514 339 1496 342 1513 328 1523 320 1504 320 1500 319 1503 315 1516 353 1516 326 1509 334 1515 340 1493 329 1493 321 1523 315 1512 290 1496 329 1512 315 1501 326 1502 339 1499 355 1495 320 1510 290 1505 307 1482 334 1504 311 1506 319 1498 284 1509 319 1491 291 1491 286 1488 304 1510 298 1496 315 1495 348 1508 333 1519 318 1495 297 1506 301 1499 292 1516 327 1501 287 1500 272 1499 264 1496 313 1500 303 1487 280 1491 316 1500 263 1499 313 1485 260 1501 314 1507 284 1497 290 1511 262 1492 264 1502 310 1487 266 1518 313 1487 282 1499 251 1511 257 1513 261 1489 276 1496 307 1498 309 1494 304 1487 304 1496 280 1498 265 1498 243 1503 298 1495 262 1508 266 1487 245 1512 301 1493 258 1516 249 1491 280 1514 283 1503 256 1494 268 1522 242 1493 282 1505 245 1514 240 1491 279 1489 283 1510 293 1494 268 1498 286 1479 274 1488 282 1495 236 1477 285 1486 275 1493 222 1490 289 1485 248 1500 234 1476 215 1473 251 1473 271 1505 281 1504 251 1503 260 1480 233 1492 275 1507 230 1485 279 1499 255 1500 279 1485 244 1503 227 1489 228 1502 228 1492 267 1501 256 1513 248 1486 224 1503 272 1516 217 1491 230 1494 221 1493 239 1499 250 1521 252 1497 211 1495 249 1494 231 1507 222 1512 248 1503 250 1497 231 1499 230 1518 256 1513 206 1495 233 1514 243 1485 253 1499 199 1495 201 1483 218 1501 192 1508 221 1501 192 1490 193 1487 235 1476 242 1484 192 1502 208 1512 217 1498 191 1480 202 1482 196 1482 212 1508 212 1490 185 1488 248 1492 183 1509 226 1513 237 1515 224 1511 185 1493 181 1489 186 1486 182 1497 184 1489 229 1507 244 1492 201 1494 219 1504 197 1485 223 1509 229 1483 225 1472 190 1502 211 1483 219 1500 182 1490 182 1501 193 1491 163 1491 179 1503 192 1481 218 1491 196 1519 213 1484 196 1498 167 1501 186 1506 185 1492 178 1514 160 1489 200 1507 213 1515 185 1506 178 1494 149 1485 183 1508 153 1502 203 1503 198 1515 208 1510 226 1496 168 1499 158 1497 166 1506 202 1505 202 1500 150 1495 202 1497 192 1493 162 1487 172 1482 153 1499 184 1485 186 1500 184 1499 177 1505 181 1497 152 1483 174 1503 185 1504 167 1506 157 1487 145 1478 179 1486 144 1480 150 1505 189 1504 187 1508 158 1500 186 1481 141 1510 176 1502 166 1499 180 1515 128 1498 178 1509" stroke="#089e74" fill="none"/>
<path d="M192 1522L177 1511 166 1524 201 1509 168 1499 188 1508 191 1516 195 1500 204 1494 189 1516 215 1498 209 1495 171 1497 218 1510 204 1500 211 1506 212 1490 220 1512 186 1487 191 1501 194 1490 226 1499 185 1492 210 1489 217 1493 229 1499 228 1485 221 1498 220 1478 217 1478 224 1499 229 1494 207 1480 198 1488 216 1482 234 1482 237 1497 213 1475 238 1482 237 1494 232 1475 219 1481 208 1473 215 1476 223 1489 202 1489 211 1482 205 1487 246 1471 233 1482 205 1475 238 1482 242 1479 249 1487 243 1480 244 1480 203 1485 233 1474 203 1469 202 1474 235 1482 228 1476 229 1473 220 1475 207 1469 241 1473 208 1474 209 1472 211 1480 255 1478 219 1465 216 1473 228 1454 241 1470 213 1455 261 1463 261 1465 225 1444 243 1463 227 1466 247 1443 246 1445 218 1451 219 1458 240 1454 227 1462 223 1451 232 1462 246 1467 220 1471 247 1454 242 1466 229 1470 231 1462 254 1459 257 1466 268 1448 230 1462 230 1444 242 1434 242 1462 271 1457 231 1445 252 1441 247 1431 235 1443 226 1452 266 1442 257 1447 224 1450 263 1459 229 1457 252 1464 231 1458 252 1449 241 1449 223 1458 271 1458 233 1464 240 1448 275 1460 240 1448 271 1447 277 1455 255 1458 248 1445 273 1444 275 1436 235 1438 262 1434 269 1454 261 1432 274 1445 236 1446 283 1446 231 1450 235 1433 261 1451 242 1441 260 1438 262 1454 288 1438 257 1454 246 1451 271 1440 258 1433 281 1438 245 1430 266 1438 254 1450 263 1460 280 1428 252 1429 295 1427 263 1435 272 1450 271 1440 286 1449 277 1433 287 1453 271 1442 285 1433 270 1439 282 1433 305 1431 307 1441 299 1450 262 1445 299 1427 280 1431 271 1427 280 1438 305 1431 267 1432 260 1433 296 1424 318 1422 280 1435 311 1429 295 1422 293 1426 304 1427 278 1444 288 1429 280 1436 275 1437 308 1437 274 1428 291 1423 315 1426 269 1416 267 1425 268 1437 271 1414 311 1412 299 1428 291 1422 272 1429 317 1428 288 1446 319 1418 282 1439 319 1444 279 1420 322 1422 265 1420 311 1436 277 1434 275 1435 324 1427 277 1438 327 1423 277 1413 327 1408 313 1421 327 1427 278 1427 304 1412 322 1408 322 1411 325 1410 321 1426 320 1414 309 1416 331 1422 330 1414 324 1412 277 1429 309 1405 292 1418 334 1410 287 1403 320 1400 333 1422 291 1418 330 1401 301 1404 332 1418 341 1411 321 1398 311 1407 305 1409 342 1414 345 1407 305 1399 340 1399 343 1402 340 1399 322 1412 298 1388 350 1415 301 1390 325 1386 345 1399 349 1409 301 1407 364 1387 333 1399 355 1411 316 1403 346 1395 321 1395 335 1399 334 1402 321 1391 329 1386 316 1390 328 1385 326 1388 355 1382 336 1390 353 1400 356 1396 368 1403 359 1405 361 1401 328 1384 349 1408 332 1388 366 1400 337 1383 347 1386 342 1397 360 1384 368 1380 328 1377 367 1377 343 1384 371 1382 358 1389 373 1388 348 1388 340 1386 360 1385 358 1375 389 1388 368 1374 349 1380 359 1382 349 1392 345 1384 355 1373 386 1388 363 1392 359 1387 396 1387 388 1375 348 1382 379 1382 384 1392 383 1377 371 1380 390 1382 352 1386 364 1378 387 1369 367 1383 355 1370 391 1373 395 1374 376 1356 386 1355 366 1375 353 1354 397 1367 391 1346 349 1351 400 1371 368 1349 359 1347 391 1353 354 1366 374 1365 381 1362 356 1359 408 1357 364 1384 383 1379 390 1366 365 1383 395 1383 371 1370 360 1385 366 1384 388 1366 404 1363 348 1371 393 1367 380 1379 361 1375 372 1363 406 1370 404 1377 364 1365 394 1365 380 1354 404 1358 363 1350 391 1354 374 1360 403 1346 389 1364 408 1357 410 1350 373 1365 370 1358 388 1353 412 1367 406 1364 369 1367 412 1352 387 1355 380 1357 389 1351 395 1361 397 1365 398 1347 390 1368 419 1344 383 1350 382 1340 406 1349 377 1365 399 1363 400 1359 424 1338 382 1359 391 1347 426 1335 409 1350 385 1340 386 1347 418 1366 387 1355 424 1342 431 1354 397 1357 418 1375 395 1354 421 1349 415 1343 417 1360 400 1362 422 1353 394 1337 398 1355 435 1349 439 1346 430 1342 400 1354 437 1336 411 1334 428 1354 421 1341 409 1333 408 1332 435 1344 449 1342 452 1346 415 1334 415 1350 437 1344 406 1353 457 1353 456 1340 472 1330 438 1349 438 1336 459 1327 429 1321 433 1341 457 1329 455 1325 434 1332 428 1320 443 1318 458 1322 460 1334 465 1341 459 1328 436 1317 430 1325 451 1315 425 1317 474 1340 477 1325 449 1329 449 1331 435 1320 434 1328 462 1314 454 1323 451 1325 429 1320 438 1315 473 1312 438 1322 432 1326 468 1314 418 1313 457 1331 457 1311 421 1329 449 1322 440 1309 463 1305 436 1319 453 1307 485 1327 472 1312 437 1311 471 1317 454 1315 456 1327 473 1325 481 1327 470 1316 455 1321 484 1312 484 1301 444 1299 459 1320 464 1307 490 1303 446 1312 439 1290 483 1292 481 1288 505 1292 471 1304 479 1301 478 1294 445 1313 489 1295 495 1305 477 1305 462 1303 483 1291 457 1312 447 1309 473 1307 486 1302 486 1304 480 1302 476 1308 468 1308 502 1286 448 1303 458 1302 469 1293 451 1299 453 1288 509 1296 493 1292 468 1292 480 1279 472 1294 456 1293 490 1297 502 1297 494 1282 458 1278 491 1278 464 1295 474 1297 488 1284 453 1285 453 1281 484 1294 459 1277 473 1286 480 1280 468 1274 468 1269 472 1291 479 1273 505 1271 511 1270 499 1260 489 1270 468 1273 497 1257 503 1258 481 1259 474 1278 508 1264 502 1257 471 1271 472 1257 491 1254 499 1260 468 1259 484 1264 521 1256 475 1268 504 1275 506 1266 473 1266 510 1262 504 1259 496 1253 517 1269 485 1254 527 1258 497 1268 527 1270 531 1266 516 1245 536 1244 517 1261 532 1253 504 1255 495 1240 501 1258 536 1246 477 1230 496 1246 474 1254 532 1234 489 1233 539 1244 512 1227 499 1236 507 1239 538 1250 524 1249 512 1241 527 1247 532 1246 527 1244 520 1248 499 1250 522 1252 539 1251 510 1252 504 1240 495 1253 543 1229 509 1250 515 1233 501 1228 503 1235 523 1227 530 1240 528 1231 526 1235 519 1235 517 1224 524 1216 503 1232 499 1226 523 1235 524 1234 514 1220 515 1222 500 1226 508 1235 531 1232 558 1232 548 1227 556 1240 522 1225 558 1244 555 1223 521 1238 535 1235 551 1214 538 1217 558 1230 553 1219 532 1218 552 1222 540 1231 534 1229 541 1209 523 1212 515 1227 562 1217 546 1217 519 1228 568 1232 520 1207 546 1207 538 1213 550 1229 521 1220 519 1211 510 1220 549 1207 557 1213 523 1219 526 1223 573 1229 526 1232 563 1229 542 1216 542 1228 531 1225 572 1229 557 1219 552 1208 527 1232 566 1226 538 1227 546 1220 560 1233 541 1232 560 1232 563 1231 545 1228 570 1211 552 1210 555 1219 578 1207 571 1204 556 1216 570 1208 550 1212 558 1202 555 1190 567 1187 549 1209 586 1199 578 1202 577 1188 547 1191 581 1207 560 1197 539 1196 540 1207 583 1200 586 1186 579 1190 583 1195 557 1194 564 1184 572 1209 594 1189 561 1202 587 1213 594 1199 556 1200 585 1194 590 1193 570 1181 593 1185 578 1185 593 1191 587 1200 574 1180 553 1186 576 1182 568 1175 572 1181 551 1186 582 1184 548 1171 576 1190 551 1184 549 1171 568 1171 580 1168 587 1174 580 1163 559 1185 581 1174 582 1174 571 1177 594 1168 600 1182 583 1190 573 1179 591 1190 579 1187 559 1177 558 1190 601 1171 602 1185 606 1198 584 1194 597 1178 557 1176 563 1176 568 1189 566 1167 610 1174 567 1185 576 1180 551 1171 613 1172 588 1158 600 1168 589 1166 580 1157 589 1177 605 1174 597 1154 597 1165 607 1158 599 1159 592 1152 598 1162 603 1152 599 1156 569 1164 596 1142 606 1159 572 1149 574 1165 577 1163 597 1149 621 1162 622 1139 577 1138 577 1162 607 1147 584 1149 600 1154 593 1164 593 1149 632 1146 582 1143 623 1143 609 1154 619 1148 622 1156 603 1141 627 1148 603 1150 589 1137 623 1133 599 1130 629 1142 638 1145 620 1142 625 1125 604 1122 631 1128 629 1141 656 1121 639 1132 591 1141 597 1127 635 1133 620 1139 645 1141 643 1141 612 1129 603 1116 649 1119 598 1128 619 1141 604 1122 610 1118 619 1136 637 1130 641 1137 611 1130 609 1131 639 1141 624 1124 643 1125 626 1144 631 1137 652 1122 611 1146 616 1137 657 1121 659 1130 652 1126 645 1132 616 1113 665 1120 654 1118 666 1130 613 1141 633 1130 667 1128 657 1137 630 1129 640 1123 648 1134 651 1114 655 1119 663 1120 641 1118 653 1132 639 1128 651 1134 662 1126 643 1136 623 1136 631 1109 658 1122 655 1131 655 1114 672 1126 639 1109 662 1112 637 1107 657 1107 627 1123 637 1125 686 1102 623 1113 650 1100 674 1103 633 1115 652 1103 621 1108 644 1109 672 1097 655 1098 672 1119 668 1113 653 1104 676 1111 654 1095 676 1105 665 1106 658 1118 637 1113 639 1115 621 1107 649 1086 653 1095 676 1099 637 1107 656 1089 646 1083 626 1091 643 1087 630 1090 648 1097 650 1101 639 1082 661 1086 651 1101 674 1089 676 1091 667 1109 645 1083 667 1090 668 1090 651 1086 684 1096 671 1097 680 1105 634 1085 691 1090 679 1086 681 1082 638 1089 646 1105 675 1077 696 1078 647 1086 670 1096 664 1094 656 1082 694 1100 645 1072 686 1072 685 1086 648 1073 700 1079 678 1087 679 1064 706 1073 690 1067 705 1085 694 1086 669 1063 689 1062 662 1088 694 1069 673 1086 701 1092 705 1073 689 1087 657 1084 705 1087 693 1100 684 1099 685 1085 690 1100 696 1082 663 1094 663 1087 710 1104 691 1084 700 1092 683 1100 688 1085 658 1074 681 1091 675 1087 702 1103 681 1080 681 1074 686 1083 718 1079 707 1095 695 1094 691 1089 708 1086 699 1088 705 1085 674 1087 698 1091 683 1070 686 1083 720 1064 706 1062 698 1077 707 1080 719 1087 726 1080 713 1084 727 1065 700 1081 693 1072 712 1068 723 1069 725 1073 673 1067 679 1064 678 1061 692 1065 678 1080 724 1054 709 1060 727 1054 695 1052 714 1077 702 1060 702 1072 730 1059 681 1050 708 1070 727 1051 696 1066 693 1058 702 1072 721 1067 708 1046 711 1072 694 1071 686 1057 720 1052 721 1068 703 1069 716 1073 724 1067 730 1062 699 1046 697 1047 712 1046 722 1062 732 1056 737 1032 748 1032 731 1053 706 1043 701 1040 727 1036 739 1036 735 1034 713 1021 721 1020 723 1045 717 1032 752 1040 760 1037 756 1025 753 1051 706 1021 740 1037 764 1040 728 1035 747 1016 724 1038 723 1022 713 1023 765 1018 750 1039 745 1017 728 1031 764 1033 748 1018 768 1019 722 1022 735 1035 727 1040 730 1036 756 1041 728 1040 752 1023 730 1022 775 1040 759 1023 778 1021 773 1021 780 1032 780 1029 748 1034 726 1024 772 1035 739 1018 765 1016 781 1005 743 1011 752 1004 757 1001 734 995 774 1014 776 1021 786 1004 782 993 787 1008 748 1007 738 1004 768 993 754 999 789 1019 757 1018 759 999 748 1026 796 1009 728 1017 757 1037 753 1003 775 1017 795 1025 789 1014 745 1013 785 1007 755 1006 759 1013 780 999 768 1020 746 1015 756 1001 791 1005 748 1018 821 1007 751 1018 803 996 796 1012 756 1010 749 993 762 994 778 1002 781 1003 747 1003 783 978 759 980 825 998 809 984 799 1001 783 992 799 984 795 1004 756 1005 780 1000 760 993 797 1000 795 983 785 990 802 987 807 1008 768 1002 758 995 773 1004 781 986 774 989 754 981 801 980 764 991 789 977 791 975 802 992 788 973 806 984 801 996 770 992 752 994 784 974 765 1000 786 971 808 992 773 972 788 978 795 971 754 991 812 971 806 971 803 971 788 978 808 965 762 960 762 981 793 970 802 977 768 962 807 975 801 957 804 983 782 972 798 979 800 968 803 977 804 950 772 982 787 976 800 962 806 952 795 961 811 956 807 972 778 975 791 983 780 956 817 954 829 953 795 975 800 967 788 976 788 952 818 969 822 955 800 962 793 959 798 959 808 961 763 965 822 960 806 964 801 962 795 965 837 957 798 966 799 941 817 949 825 954 785 958 826 946 792 948 820 972 796 948 785 952 806 968 802 951 839 960 819 959 837 970 851 956 810 975 808 967 798 950 804 958 853 956 802 944 833 955 850 964 835 956 853 959 857 952 821 954 855 940 844 945 801 962 815 937 863 936 807 958 844 933 837 948 814 928 849 947 834 925 857 923 833 943 862 955 811 925 864 929 869 943 869 928 834 942 830 922 841 942 871 939 865 950 877 936 825 936 819 938 841 938 832 943 874 921 881 915 838 918 881 907 826 932 871 922 823 917 865 902 835 905 884 928 850 920 846 924 870 913 864 908 876 927 876 924 878 919 852 919 880 929 834 931 833 917 863 915 863 921 833 912 879 925 878 923 854 911 872 928 832 913 860 921 878 932 871 904 896 921 885 898 842 909 869 918 889 909 844 906 859 900 863 915 845 899 890 887 893 915 840 897 886 893 849 909 865 900 862 906 880 895 871 900 870 905 889 901 908 907 910 910 847 885 871 907 885 881 865 885 896 884 869 908 869 880 901 893 858 906 909 882 905 882 858 897 890 889 878 880 858 897 899 902 888 889 914 896 903 896 861 902 923 905 871 880 908 896 862 886 901 891 869 888 867 897 889 896 898 871 884 895 891 895 877 884 898 867 930 874 870 880 896 862 929 858 912 884 902 854 913 875 895 854 933 858 924 857 925 875 935 864 904 850 907 877 934 874 903 861 902 860 887 856 899 858 937 874 894 864 925 862 906 860 922 874 951 890 928 883 899 862 924 868 941 875 926 856 904 860 929 869 939 882 899 857 922 856 915 867 903 865 905 857 925 864 953 843 907 854 958 846 917 862 911 863 954 842 941 857 944 837 955 841 906 847 934 861 960 843 942 834 948 850 926 849 961 839 940 856 914 842 949 827 903 854 962 833 949 850 912 846 949 837 921 855 945 842 938 843 953 833 916 838 913 848 902 831 965 847 952 827 966 855 964 855 927 857 921 848 971 830 929 834 932 855 943 844 963 845 917 856 970 861 924 835 926 855 957 861 951 850 951 834 940 855 908 849 937 834 924 839 953 840 940 839 936 852 966 839 960 827 942 852 930 837 964 844 953 835 934 850 918 832 913 830 918 846 956 846 961 837 916 839 948 818 966 828 932 816 954 834 962 825 950 820 944 840 969 828 947 820 979 832 946 814 931 824 928 829 913 809 958 811 914 835 977 835 971 831 946 816 979 827 943 843 951 821 972 809 942 816 969 830 965 818 943 814 965 824 977 814 976 791 949 831 963 814 964 822 983 810 986 829 951 821 942 819 959 800 931 819 941 818 964 807 976 818 986 802 922 805 958 820 933 798 955 806 978 819 932 822 985 805 950 793 969 803 988 815 987 801 974 795 989 806 981 798 967 812 1005 815 992 813 960 796 996 807 987 816 945 797 968 784 1012 806 1010 811 967 807 976 782 1001 804 975 798 979 798 994 783 994 802 960 803 1006 809 994 801 962 780 973 796 1019 795 1017 809 981 794 961 784 963 783 1027 790 1004 802 1017 810 979 806 981 801 961 785 991 800 947 780 1002 769 986 800 1022 775 1003 772 982 775 1025 772 974 775 1001 785 1035 761 953 791 1026 779 1005 779 1008 765 1023 776 1005 776 1009 791 967 782 970 778 985 796 1017 784 986 778 1000 784 1037 788 984 758 973 774 1039 767 1007 776 974 788 1002 777 1023 797 992 799 971 770 971 790 983 790 983 769 956 772 983 762 1000 768 1042 771 985 776 1016 773 1019 748 998 746 997 774 1000 754 1046 766 1041 763 999 746 978 745 1020 749 1041 750 1002 754 979 764 993 744 1035 742 1022 745 1055 740 984 732 998 709 993 720 1044 718 1043 715 1008 734 1020 723 1044 737 1039 721 1057 734 989 727 991 736 1021 733 1028 727 1009 735 1050 734 1060 724 1008 724 1052 713 1072 717 1024 737 1009 708 1060 724 1025 714 1044 738 1036 734 1028 726 1070 727 1023 720 1071 737 1059 726 1072 718 1008 723 1072 719 1051 721 1064 740 1014 717 1044 742 1056 744 1050 744 1048 728 1066 742 1076 743 1039 736 1037 729 1058 721 1056 726 1028 715 1043 744 1030 746 1051 728 1044 734 1027 722 1062 724 1016 742 1067 738 1004 747 1022 737 1022 736 1048 737 1021 716 1005 712 1023 702 1045 709 1066 686 1021 715 1008 692 1039 715 1072 724 1014 710 1068 701 1012 714 1045 706 1081 702 1081 693 1000 722 1018 709 1061 710 1051 703 1078 687 1016 705 1066 691 1071 706 1063 692 1013 708 1016 707 1031 689 1028 679 1072 684 1078 697 1065 700 1078 698 1048 702 1064 708 1073 701 1056 698 1049 701 1028 694 1045 695 1058 694 1029 686 1062 701 1057 705 1009 687 1079 679 1035 698 1066 691 1036 676 1022 701 1044 689 1097 696 1090 679 1025 695 1089 700 1095 669 1095 695 1079 693 1097 681 1092 668 1047 669 1098 672 1043 667 1093 684 1054 668 1102 681 1107 687 1057 674 1063 675 1095 678 1084 673 1073 661 1058 659 1056 680 1074 689 1086 683 1061 695 1057 685 1108 691 1099 675 1112 699 1046 681 1028 697 1058 699 1064 691 1104 690 1109 699 1098 690 1062 689 1077 672 1027 694 1062 659 1068 688 1075 661 1107 658 1069 656 1054 684 1118 656 1108 658 1108 659 1076 656 1099 662 1121 665 1092 666 1101 664 1052 665 1053 658 1101 673 1083 669 1119 657 1081 659 1073 657 1083 659 1074 674 1078 650 1096 668 1109 643 1129 672 1063 665 1098 645 1083 662 1106 649 1061 654 1059 645 1075 653 1114 651 1072 665 1070 656 1119 684 1130 646 1108 653 1093 660 1060 651 1081 675 1090 668 1096 642 1132 660 1075 684 1100 666 1076 668 1118 657 1090 638 1083 654 1113 669 1104 651 1117 646 1048 666 1108 648 1083 639 1084 658 1081 644 1120 652 1107 641 1121 649 1102 633 1140 644 1143 645 1096 645 1071 632 1081 653 1120 651 1104 651 1082 635 1127 646 1092 637 1146 649 1077 646 1132 646 1087 646 1081 640 1098 661 1099 659 1129 625 1127 651 1107 623 1123 652 1079 653 1091 642 1107 631 1140 648 1086 641 1141 644 1106 636 1101 651 1153 643 1156 631 1095 623 1133 636 1126 636 1114 625 1139 607 1158 616 1124 635 1178 615 1146 628 1148 621 1141 602 1105 612 1145 620 1167 597 1158 601 1160 619 1161 626 1148 610 1099 620 1165 610 1127 627 1111 610 1153 623 1153 622 1162 585 1148 598 1155 601 1114 625 1170 619 1153 593 1127 619 1169 616 1150 599 1133 627 1151 608 1187 597 1182 599 1117 592 1116 599 1177 621 1183 606 1150 614 1147 612 1164 601 1169 616 1174 613 1150 604 1174 588 1164 600 1147 603 1180 580 1173 588 1137 613 1198 605 1147 595 1142 588 1181 615 1183 600 1140 578 1193 609 1186 605 1156 603 1193 584 1136 609 1143 590 1142 580 1131 601 1201 610 1179 598 1171 604 1134 608 1175 583 1160 573 1207 598 1162 597 1160 601 1151 574 1208 597 1186 593 1177 589 1158 568 1147 567 1173 574 1178 561 1213 577 1191 571 1208 570 1206 552 1153 574 1174 593 1155 562 1188 562 1190 567 1162 578 1223 579 1168 552 1182 574 1161 572 1192 557 1159 559 1162 560 1156 575 1215 586 1171 568 1185 554 1175 577 1230 572 1219 577 1144 554 1163 572 1168 565 1190 555 1192 561 1168 552 1202 555 1158 545 1193 571 1191 544 1170 569 1200 573 1192 541 1168 572 1184 552 1222 552 1216 570 1218 566 1223 541 1210 552 1193 567 1240 541 1196 568 1194 555 1223 566 1189 568 1209 540 1228 543 1205 567 1187 567 1207 538 1193 565 1230 540 1177 561 1193 548 1234 567 1226 565 1185 566 1204 543 1225 532 1212 549 1193 543 1186 535 1250 541 1249 541 1203 533 1227 541 1182 537 1240 564 1224 565 1243 551 1255 544 1251 539 1234 564 1253 559 1202 559 1232 533 1238 543 1180 545 1224 532 1192 530 1206 538 1244 547 1241 545 1216 549 1206 553 1210 555 1245 548 1200 557 1212 532 1201 540 1230 525 1243 532 1187 535 1190 549 1231 515 1258 517 1186 516 1178 511 1217 540 1188 511 1200 498 1217 511 1182 537 1183 527 1196 534 1230 515 1237 523 1202 514 1191 526 1194 527 1235 518 1257 520 1250 521 1210 509 1194 507 1188 532 1200 518 1213 498 1229 507 1237 519 1195 514 1234 519 1189 490 1176 492 1212 497 1228 499 1194 509 1208 502 1215 507 1197 488 1249 498 1183 479 1203 493 1245 499 1207 490 1243 492 1256 474 1241 496 1205 508 1226 507 1259 505 1225 492 1243 480 1220 505 1245 509 1199 497 1211 511 1211 510 1257 486 1261 487 1252 503 1203 522 1271 497 1259 514 1215 509 1270 505 1262 492 1215 484 1233 511 1222 491 1246 497 1213 517 1208 510 1226 501 1225 502 1269 485 1198 494 1304 490 1268 501 1216 500 1216 475 1284 500 1251 489 1260 500 1278 473 1225 504 1274 501 1291 493 1232 485 1234 481 1240 479 1240 492 1223 467 1246 472 1247 504 1246 475 1233 482 1233 468 1234 474 1291 468 1228 494 1269 472 1291 461 1216 489 1284 465 1251 463 1253 464 1250 451 1245 454 1304 482 1308 450 1241 463 1252 465 1228 462 1230 482 1235 452 1266 455 1229 463 1298 474 1231 482 1312 475 1266 469 1240 484 1243 470 1262 479 1303 476 1245 466 1250 472 1240 470 1261 485 1308 451 1270 475 1242 463 1241 448 1250 456 1250 457 1276 457 1258 472 1264 464 1323 483 1309 465 1258 483 1255 453 1312 459 1308 464 1294 451 1307 462 1287 470 1299 460 1265 465 1274 465 1319 464 1314 450 1331 459 1284 460 1266 460 1273 464 1317 444 1268 455 1303 441 1332 447 1246 426 1274 453 1315 426 1314 457 1299 464 1292 445 1260 456 1342 429 1328 448 1279 434 1274 425 1325 441 1266 446 1338 450 1309 424 1349 425 1301 442 1327 423 1334 430 1293 448 1318 449 1266 442 1286 440 1266 427 1273 437 1319 441 1310 431 1286 417 1312 444 1311 442 1333 416 1350 443 1276 448 1305 414 1274 437 1320 436 1337 415 1310 413 1296 420 1329 412 1334 411 1335 434 1277 412 1313 436 1305 407 1304 415 1257 406 1350 407 1308 416 1321 427 1336 397 1286 420 1280 396 1307 406 1277 407 1333 401 1322 418 1301 416 1296 410 1285 397 1354 419 1346 418 1338 388 1352 408 1318 409 1327 424 1340 399 1302 412 1345 429 1292 399 1293 414 1309 402 1308 415 1320 431 1337 427 1276 431 1308 423 1348 417 1296 421 1283 404 1336 408 1337 407 1333 420 1329 425 1353 434 1286 420 1312 417 1286 417 1300 418 1291 411 1300 395 1364 406 1310 408 1374 423 1322 403 1374 415 1325 390 1346 392 1357 403 1305 415 1354 407 1308 408 1301 396 1303 413 1338 410 1361 397 1333 389 1305 413 1318 412 1336 397 1333 410 1371 413 1319 419 1321 418 1354 396 1341 404 1341 397 1363 387 1372 383 1345 386 1340 378 1344 405 1392 378 1363 381 1340 408 1343 408 1325 395 1314 390 1387 412 1319 382 1337 403 1354 391 1320 407 1384 399 1367 404 1332 397 1365 374 1316 372 1355 378 1391 391 1368 382 1381 380 1330 368 1374 371 1400 377 1384 370 1348 351 1345 360 1339 382 1396 381 1358 379 1377 374 1350 380 1369 363 1359 364 1381 362 1345 376 1336 367 1356 378 1341 379 1393 365 1353 361 1382 362 1356 378 1383 361 1388 373 1350 356 1343 379 1345 354 1434 361 1341 363 1362 374 1390 364 1394 375 1355 379 1351 354 1396 368 1338 368 1378 364 1401 370 1361 356 1395 361 1377 364 1400 365 1407 378 1363 368 1364 347 1388 351 1399 371 1376 348 1382 375 1381 341 1388 354 1407 364 1400 338 1376 338 1347 362 1417 358 1400 343 1410 330 1391 349 1387 340 1377 338 1353 325 1364 339 1392 321 1405 330 1385 319 1378 329 1423 325 1421 322 1357 343 1429 338 1368 310 1353 340 1405 323 1403 339 1383 312 1425 315 1329 317 1411 311 1441 330 1383 348 1374 336 1369 343 1436 323 1353 341 1381 348 1386 317 1375 317 1386 327 1334 330 1419 340 1394 342 1338 335 1362 336 1386 344 1398 314 1407 339 1359 311 1441 309 1396 328 1401 306 1363 326 1359 321 1412 334 1422 309 1420 310 1413 297 1443 297 1382 302 1422 307 1390 326 1400 328 1420 297 1403 319 1389 308 1378 332 1393 321 1445 333 1351 315 1423 317 1371 324 1413 330 1432 300 1373 334 1396 304 1439 337 1423 328 1416 320 1413 320 1426 321 1406 317 1440 306 1393 301 1386 297 1419 292 1405 305 1399 318 1393 316 1417 292 1420 308 1423 287 1462 294 1432 306 1446 283 1422 284 1397 305 1406 283 1456 307 1392 284 1402 308 1455 288 1409 309 1462 301 1406 291 1439 323 1417 292 1447 306 1392 320 1409 318 1426 290 1464 306 1388 292 1425 288 1463 296 1427 317 1424 285 1386 281 1404 281 1423 309 1415 289 1423 290 1422 297 1426 298 1453 300 1388 274 1455 256 1390 294 1447 295 1433 260 1455 265 1455 292 1434 281 1416 271 1378 278 1400 293 1446 280 1452 286 1431 257 1424 289 1410 283 1457 274 1399 276 1421 278 1469 298 1476 282 1480 281 1458 267 1400 272 1479 271 1426 296 1448 266 1444 285 1481 289 1380 265 1429 270 1426 272 1484 266 1458 280 1437 257 1427 277 1419 252 1485 254 1457 255 1496 250 1444 259 1412 246 1443 269 1447 247 1491 244 1439 245 1418 257 1458 234 1477 267 1483 234 1462 250 1430 243 1471 255 1493 265 1448 268 1502 244 1428 266 1476 256 1480 251 1487 257 1437 239 1440 262 1469 268 1479 261 1479 237 1467 236 1458 247 1477 245 1454 248 1492 246 1464 245 1435 236 1490 237 1437 246 1476 253 1487 256 1470 246 1514 241 1523 244 1488 252 1499 251 1508 250 1517 228 1450 253 1543 247 1498 231 1524 254 1525 235 1498 228 1494 252 1456 243 1492 240 1488 248 1481 229 1453 242 1506 248 1456 240 1493 225 1471 222 1462 250 1503 228 1460 234 1535 221 1480 222 1511 225 1506 250 1493 246 1472 222 1514 232 1458 253 1458 225 1462 220 1502 217 1494 236 1511 238 1537 238 1502 226 1470 216 1522 239 1534 239 1473 222 1541 212 1519 220 1533 213 1462 205 1485 228 1493 228 1511 226 1483 195 1511 208 1537 200 1522 225 1482 209 1498 194 1516 199 1480 205 1476 214 1533 199 1504 227 1539 226 1519 203 1487 222 1481 208 1471 235 1456 219 1511 215 1510 223 1481 213 1487 214 1524 237 1498 219 1482 201 1508 233 1517 214 1537 222 1531 226 1547 199 1524 222 1480 204 1477 216 1517 206 1508 192 1488 193 1541 178 1547 195 1503 210 1488 192 1524 191 1556 212 1484 190 1527 214 1486 187 1503 202 1485 215 1495 188 1519 189 1521 188 1492 195 1509 204 1500 198 1509 183 1549 187 1489 195 1540 179 1505 201 1559 201 1561 180 1513 191 1566 169 1535 162 1497 163 1549 172 1506 163 1541 189 1551 183 1547 180 1551 190 1527 156 1487 178 1535 175 1556 181 1509 192 1549 169 1558 167 1573 165 1574 176 1491 188 1568 186 1522 165 1566 191 1510 181 1556 190 1552 180 1507 187 1548 162 1566 153 1563 186 1518 174 1551 154 1526 172 1534 169 1515 175 1513 186 1541 170 1579 151 1518 176 1510 171 1538 170 1568 173 1598 161 1527 177 1553 163 1498 157 1548 163 1589 163 1549 181 1582 168 1538 176 1592 157 1546 178 1514 158 1526 151 1577 180 1589 168 1564 151 1553 165 1541 160 1600 167 1558 171 1573 154 1528 181 1542 149 1557 152 1590 148 1568 170 1536 143 1578 153 1531 154 1547 164 1523 157 1580 133 1529 153 1601 155 1530 132 1560 153 1584 137 1552 126 1571 139 1552 123 1529 121 1511 145 1576 140 1578 153 1567 152 1546 120 1589 150 1546 138 1554 141 1593 142 1557 117 1523 136 1541 135 1529 126 1573 131 1594 111 1603 139 1602 120 1597 128 1539 123 1551 122 1537 131 1561 129 1523 126 1610 142 1543 151 1548 128 1626 130 1590 123 1581 138 1570 142 1594 127 1609 133 1543 132 1573 122 1613 121 1581 123 1563 124 1594 131 1599 111 1593 114 1550 127 1581 125 1553 115 1601 127 1562 128 1606 123 1577 127 1575 107 1581 103 1577 115 1568 124 1561 118 1559 135 1642 132 1588 129 1578 122 1554 109 1579 116 1624 115 1601 144 1575 120 1617 141 1557 151 1597 126 1596 155 1609 154 1612 162 1622 164 1621 168 1570 165 1591 144 1560 159 1622 165 1584 154 1565 168 1576 153 1566 157 1558 162 1556 143 1587 160 1573 136 1535 155 1593 136 1595 150 1618 151 1586 144 1581 139 1590 120 1625 148 1612 139 1581 136 1599 141 1566 136 1566 158 1602 156 1613 130 1583 163 1606 159 1575 154 1617 143 1584 174 1608 168 1571 142 1566 150 1611 162 1577 169 1629 145 1624 162 1627 148 1582 166 1577 169 1579 174 1608 171 1591 160 1627 169 1562 177 1605 157 1618 159 1624 170 1577 165 1578 158 1569 159 1617 184 1631 170 1626 172 1583 179 1631 191 1573 182 1571 176 1608 184 1617 178 1587 193 1616 173 1565 173 1608 165 1602 196 1582 167 1611 165 1569 165 1599 174 1571 164 1599 169 1587 189 1619 162 1600 179 1579 178 1565 185 1583 176 1625 192 1628 178 1606 187 1591 184 1589 195 1564 184 1597 179 1639 205 1576 208 1568 195 1621 191 1626 197 1571 204 1640 201 1627 199 1620 223 1570 224 1628 229 1587 202 1638 209 1599 213 1610 234 1582 226 1583 230 1616 222 1576 218 1580 231 1612 239 1577 218 1578 226 1615 225 1606 224 1633 229 1604 224 1626 228 1604 236 1622 223 1631 240 1592 215 1581 217 1592 223 1624 228 1633 218 1630 211 1607 237 1582 218 1562 214 1567 234 1550 219 1564 240 1603 239 1566 233 1564 213 1569 224 1616 239 1624 220 1640 230 1583 241 1606 237 1616 223 1602 225 1601 252 1603 250 1552 228 1587 248 1567 251 1565 249 1610 231 1563 220 1560 222 1606 236 1601 235 1600 227 1569 239 1568 235 1575 236 1602 242 1559 228 1599 234 1598 237 1575 254 1586 244 1546 237 1576 255 1610 268 1599 250 1536 244 1550 256 1573 247 1588 240 1536 264 1596 243 1548 258 1563 245 1560 242 1536 256 1574 234 1598 251 1553 253 1590 245 1527 258 1528 230 1536 231 1597 257 1526 232 1573 253 1593 245 1550 261 1528 238 1532 237 1526 253 1562 253 1593 252 1588 246 1544 257 1573 251 1567 250 1576 267 1558 280 1528 269 1544 283 1542 277 1561 272 1558 282 1585 281 1512 261 1534 270 1587 292 1563 270 1512 284 1579 298 1552 284 1523 300 1572 280 1572 281 1531 275 1524 289 1577 280 1543 267 1523 274 1510 297 1573 293 1526 274 1552 268 1560 277 1537 262 1519 286 1508 264 1561 275 1539 293 1536 292 1567 286 1522 280 1526 286 1564 294 1525 286 1532 270 1537 293 1535 283 1568 302 1514 287 1529 306 1507 294 1568 304 1505 304 1518 299 1529 296 1533 309 1504 297 1532 317 1547 306 1560 304 1519 322 1546 301 1541 302 1528 322 1587 307 1547 298 1529 310 1563 297 1493 323 1534 302 1512 322 1549 296 1528 312 1555 316 1535 290 1546 301 1565 301 1517 294 1529 316 1520 315 1519 319 1491 300 1516 327 1492 300 1503 322 1495 300 1508 323 1536 320 1536 330 1553 320 1525 310 1518 305 1504 312 1502 319 1529 329 1523 301 1528 311 1551 325 1478 329 1491 322 1523 319 1531 314 1493 321 1484 314 1503 311 1505 330 1489 317 1523 308 1518 334 1516 322 1545 319 1526 328 1515 329 1555 328 1479 354 1545 335 1544 319 1495 336 1510 327 1543 329 1501 339 1512 323 1502 328 1507 344 1481 333 1481 337 1483 350 1477 354 1508 335 1494 340 1529 350 1511 349 1478 337 1519 329 1505 339 1486 343 1524 351 1489 347 1509 344 1497 347 1493 335 1490 358 1537 339 1516 340 1512 354 1493 329 1488 349 1516 344 1483 347 1489 350 1517 336 1518 349 1505 346 1530 342 1477 361 1490 353 1500 346 1516 344 1505 338 1512 353 1473 356 1438 357 1506 366 1550 346 1519 358 1517 348 1532 368 1502 363 1471 347 1470 360 1514 346 1499 352 1491 373 1500 377 1497 364 1528 368 1505 362 1526 353 1498 374 1516 361 1519 353 1479 361 1483 377 1487 362 1514 380 1524 375 1469 369 1481 390 1476 375 1518 396 1479 366 1534 369 1462 386 1461 373 1510 409 1488 381 1522 382 1483 375 1487 403 1469 374 1479 390 1459 380 1460 381 1515 395 1515 372 1450 375 1489 377 1521 402 1450 384 1508 401 1494 383 1513 389 1480 386 1494 384 1514 404 1485 402 1521 407 1505 395 1513 393 1498 413 1484 401 1472 388 1481 414 1458 388 1480 418 1453 398 1468 405 1544 403 1490 413 1511 408 1491 387 1470 411 1457 399 1488 414 1467 399 1503 385 1497 406 1526 387 1509 391 1471 390 1514 396 1470 412 1493 407 1510 392 1518 416 1470 415 1519 389 1464 405 1471 401 1525 391 1514 402 1521 390 1519 404 1484 389 1449 397 1509 420 1460 409 1534 415 1501 396 1469 410 1463 418 1492 404 1475 410 1473 422 1464 410 1507 411 1499 399 1496 410 1507 418 1506 420 1488 401 1486 424 1508 425 1459 409 1493 409 1497 429 1493 425 1519 438 1460 417 1523 411 1459 418 1502 427 1490 423 1509 417 1524 432 1524 445 1515 425 1461 442 1525 449 1487 440 1457 434 1499 434 1498 420 1499 448 1467 428 1508 438 1512 451 1456 425 1496 424 1488 453 1486 449 1497 429 1504 432 1469 431 1459 444 1510 437 1461 436 1446 454 1451 460 1477 454 1507 455 1477 460 1488 456 1480 434 1489 430 1511 444 1449 443 1456 447 1444 454 1513 451 1475 457 1446 453 1497 447 1444 469 1446 470 1463 458 1497 464 1471 473 1489 460 1468 473 1446 482 1445 479 1446 479 1460 478 1461 473 1450 470 1493 463 1446 461 1438 476 1461 492 1491 498 1431 491 1515 479 1441 477 1464 484 1458 482 1466 499 1468 482 1477 483 1439 507 1483 508 1464 513 1432 504 1469 495 1469 491 1490 507 1429 509 1488 487 1477 489 1419 505 1425 475 1432 510 1453 487 1457 512 1459 493 1462 476 1430 504 1466 485 1442 477 1474 496 1487 497 1439 484 1429 502 1432 487 1411 510 1449 516 1448 526 1446 502 1477 504 1429 506 1416 530 1453 505 1458 511 1425 526 1433 513 1442 526 1421 527 1448 516 1441 519 1482 518 1486 500 1476 526 1454 518 1450 506 1441 524 1469 529 1476 540 1453 532 1440 536 1475 519 1446 530 1435 532 1481 532 1484 523 1471 530 1427 527 1439 526 1494 528 1483 526 1457 525 1420 519 1463 537 1486 516 1429 511 1470 528 1427 522 1452 541 1473 512 1455 525 1439 537 1493 527 1436 525 1488 546 1429 514 1458 535 1487 520 1453 535 1416 535 1477 533 1435 530 1425 504 1438 530 1438 534 1479 529 1466 518 1443 503 1427 515 1420 509 1479 534 1469 513 1477 514 1482 513 1457 530 1433 528 1460 521 1431 550 1431 527 1456 545 1479 533 1420 513 1480 544 1461 538 1412 525 1443 539 1469 537 1444 534 1453 537 1462 519 1446 533 1454 546 1409 541 1431 541 1435 534 1467 544 1407 565 1414 539 1461 566 1433 566 1440 550 1421 556 1403 542 1409 550 1443 558 1459 541 1461 540 1430 558 1432 569 1416 562 1437 559 1447 551 1442 555 1402 547 1439 552 1405 551 1470 548 1443 563 1429 548 1453 548 1404 556 1421 554 1475 571 1429 563 1443 563 1425 580 1418 560 1412 586 1454 564 1432 578 1444 580 1446 570 1408 595 1463 564 1453 591 1453 568 1411 565 1441 587 1463 575 1439 572 1418 572 1418 582 1453 590 1427 581 1409 582 1450 590 1399 576 1412 592 1439 584 1442 578 1416 604 1450 575 1466 569 1426 607 1407 584 1397 607 1425 583 1445 592 1416 603 1434 598 1454 616 1431 597 1407 612 1445 615 1453 592 1416 603 1459 597 1437 617 1410 621 1408 611 1428 592 1421 586 1387 604 1416 621 1444 618 1420 610 1450 606 1420 610 1383 626 1408 608 1449 620 1382 619 1431 624 1412 636 1446 638 1403 618 1451 626 1442 627 1383 620 1417 622 1407 623 1408 635 1430 645 1419 626 1388 632 1432 623 1392 622 1421 628 1437 647 1424 623 1372 617 1404 628 1410 629 1414 626 1417 616 1393 623 1371 601 1409 630 1419 636 1433 636 1423 631 1380 633 1437 637 1413 618 1369 649 1417 647 1409 644 1373 623 1426 643 1358 640 1376 625 1372 637 1422 635 1365 634 1369 635 1431 643 1428 630 1391 647 1377 623 1355 618 1429 647 1404 624 1373 657 1378 650 1390 633 1355 634 1365 642 1359 667 1370 667 1382 660 1406 664 1372 670 1389 672 1366 652 1428 662 1418 660 1415 676 1399 669 1413 658 1423 672 1417 681 1392 657 1361 650 1368 676 1378 655 1417 673 1365 669 1405 673 1399 666 1367 668 1375 658 1421 651 1414 664 1401 650 1414 657 1371 676 1419 662 1379 656 1415 664 1355 668 1363 665 1423 666 1357 660 1398 676 1424 673 1430 663 1411 658 1396 666 1423 665 1358 664 1392 662 1403 679 1387 678 1388 683 1352 676 1384 680 1405 673 1383 674 1349 670 1391 676 1377 669 1348 674 1346 671 1363 657 1348 656 1404 679 1415 663 1394 662 1434 675 1420 685 1363 662 1396 688 1400 660 1348 663 1392 683 1367 665 1361 689 1408 685 1373 686 1343 680 1376 678 1355 678 1351 668 1381 678 1422 686 1341 671 1378 668 1367 678 1364 696 1365 679 1338 697 1411 704 1382 695 1396 679 1373 693 1366 697 1381 715 1360 695 1341 699 1412 712 1355 706 1404 712 1356 701 1358 717 1411 727 1338 704 1370 708 1384 715 1351 724 1406 715 1367 719 1403 726 1374 721 1403 720 1339 720 1357 732 1367 717 1338 737 1337 715 1397 720 1338 725 1349 740 1406 744 1372 743 1345 746 1365 729 1403 733 1338 750 1389 727 1370 751 1357 744 1379 741 1361 751 1357 732 1375 762 1388 743 1357 739 1376 749 1379 732 1340 731 1336 754 1367 740 1358 745 1340 763 1395 741 1359 755 1341 741 1371 726 1342 747 1355 742 1359 757 1369 741 1332 768 1380 739 1357 745 1395 746 1389 768 1380 748 1394 765 1388 766 1325 752 1326 749 1356 751 1356 774 1375 773 1387 779 1343 770 1394 754 1344 766 1363 768 1317 766 1327 778 1360 778 1347 765 1370 786 1374 769 1316 764 1322 783 1342 767 1378 779 1328 779 1333 789 1343 769 1377 791 1367 777 1380 779 1374 774 1331 791 1368 780 1331 761 1377 783 1340 760 1317 786 1352 785 1373 769 1368 762 1336 769 1308 788 1378 769 1354 777 1324 767 1340 780 1361 770 1357 770 1314 792 1350 793 1319 788 1354 790 1358 768 1316 797 1350 797 1370 792 1323 772 1366 763 1365 780 1357 773 1334 787 1375 760 1374 777 1300 785 1372 778 1376 781 1301 767 1304 795 1359 793 1337 794 1301 788 1338 813 1361 778 1301 798 1305 795 1300 810 1344 821 1299 797 1282 819 1319 814 1295 806 1328 814 1326 832 1327 820 1297 826 1359 828 1319 820 1309 824 1356 818 1328 832 1366 806 1342 805 1315 833 1364 805 1365 801 1354 803 1311 820 1301 815 1363 811 1292 806 1365 812 1353 813 1327 825 1341 811 1293 829 1341 818 1302 822 1346 827 1317 817 1361 802 1315 826 1316 806 1296 824 1358 812 1352 822 1315 821 1306 807 1291 817 1319 826 1346 802 1308 821 1290 807 1327 813 1301 822 1303 830 1321 811 1362 840 1333 833 1323 831 1304 822 1292 851 1318 825 1334 843 1332 865 1334 832 1285 859 1304 856 1321 856 1338 843 1334 850 1304 854 1346 848 1333 840 1296 858 1300 847 1320 842 1337 843 1358 846 1348 836 1286 850 1285 840 1309 852 1308 847 1350 849 1289 853 1292 835 1286 832 1339 850 1301 840 1331 830 1333 837 1296 860 1304 850 1348 841 1322 840 1341 848 1288 830 1344 847 1326 855 1327 837 1312 857 1293 837 1320 867 1292 853 1293 846 1313 854 1274 865 1287 876 1333 853 1329 872 1267 869 1272 854 1318 882 1310 854 1270 881 1322 866 1268 862 1305 872 1276 880 1331 875 1260 863 1310 882 1329 863 1329 882 1294 880 1300 885 1322 866 1262 862 1289 863 1326 871 1328 887 1313 892 1287 880 1272 880 1279 877 1327 896 1322 892 1289 878 1302 890 1271 901 1301 879 1283 883 1285 878 1301 896 1318 908 1271 904 1252 882 1326 880 1280 882 1313 887 1268 900 1268 906 1310 878 1301 894 1302 899 1282 878 1257 874 1309 891 1301 890 1260 896 1304 868 1247 872 1293 888 1283 878 1262 894 1305 876 1268 876 1274 890 1245 873 1297 890 1307 889 1290 880 1286 882 1304 880 1316 892 1273 886 1306 887 1295 892 1253 885 1316 891 1267 895 1291 911 1308 908 1272 881 1299 883 1271 904 1262 897 1248 900 1272 886 1225 884 1279 889 1281 882 1266 889 1258 911 1237 906 1269 916 1267 911 1233 896 1306 900 1282 903 1247 897 1255 911 1305 893 1306 921 1301 903 1247 915 1265 923 1235 915 1304 924 1280 901 1246 895 1227 923 1301 927 1235 936 1246 904 1275 918 1297 928 1279 895 1252 895 1232 907 1290 919 1284 905 1263 901 1247 923 1234 919 1287 904 1230 924 1239 926 1234 923 1297 909 1260 918 1245 934 1285 927 1263 935 1288 916 1226 920 1291 944 1220 919 1219 933 1255 934 1280 939 1268 918 1287 922 1243 926 1237 951 1235 929 1271 934 1230 938 1277 940 1240 933 1282 940 1241 952 1266 948 1239 937 1255 925 1264 961 1256 948 1238 945 1258 955 1251 952 1264 953 1239 931 1246 945 1251 949 1217 937 1226 943 1219 941 1227 938 1232 950 1273 942 1208 939 1213 953 1247 953 1233 945 1245 951 1269 957 1249 937 1259 937 1231 936 1240 952 1261 946 1199 951 1254 945 1270 946 1191 955 1217 941 1223 958 1249 949 1224 953 1213 962 1207 944 1242 966 1204 956 1219 947 1190 974 1197 970 1247 965 1190 976 1263 956 1188 964 1188 973 1262 969 1218 961 1249 956 1216 971 1248 982 1221 971 1223 966 1208 977 1235 958 1236 972 1236 958 1200 958 1205 980 1196 982 1181 985 1199 973 1221 972 1195 971 1220 975 1249 958 1178 965 1241 954 1218 984 1192 958 1237 982 1182 987 1231 965 1207 966 1185 973 1191 976 1239 976 1249 979 1242 989 1185 971 1182 984 1224 966 1248 989 1213 977 1196 971 1174 998 1224 975 1208 1002 1171 1013 1225 1000 1196 993 1224 999 1189 997 1231 995 1225 1013 1173 1009 1212 998 1206 997 1230 1014 1189 1019 1184 1024 1169 1008 1180 1020 1194 1020 1231 1013 1243 1016 1203 1007 1186 1003 1218 1014 1241 1005 1194 1018 1205 1002 1239 1020 1197 1032 1224 1004 1191 1014 1214 1032 1218 1025 1209 1019 1190 1023 1208 1013 1201 1019 1203 1031 1212 1007 1234 1013 1198 1009 1194 1013 1196 1012 1217 1018 1202 1014 1185 1030 1228 1020 1215 1028 1174 1044 1213 1024 1177 1051 1232 1021 1159 1045 1214 1019 1197 1028 1177 1020 1211 1021 1210 1025 1234 1050 1169 1030 1180 1047 1203 1052 1164 1037 1165 1049 1227 1049 1208 1058 1223 1046 1220 1060 1189 1040 1184 1035 1231 1033 1239 1048 1171 1036 1227 1039 1167 1041 1223 1032 1215 1056 1234 1037 1219 1036 1213 1038 1189 1064 1204 1063 1221 1035 1243 1043 1232 1039 1174 1048 1218 1055 1238 1066 1229 1047 1174 1056 1213 1068 1231 1076 1237 1046 1233 1056 1230 1058 1204 1068 1219 1049 1180 1076 1222 1077 1213 1058 1199 1070 1243 1079 1231 1066 1210 1059 1181 1058 1200 1073 1181 1057 1195 1074 1232 1071 1226 1054 1220 1070 1243 1055 1198 1061 1243 1075 1180 1081 1205 1075 1226 1080 1224 1070 1219 1049 1191 1055 1168 1066 1226 1082 1177 1045 1198 1082 1166 1076 1171 1062 1182 1074 1231 1082 1176 1092 1218 1078 1225 1082 1231 1067 1187 1095 1199 1084 1163 1097 1193 1086 1177 1095 1163 1113 1225 1079 1176 1092 1181 1104 1154 1080 1154 1086 1177 1087 1225 1094 1153 1092 1166 1099 1191 1100 1209 1108 1189 1100 1223 1106 1171 1084 1155 1091 1147 1105 1211 1086 1188 1098 1163 1083 1209 1100 1181 1101 1146 1102 1215 1108 1210 1092 1174 1094 1144 1109 1175 1124 1167 1099 1151 1093 1182 1115 1156 1120 1194 1099 1191 1110 1202 1103 1165 1114 1142 1117 1204 1128 1186 1113 1148 1123 1145 1119 1167 1126 1167 1119 1143 1107 1153 1122 1194 1135 1199 1108 1180 1138 1151 1109 1178 1117 1194 1116 1178 1122 1208 1113 1195 1101 1150 1117 1191 1094 1164 1123 1202 1112 1180 1121 1164 1101 1158 1114 1198 1088 1197 1113 1194 1118 1126 1098 1171 1105 1133 1119 1147 1106 1215 1107 1183 1114 1137 1113 1137 1122 1169 1113 1186 1103 1170 1114 1134 1125 1139 1114 1164 1127 1174 1130 1171 1120 1164 1138 1145 1136 1189 1112 1153 1128 1143 1144 1166 1117 1158 1115 1182 1135 1182 1118 1131 1143 1187 1136 1193 1124 1149 1150 1152 1149 1146 1127 1182 1131 1186 1125 1194 1139 1129 1133 1189 1127 1157 1133 1141 1131 1170 1135 1180 1126 1130 1143 1129 1134 1158 1138 1135 1131 1124 1138 1173 1121 1139 1131 1134 1124 1161 1141 1152 1157 1166 1157 1134 1163 1174 1146 1203 1128 1175 1144 1166 1144 1175 1142 1140 1174 1115 1155 1166 1167 1139 1163 1166 1146 1157 1168 1182 1170 1203 1177 1163 1153 1151 1174 1141 1169 1150 1168 1149 1159 1115 1173 1167 1156 1170 1173 1152 1177 1158 1152 1129 1152 1152 1157 1144 1160 1164 1164 1156 1153 1142 1172 1115 1155 1188 1178 1135 1170 1136 1177 1177 1171 1122 1176 1157 1185 1127 1175 1119 1169 1154 1177 1188 1180 1135 1172 1117 1163 1180 1149 1145 1182 1124 1166 1141 1195 1149 1173 1162 1169 1160 1178 1140 1196 1121 1185 1125 1198 1117 1184 1151 1196 1178 1199 1187 1199 1178 1185 1184 1194 1165 1195 1184 1193 1120 1200 1126 1188 1148 1182 1144 1179 1116 1173 1110 1202 1119 1184 1141 1178 1162 1204 1121 1196 1111 1201 1150 1192 1126 1200 1164 1208 1166 1214 1163 1220 1145 1192 1145 1204 1139 1196 1115 1192 1163 1208 1173 1190 1157 1201 1122 1188 1111 1200 1168 1188 1165 1193 1110 1208 1177 1212 1145 1213 1146 1213 1121 1208 1146 1225 1148 1230 1142 1225 1069 1208 1141 1233 1157 1236 1091 1217 1096 1232 1111 1223 1128 1216 1090 1224 1136 1230 1119 1229 1084 1219 1143 1249 1112 1224 1089 1249 1109 1228 1084 1241 1088 1237 1115 1234 1083 1235 1113 1237 1115 1247 1099 1249 1083 1227 1139 1228 1133 1232 1119 1246 1096 1239 1104 1245 1128 1240 1087 1232 1142 1255 1135 1249 1125 1235 1084 1226 1118 1223 1113 1237 1135 1237 1127 1226 1128 1245 1145 1220 1147 1248 1075 1223 1142 1224 1142 1232 1102 1229 1137 1222 1088 1247 1102 1231 1086 1248 1087 1247 1093 1228 1142 1237 1089 1243 1141 1237 1132 1245 1118 1262 1110 1266 1127 1269 1101 1251 1128 1271 1131 1268 1094 1249 1105 1264 1101 1267 1096 1271 1139 1260 1124 1276 1106 1261 1142 1270 1056 1239 1132 1258 1108 1276 1124 1270 1102 1270 1137 1253 1098 1274 1108 1265 1137 1246 1096 1258 1079 1248 1140 1266 1132 1277 1128 1246 1119 1248 1084 1267 1083 1272 1073 1269 1114 1257 1074 1278 1119 1254 1076 1251 1138 1273 1084 1258 1126 1263 1124 1271 1112 1273 1122 1264 1112 1272 1094 1271 1139 1296 1066 1262 1130 1258 1072 1276 1101 1291 1067 1261 1081 1283 1141 1264 1065 1290 1119 1289 1128 1297 1097 1285 1103 1284 1076 1279 1102 1299 1102 1285 1066 1299 1114 1284 1065 1277 1063 1292 1118 1288 1074 1293 1110 1285 1072 1299 1068 1284 1094 1279 1100 1283 1097 1296 1089 1295 1077 1277 1125 1293 1096 1283 1108 1266 1125 1300 1132 1287 1061 1296 1086 1297 1100 1285 1079 1292 1131 1314 1108 1292 1130 1308 1118 1312 1102 1310 1077 1315 1073 1306 1105 1308 1053 1310 1101 1303 1120 1314 1081 1302 1115 1296 1079 1312 1109 1307 1082 1315 1082 1316 1125 1300 1052 1321 1121 1314 1048 1336 1055 1332 1102 1305 1113 1324 1091 1316 1047 1333 1077 1306 1062 1323 1082 1306 1051 1324 1054 1300 1119 1307 1080 1317 1110 1302 1045 1297 1044 1319 1090 1324 1106 1318 1080 1301 1030 1316 1049 1306 1106 1305 1077 1319 1042 1313 1096 1307 1081 1304 1109 1309 1086 1305 1112 1306 1089 1330 1104 1314 1043 1322 1077 1329 1043 1320 1095 1317 1051 1310 1057 1334 1085 1340 1110 1325 1080 1326 1062 1339 1040 1325 1057 1323 1046 1321 1089 1315 1090 1316 1061 1321 1041 1329 1081 1337 1043 1346 1081 1325 1067 1341 1056 1323 1087 1327 1103 1335 1064 1354 1084 1346 1071 1344 1042 1339 1074 1356 1076 1338 1101 1354 1078 1347 1083 1342 1062 1364 1024 1334 1076 1345 1068 1349 1039 1366 1075 1349 1093 1362 1109 1359 1041 1365 1041 1350 1064 1362 1020 1363 1026 1355 1021 1378 1024 1376 1043 1390 1057 1363 1024 1387 1075 1376 1032 1375 1080 1368 1055 1384 1032 1364 1069 1380 1063 1378 1038 1372 1070 1356 1058 1375 1080 1353 1038 1351 1043 1365 1010 1373 1028 1368 1047 1381 1019 1355 1019 1381 1071 1375 1022 1377 1075 1359 1066 1382 1046 1386 1030 1362 1038 1364 1051 1365 1017 1372 1013 1391 1034 1365 1062 1396 1015 1392 1068 1393 1077 1387 1073 1374 1006 1379 1070 1398 1000 1385 1004 1396 1046 1389 1047 1399 1008 1392 1038 1371 1043 1383 1030 1381 1054 1374 1026 1377 1048 1404 1029 1382 1052 1407 1009 1384 1057 1397 1023 1399 1041 1392 1057 1402 1017 1419 1011 1418 1072 1405 1035 1418 1046 1422 1047 1395 1014 1400 1040 1420 1024 1407 1041 1415 1056 1411 1049 1385 1000 1385 1067 1390 1063 1405 1062 1403 1044 1412 1020 1411 1067 1396 1038 1400 1063 1415 1054 1396 1055 1413 1010 1403 1059 1394 1040 1401 1028 1399 1020 1404 1034 1424 1067 1414 1039 1396 1040 1421 1050 1410 1007 1430 1016 1403 1074 1415 1045 1425 995 1409 1054 1409 1043 1407 1021 1410 1036 1435 993 1422 1043 1421 1029 1409 1063 1422 1018 1433 1059 1432 1028 1412 1018 1409 1023 1412 1038 1441 1036 1424 1005 1413 1042 1442 1053 1435 1026 1428 1011 1418 1042 1446 1015 1444 1016 1445 1050 1429 982 1439 981 1423 1026 1446 1041 1452 992 1424 1019 1442 995 1442 1026 1439 999 1444 1027 1441 1022 1457 1050 1452 1024 1436 1039 1436 986 1439 1043 1438 992 1452 1044 1454 1023 1436 975 1432 1003 1457 1043 1445 1042 1457 954 1449 1001 1442 1028 1461 980 1433 990 1446 1030 1458 993 1445 1003 1437 1002 1435 971 1441 1005 1464 1032 1451 997 1459 1022 1461 991 1437 1000 1440 966 1460 983 1466 973 1455 973 1476 1018 1474 1022 1464 980 1455 963 1463 1021 1457 1005 1465 963 1459 979 1462 992 1467 1015 1473 1016 1466 957 1473 959 1454 1016 1469 950 1476 1002 1469 1002 1471 980 1460 957 1465 955 1472 996 1468 946 1466 976 1472 1012 1455 963 1482 1022 1474 1019 1472 977 1459 992 1467 987 1472 1017 1488 990 1475 1017 1486 962 1470 946 1479 970 1478 993 1470 971 1463 942 1490 957 1473 961 1459 947 1483 985 1481 993 1482 977 1487 972 1460 954 1490 973 1490 971 1468 1002 1495 966 1477 1001 1465 963 1483 974 1501 986 1476 995 1458 959 1477 937 1488 985 1463 936 1464 990 1501 957 1485 997 1486 989 1479 974 1474 933 1472 937 1493 934 1483 968 1476 942 1470 990 1503 947 1477 971 1483 964 1485 936 1506 968 1480 972 1509 964 1490 952 1488 919 1484 929 1495 939 1486 986 1503 922 1498 983 1502 962 1490 956 1504 952 1514 925 1516 961 1502 971 1500 937 1510 941 1496 951 1510 926 1501 906 1505 914 1515 969 1495 901 1514 965 1515 936 1506 910 1519 942 1510 897 1492 917 1504 953 1508 894 1501 925 1503 914 1511 897 1506 979 1508 889 1521 960 1509 925 1509 927 1507 918 1534 932 1512 934 1529 907 1524 891 1514 929 1522 905 1533 935 1516 933 1528 922 1506 887 1517 921 1506 923 1517 883 1503 934 1526 922 1519 871 1514 921 1519 920 1500 940 1509 876 1501 917 1489 917 1506 887 1514 900 1501 899 1486 906 1491 891 1515 903 1493 918 1495 870 1514 883 1500 914 1492 893 1491 861 1490 861 1500 882 1513 892 1512 889 1515 859 1510 881 1509 896 1511 898 1500 900 1499 871 1517 853 1497 899 1497 867 1520 887 1513 870 1510 855 1513 906 1516 876 1519 867 1525 900 1507 853 1511 871 1524 884 1526 899 1535 873 1506 876 1534 856 1524 841 1524 901 1527 865 1512 847 1502 889 1512 823 1527 848 1499 872 1501 881 1512 845 1502 883 1520 891 1499 883 1517 831 1509 876 1513 833 1500 843 1508 890 1524 843 1503 889 1497 888 1497 840 1499 889 1518 836 1507 851 1499 868 1484 864 1496 875 1489 855 1500 886 1484 843 1514 851 1483 869 1486 869 1498 858 1488 868 1492 838 1518 830 1516 866 1522 833 1495 861 1504 835 1525 865 1499 831 1515 829 1498 816 1522 861 1505 823 1511 875 1509 854 1520 824 1527 853 1506 846 1508 868 1528 862 1523 817 1532 869 1513 840 1510 864 1507 850 1509 822 1515 870 1519 853 1513 848 1507 851 1538 837 1510 813 1511 813 1506 836 1527 811 1498 850 1503 869 1516 814 1519 807 1510 817 1513 818 1500 857 1491 829 1521 860 1496 811 1515 851 1518 822 1501 827 1493 822 1496 863 1510 855 1507 875 1518 830 1495 817 1517 805 1513 815 1518 807 1509 820 1506 814 1502 802 1499 856 1497 837 1495 843 1493 850 1521 799 1502 841 1498 811 1501 804 1522 797 1492 806 1514 837 1500 849 1500 793 1491 812 1504 786 1504 814 1498 789 1509 808 1490 830 1513 822 1504 788 1481 838 1514 816 1500 800 1500 820 1509 820 1518 834 1519 791 1501 824 1522 788 1506 806 1506 831 1505 789 1529 795 1501 755 1501 769 1530 776 1512 824 1525 821 1500 770 1514 802 1506 799 1523 781 1528 780 1511 793 1525 774 1498 819 1513 806 1518 787 1498 786 1491 757 1498 776 1506 770 1496 775 1492 796 1513 797 1505 809 1502 805 1520 805 1507 764 1494 778 1495 772 1510 778 1496 783 1490 791 1518 756 1493 786 1493 748 1498 758 1508 775 1499 777 1511 785 1495 743 1518 783 1515 741 1497 738 1490 731 1497 775 1504 724 1497 747 1520 728 1495 758 1488 782 1487 728 1506 726 1515 768 1506 718 1495 751 1502 759 1498 723 1508 755 1503 741 1500 762 1499 717 1494 727 1490 758 1499 729 1516 720 1489 749 1503 723 1499 761 1491 734 1499 715 1504 732 1507 725 1492 752 1497 755 1492 754 1483 744 1495 762 1500 737 1510 713 1497 741 1492 763 1494 756 1488 721 1498 723 1488 709 1485 736 1492 739 1498 735 1484 713 1504 704 1504 729 1485 749 1515 716 1502 708 1492 710 1506 735 1517 696 1494 705 1508 716 1524 746 1525 733 1507 740 1509 724 1517 730 1514 746 1509 698 1526 733 1506 696 1511 745 1525 725 1532 730 1524 760 1515 691 1503 700 1499 734 1504 731 1501 685 1506 706 1507 737 1516 720 1493 708 1520 685 1491 725 1493 730 1508 720 1493 725 1510 715 1502 695 1506 680 1503 739 1489 737 1501 710 1505 689 1499 688 1497 712 1495 711 1494 704 1514 680 1500 704 1501 683 1496 714 1498 720 1512 691 1520 678 1512 710 1509 699 1501 678 1525 686 1508 662 1503 688 1498 682 1522 708 1494 725 1499 705 1509 667 1519 661 1519 689 1507 728 1516 715 1493 688 1496 680 1496 675 1505 702 1494 690 1504 703 1500 686 1499 713 1515 702 1519 674 1505 682 1499 661 1519 661 1504 652 1506 697 1501 646 1519 671 1509 668 1499 656 1504 674 1517 699 1500 663 1497 680 1514 692 1519 665 1498 662 1499 685 1515 697 1513 678 1500 681 1511 661 1517 676 1516 647 1507 661 1514 698 1493 642 1496 646 1504 653 1523 647 1518 641 1519 671 1509 639 1500 652 1503 639 1517 655 1497 646 1506 675 1505 686 1520 668 1500 648 1503 672 1513 656 1505 653 1514 653 1503 658 1510 636 1508 668 1533 634 1513 682 1508 643 1530 621 1524 674 1531 673 1509 638 1524 629 1511 669 1528 632 1501 664 1514 617 1519 603 1525 641 1501 643 1499 617 1510 647 1515 665 1498 610 1499 657 1500 633 1513 648 1489 635 1514 646 1516 647 1518 598 1507 614 1510 618 1495 650 1500 620 1529 608 1518 627 1500 632 1508 642 1529 650 1502 603 1524 647 1505 644 1519 627 1505 616 1511 591 1512 616 1522 647 1511 647 1510 640 1535 588 1512 634 1515 636 1540 592 1511 598 1527 614 1527 614 1507 585 1515 592 1509 610 1519 621 1524 619 1525 620 1516 620 1507 628 1526 601 1502 602 1502 579 1506 596 1513 571 1495 610 1531 576 1523 601 1507 615 1515 578 1495 608 1511 604 1522 589 1499 597 1498 607 1495 578 1510 620 1503 577 1518 583 1502 576 1526 617 1523 573 1525 581 1505 611 1533 602 1512 569 1524 612 1531 615 1527 585 1532 570 1524 586 1525 562 1512 608 1528 562 1535 542 1525 568 1523 575 1510 570 1511 602 1527 589 1505 556 1531 606 1519 541 1505 555 1504 584 1504 555 1504 587 1518 569 1526 597 1518 591 1509 594 1499 571 1496 554 1509 560 1526 583 1498 549 1519 558 1518 555 1496 540 1495 576 1518 540 1516 552 1504 546 1505 577 1507 558 1520 574 1522 547 1521 550 1526 525 1508 540 1500 572 1502 542 1511 561 1517 569 1526 541 1511 561 1515 545 1502 596 1516 544 1524 539 1520 579 1523 522 1508 570 1519 578 1496 520 1511 567 1519 562 1506 517 1505 545 1493 567 1508 571 1494 556 1511 532 1491 517 1515 565 1502 529 1520 537 1492 521 1489 527 1518 540 1502 555 1488 515 1505 522 1508 515 1498 531 1518 544 1505 517 1493 531 1509 526 1520 496 1523 556 1522 520 1494 498 1520 511 1499 501 1509 530 1504 533 1506 526 1498 523 1505 536 1503 507 1502 517 1497 532 1487 500 1501 482 1506 502 1490 534 1512 521 1515 532 1490 481 1511 519 1508 489 1508 534 1494 525 1519 506 1503 536 1517 524 1523 537 1525 533 1516 493 1494 539 1523 513 1516 482 1508 507 1498 501 1506 527 1492 514 1511 496 1513 501 1491 519 1495 482 1488 505 1494 487 1483 474 1479 498 1495 519 1509 526 1496 485 1484 512 1516 489 1508 517 1508 469 1519 488 1501 473 1518 519 1501 516 1519 534 1495 498 1512 508 1514 470 1505 503 1514 485 1521 463 1503 499 1503 501 1513 458 1518 475 1501 489 1521 456 1497 447 1528 508 1516 473 1512 475 1505 503 1503 444 1508 451 1528 498 1512 467 1501 444 1511 473 1524 474 1521 471 1516 445 1515 492 1492 480 1507 488 1500 437 1497 482 1508 495 1507 478 1506 450 1500 437 1495 467 1483 443 1504 474 1491 480 1496 448 1489 433 1491 436 1487 459 1505 432 1496 451 1506 450 1506 482 1480 437 1498 468 1497 442 1488 466 1488 457 1507 424 1495 442 1503 461 1493 435 1508 458 1490 467 1509 474 1502 491 1496 460 1495 421 1502 470 1526 470 1499 468 1509 425 1524 464 1531 471 1529 449 1517 424 1514 444 1510 454 1521 437 1529 456 1523 423 1507 466 1515 415 1512 423 1524 459 1518 407 1534 449 1532 439 1531 445 1511 445 1540 435 1513 425 1533 451 1526 411 1533 425 1519 423 1532 394 1504 440 1496 455 1497 453 1506 414 1521 424 1512 442 1508 389 1502 399 1498 395 1507 442 1499 415 1511 421 1495 425 1491 385 1499 418 1515 439 1496 423 1517 412 1505 382 1519 365 1530 370 1527 385 1528 388 1530 391 1508 408 1507 406 1516 415 1527 386 1531 394 1539 374 1506 384 1528 395 1518 411 1520 420 1512 385 1528 415 1503 363 1513 410 1518 406 1511 397 1514 387 1515 386 1509 403 1499 409 1502 410 1502 368 1504 365 1518 365 1522 394 1496 407 1501 364 1509 421 1514 405 1516 395 1512 404 1522 411 1521 354 1518 394 1519 381 1534 366 1514 348 1509 380 1529 378 1529 345 1532 397 1510 350 1512 371 1512 393 1509 364 1508 398 1513 355 1497 365 1496 380 1520 335 1519 376 1518 360 1496 366 1502 391 1502 350 1493 336 1492 354 1504 353 1483 360 1507 349 1512 331 1484 385 1488 380 1510 354 1509 378 1510 349 1513 329 1487 365 1498 358 1506 339 1490 340 1519 323 1501 317 1497 361 1509 364 1513 371 1514 314 1500 347 1499 357 1497 352 1503 341 1511 318 1528 331 1502 345 1528 346 1523 354 1536 344 1534 319 1517 360 1539 337 1534 321 1512 345 1544 337 1527 318 1540 313 1524 368 1523 305 1509 356 1534 322 1514 323 1528 335 1519 342 1522 329 1522 306 1521 308 1528 352 1514 301 1523 352 1528 316 1531 342 1527 294 1502 333 1499 298 1520 362 1516 326 1534 312 1516 287 1525 286 1518 338 1526 323 1520 327 1523 341 1521 313 1533 317 1547 334 1532 307 1527 324 1544 324 1520 335 1534 325 1523 303 1517 315 1542 302 1528 312 1530 281 1532 306 1534 308 1535 260 1522 277 1529 331 1510 303 1535 329 1525 322 1515 294 1528 255 1519 276 1508 321 1506 252 1516 290 1508 322 1516 277 1517 306 1532 284 1518 315 1524 322 1514 273 1517 301 1524 302 1502 267 1524 293 1516 310 1522 305 1503 284 1500 290 1511 297 1515 274 1506 301 1495 277 1496 312 1510 277 1521 278 1516 297 1511 284 1514 307 1523 308 1505 306 1513 258 1531 296 1522 262 1524 302 1526 246 1532 257 1522 276 1527 278 1516 299 1517 250 1506 282 1506 255 1510 297 1522 297 1504 306 1495 248 1508 278 1519 242 1494 274 1486 289 1503 240 1498 288 1497 270 1507 242 1502 254 1491 242 1505 249 1488 237 1505 270 1506 285 1503 287 1506 244 1523 280 1505 262 1505 239 1505 243 1501 232 1497 257 1526 252 1520 229 1498 255 1499 263 1498 283 1522 253 1515 232 1523 222 1494 272 1515 267 1512 234 1507 236 1503 250 1507 223 1504 215 1522 268 1494 216 1511 245 1524 215 1516 212 1513 255 1510 265 1529 229 1532 244 1533 226 1518 213 1519 214 1528 215 1521 223 1513 241 1517 205 1511 235 1515 204 1530 207 1527 256 1507 233 1524 221 1523 232 1505 243 1527 238 1525 201 1509 199 1507 230 1520 192 1508 211 1527 231 1527 231 1505 251 1529 200 1504 224 1504 229 1524 222 1501 207 1521 239 1505 214 1504 230 1501 198 1496 205 1505 192 1518 199 1505 202 1503 199 1517 221 1522 181 1504 197 1520 207 1511 205 1519 232 1524 201 1515 210 1520 202 1498 203 1507 213 1527 188 1520 195 1505 210 1523 234 1522 215 1496 217 1504 182 1495 215 1514 231 1516 198 1484 228 1516 219 1506 220 1493 196 1507 200 1496 227 1515 212 1492 164 1505 172 1508 213 1507 167 1506 180 1490 171 1516 213 1520 212 1495 198 1510 180 1507 190 1505 167 1506 180 1511 190 1504 156 1499 197 1529 234 1510 208 1537 166 1532 163 1509 174 1510 178 1535 186 1522 152 1526 167 1528 178 1513 136 1525 209 1542 194 1516 206 1527 173 1529 205 1538 210 1527 184 1520 147 1518 161 1529 176 1536 168 1533 160 1513 145 1529 199 1520 187 1534 191 1505 143 1512" stroke="#e3190f" fill="none"/>
</g>
<text x="704.0" y="264.0" font-size="61.5" textLength="571.5" lengthAdjust="spacing">Layer, anodized at</text>
<text x="603.1" y="333.0" font-size="61.5" textLength="287.1" lengthAdjust="spacing">j=2 A/dm</text>
<text x="891.8" y="307.0" font-size="43.5">2</text>
<text x="940.0" y="333.0" font-size="61.5" textLength="336.6" lengthAdjust="spacing">H=2.5 GPa</text>
<text x="335.5" y="661.0" font-size="61.5" textLength="572.0" lengthAdjust="spacing">Layer, anodized at</text>
<text x="230.6" y="733.0" font-size="61.5" textLength="287.6" lengthAdjust="spacing">j=6 A/dm</text>
<text x="519.3" y="708.5" font-size="43.5">2</text>
<text x="568.0" y="733.0" font-size="61.5" textLength="336.6" lengthAdjust="spacing">H=6.7 GPa</text>
<text x="1728.9" y="151.0" font-size="61.5" textLength="294.8" lengthAdjust="spacing">Substrate</text>
<text x="1699.0" y="228.5" font-size="61.5" textLength="337.1" lengthAdjust="spacing">H=0.9 GPa</text>
<text x="948.5" y="1719.0" font-size="61.5" textLength="520.8" lengthAdjust="spacing">Penetration (nm)</text>
<text x="197.7" y="1640.0" font-size="61.5">0</text>
<text x="458.7" y="1640.0" font-size="61.5" textLength="122.3" lengthAdjust="spacing">100</text>
<text x="768.0" y="1640.0" font-size="61.5" textLength="120.1" lengthAdjust="spacing">200</text>
<text x="1071.8" y="1640.0" font-size="61.5" textLength="119.8" lengthAdjust="spacing">300</text>
<text x="1376.5" y="1640.0" font-size="61.5" textLength="118.6" lengthAdjust="spacing">400</text>
<text x="1682.3" y="1640.0" font-size="61.5" textLength="120.3" lengthAdjust="spacing">500</text>
<text x="1985.7" y="1640.0" font-size="61.5" textLength="119.4" lengthAdjust="spacing">600</text>
<text x="115.8" y="1523.5" font-size="61.5">0</text>
<text x="117.3" y="1282.0" font-size="61.5">1</text>
<text x="117.8" y="1040.5" font-size="61.5">2</text>
<text x="116.6" y="799.0" font-size="61.5">3</text>
<text x="115.1" y="557.5" font-size="61.5">4</text>
<text x="117.0" y="316.0" font-size="61.5">5</text>
<text x="115.5" y="74.5" font-size="61.5">6</text>
<text transform="translate(74.5,968.5) rotate(-90) scale(1.0193,1.0974)" x="-5.9" y="0" font-size="60.0">Load (mN)</text>
<g fill="none" stroke-width="8" stroke-linecap="butt" stroke-linejoin="miter">
<path d="M1286 287.5 L1648 383" stroke="#089e74"/>
<path d="M1647 352 L1650 384 L1629 390" stroke="#089e74"/>
<path d="M1919 238 L1919 384" stroke="#0571b5"/>
<path d="M1896 362 L1919 386 L1942 362" stroke="#0571b5"/>
<path d="M759 749 L759 910" stroke="#e3190f"/>
<path d="M735 887 L760 912 L783 884" stroke="#e3190f"/>
</g>
</svg>
</body></html>
